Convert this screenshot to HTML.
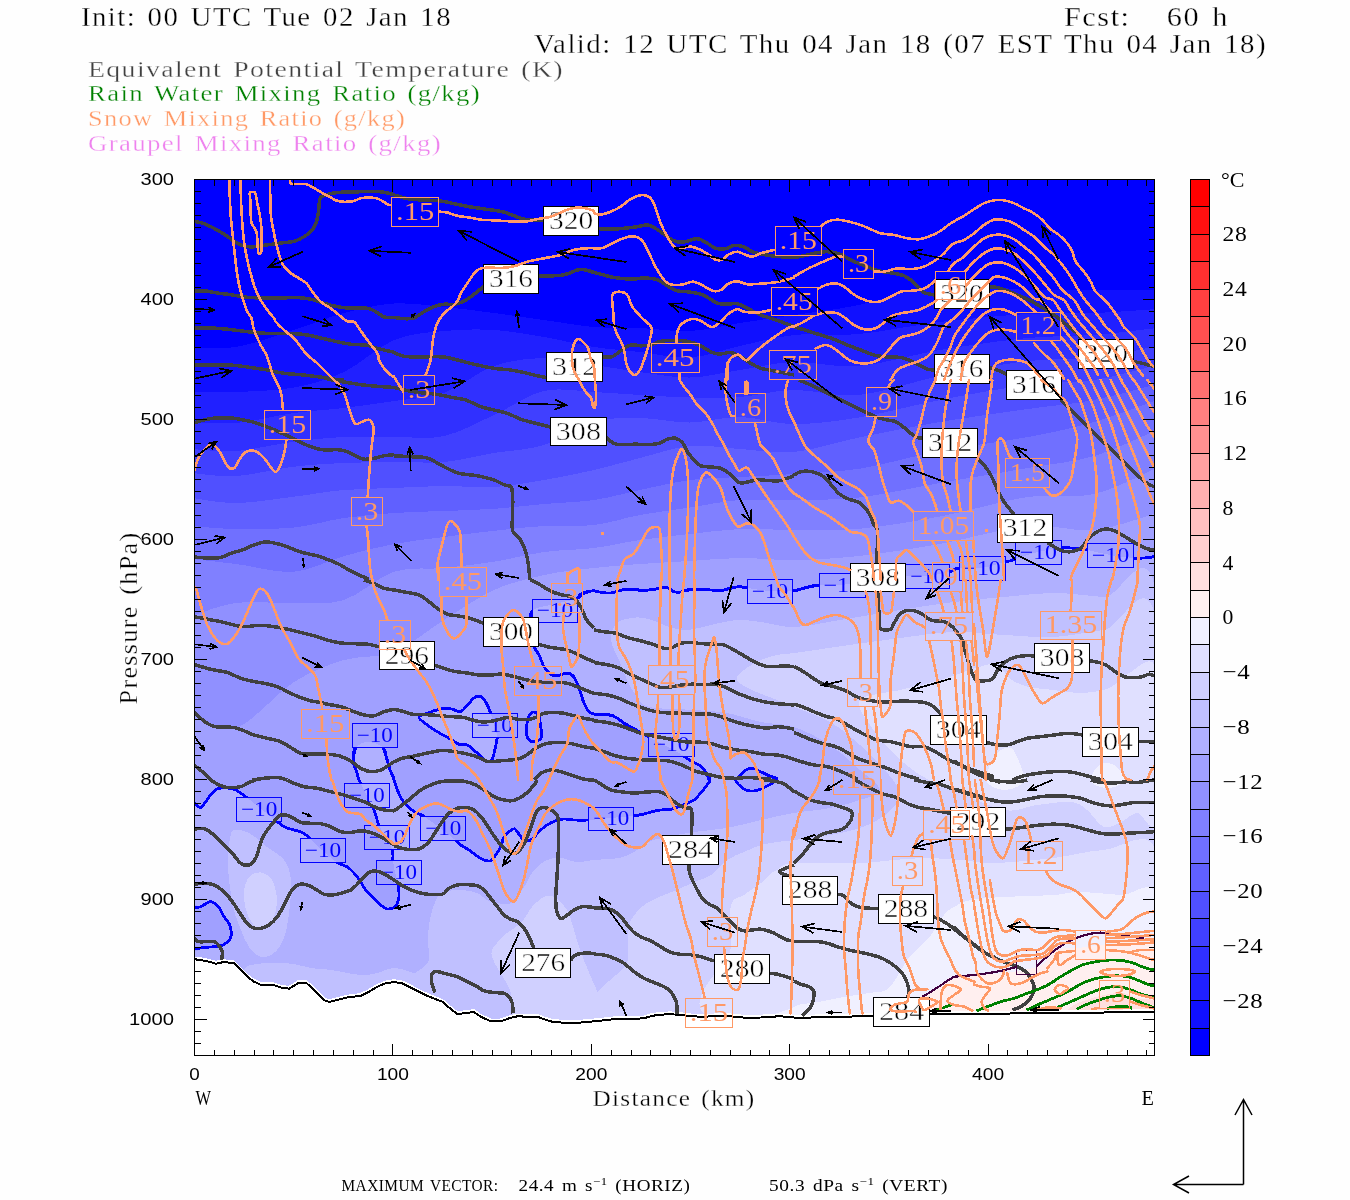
<!DOCTYPE html>
<html lang="en"><head><meta charset="utf-8"><title>Cross section: Equivalent Potential Temperature, Mixing Ratios</title>
<style>
html,body{margin:0;padding:0;background:#fff;}
body{width:1350px;height:1200px;overflow:hidden;position:relative;}
svg{position:absolute;left:0;top:0;display:block;}
text{font-family:"Liberation Serif",serif;fill:#000;}
.tt2{letter-spacing:0.03em;word-spacing:0.12em;}
.tt{letter-spacing:0.05em;word-spacing:0.1em;stroke:#fefefe;stroke-width:0.3px;}
.sans{font-family:"Liberation Sans",sans-serif;}
</style></head><body>
<svg width="1350" height="1200" viewBox="0 0 1350 1200">
<rect x="0" y="0" width="1350" height="1200" fill="#fefefe"/>
<defs><clipPath id="pc"><rect x="194.5" y="179.5" width="960" height="876"/></clipPath><mask id="ms" maskUnits="userSpaceOnUse" x="0" y="0" width="1350" height="1200"><rect x="0" y="0" width="1350" height="1200" fill="#fff"/><rect x="391.5" y="197.2" width="47.2" height="29.1" fill="#000"/><rect x="775.2" y="226.3" width="46.3" height="29" fill="#000"/><rect x="843.5" y="249.5" width="30.2" height="29.2" fill="#000"/><rect x="771.2" y="287.5" width="46.1" height="28.3" fill="#000"/><rect x="651.2" y="343.3" width="47.8" height="29.2" fill="#000"/><rect x="769" y="350.4" width="47.5" height="29" fill="#000"/><rect x="403.2" y="375" width="31.6" height="29.7" fill="#000"/><rect x="735.3" y="393.3" width="30.4" height="29.2" fill="#000"/><rect x="264.3" y="410.3" width="46.4" height="29.2" fill="#000"/><rect x="351.2" y="497.2" width="31.6" height="28.6" fill="#000"/><rect x="935.3" y="271.3" width="30.4" height="28.4" fill="#000"/><rect x="1016" y="312.5" width="44.3" height="27.8" fill="#000"/><rect x="866.5" y="387.5" width="30" height="28.8" fill="#000"/><rect x="1005.3" y="458.3" width="44.2" height="29.2" fill="#000"/><rect x="913.3" y="511.7" width="60.4" height="28.6" fill="#000"/><rect x="439.3" y="567" width="47.2" height="29.3" fill="#000"/><rect x="551.5" y="583.3" width="31.2" height="28.9" fill="#000"/><rect x="379.3" y="620" width="31.4" height="29" fill="#000"/><rect x="514.3" y="666.3" width="47.5" height="29.2" fill="#000"/><rect x="648.2" y="665.3" width="45.8" height="29.4" fill="#000"/><rect x="301.5" y="709.2" width="47.5" height="29.5" fill="#000"/><rect x="925.3" y="612.5" width="47.4" height="27.5" fill="#000"/><rect x="1040.3" y="611.2" width="61.5" height="28.3" fill="#000"/><rect x="847.3" y="678.3" width="30" height="28.4" fill="#000"/><rect x="833.2" y="765" width="47.5" height="29.7" fill="#000"/><rect x="923.7" y="810.8" width="46.1" height="28.7" fill="#000"/><rect x="1016.2" y="841.3" width="45.8" height="29.2" fill="#000"/><rect x="892.3" y="856.3" width="30.4" height="29.5" fill="#000"/><rect x="707.3" y="917.5" width="30.4" height="29.2" fill="#000"/><rect x="1075.7" y="930.8" width="29.6" height="28.7" fill="#000"/><rect x="1099.3" y="980" width="30.5" height="28.3" fill="#000"/><rect x="685.3" y="998.3" width="47.4" height="29.2" fill="#000"/><rect x="932.3" y="562.5" width="30" height="28.5" fill="#000"/></mask><mask id="mb" maskUnits="userSpaceOnUse" x="0" y="0" width="1350" height="1200"><rect x="0" y="0" width="1350" height="1200" fill="#fff"/><rect x="236.5" y="797.2" width="45.3" height="24.1" fill="#000"/><rect x="300.3" y="838.3" width="45.4" height="24.2" fill="#000"/><rect x="344.5" y="783.3" width="44.8" height="24.2" fill="#000"/><rect x="364.3" y="825.3" width="45.5" height="23.9" fill="#000"/><rect x="376.5" y="860.8" width="45" height="23.4" fill="#000"/><rect x="352.3" y="723.3" width="45" height="24.2" fill="#000"/><rect x="420.7" y="816.3" width="45" height="24" fill="#000"/><rect x="472.3" y="713.3" width="45" height="24.2" fill="#000"/><rect x="532.3" y="599.5" width="45.4" height="23" fill="#000"/><rect x="588.7" y="807.5" width="45" height="22.5" fill="#000"/><rect x="648.2" y="733.3" width="45.8" height="23" fill="#000"/><rect x="747.3" y="579" width="45.4" height="24.3" fill="#000"/><rect x="819" y="573.3" width="46.7" height="24.2" fill="#000"/><rect x="905.7" y="564.2" width="43.3" height="24.1" fill="#000"/><rect x="959" y="556.3" width="46.3" height="24.2" fill="#000"/><rect x="1015.3" y="540.3" width="46.2" height="23.9" fill="#000"/><rect x="1087.3" y="543.3" width="46.4" height="24.2" fill="#000"/></mask></defs>
<g clip-path="url(#pc)" shape-rendering="crispEdges">
<rect x="194" y="179" width="961" height="877" fill="#0000ff"/>
<path d="M192,347C199.3,347 219,349.8 236,347C253,344.2 276,335.7 294,330C312,324.3 327.3,317.4 344,313C360.7,308.6 377.3,304.5 394,303.5C410.7,302.5 427.3,305.4 444,307C460.7,308.6 477.3,310.8 494,313C510.7,315.2 527.3,317.7 544,320C560.7,322.3 578,325.7 594,327C610,328.3 624,327.3 640,328C656,328.7 673.3,331.8 690,331C706.7,330.2 722.7,325.7 740,323C757.3,320.3 774.2,318 794,315C813.8,312 834.7,310 859,305C883.3,300 911.8,287.5 940,285C968.2,282.5 1002.3,289.2 1028,290C1053.7,290.8 1072.5,290 1094,290C1115.5,290 1146.5,290 1157,290L1157.0,1056.0L192.0,1056.0Z" fill="rgb(16,16,255)"/>
<path d="M192,391.5C199.3,391.6 219,392.7 236,392C253,391.3 276,390.8 294,387.5C312,384.2 327.3,379.9 344,372C360.7,364.1 377.3,346.8 394,340C410.7,333.2 427.3,332.7 444,331C460.7,329.3 477.3,329 494,330C510.7,331 527.3,334.2 544,337C560.7,339.8 578,344.5 594,347C610,349.5 624,350.2 640,352C656,353.8 673.3,358.5 690,357.5C706.7,356.5 722.7,349.8 740,346C757.3,342.2 774.2,337 794,335C813.8,333 834.7,336.2 859,334C883.3,331.8 911.8,325.3 940,322C968.2,318.7 1002.3,315.5 1028,314C1053.7,312.5 1072.5,313.8 1094,313C1115.5,312.2 1146.5,309.7 1157,309L1157.0,1056.0L192.0,1056.0Z" fill="rgb(32,32,255)"/>
<path d="M192,422C199.3,422.2 219,424.5 236,423C253,421.5 276,415.5 294,413C312,410.5 327.3,410 344,408C360.7,406 377.3,403.5 394,401C410.7,398.5 427.3,398.8 444,393C460.7,387.2 477.3,371.8 494,366C510.7,360.2 527.3,358.2 544,358C560.7,357.8 578,362.7 594,365C610,367.3 624,369.9 640,372C656,374.1 673.3,377.8 690,377.5C706.7,377.2 722.7,372.6 740,370C757.3,367.4 774.2,362.7 794,362C813.8,361.3 834.7,368 859,366C883.3,364 911.8,354.7 940,350C968.2,345.3 1002.3,340.5 1028,338C1053.7,335.5 1072.5,336.7 1094,335C1115.5,333.3 1146.5,329.2 1157,328L1157.0,1056.0L192.0,1056.0Z" fill="rgb(48,48,255)"/>
<path d="M192,449C199.3,449.3 219,452.2 236,451C253,449.8 276,444 294,441.7C312,439.4 327.3,437.8 344,437C360.7,436.2 377.3,437.2 394,437C410.7,436.8 427.3,439.7 444,436C460.7,432.3 477.3,422.5 494,415C510.7,407.5 527.3,394.8 544,391C560.7,387.2 578,391.3 594,392C610,392.7 624,394.1 640,395C656,395.9 673.3,397.2 690,397.5C706.7,397.8 722.7,398.2 740,397C757.3,395.8 774.2,390.3 794,390C813.8,389.7 834.7,397.3 859,395C883.3,392.7 911.8,381.7 940,376C968.2,370.3 1002.3,364 1028,361C1053.7,358 1072.5,360.5 1094,358C1115.5,355.5 1146.5,348 1157,346L1157.0,1056.0L192.0,1056.0Z" fill="rgb(64,64,255)"/>
<path d="M192,473C199.3,473.5 219,477.1 236,476C253,474.9 276,468.9 294,466.7C312,464.5 327.3,463.8 344,463C360.7,462.2 377.3,462.2 394,462C410.7,461.8 427.3,463.5 444,462C460.7,460.5 477.3,455.8 494,453C510.7,450.2 527.3,450.2 544,445C560.7,439.8 578,426.5 594,422C610,417.5 624,417.9 640,418C656,418.1 673.3,422.7 690,422.5C706.7,422.3 722.7,416.8 740,417C757.3,417.2 774.2,423.9 794,424C813.8,424.1 834.7,421.5 859,417.5C883.3,413.5 911.8,405.4 940,400C968.2,394.6 1002.3,388.3 1028,385C1053.7,381.7 1072.5,383.3 1094,380C1115.5,376.7 1146.5,367.5 1157,365L1157.0,1056.0L192.0,1056.0Z" fill="rgb(80,80,255)"/>
<path d="M192,498C199.3,498.8 219,503.2 236,503C253,502.8 276,498.9 294,496.7C312,494.5 327.3,491.4 344,490C360.7,488.6 377.3,488.7 394,488C410.7,487.3 427.3,486.2 444,486C460.7,485.8 477.3,488 494,487C510.7,486 527.3,482.8 544,480C560.7,477.2 578,473.7 594,470C610,466.3 624,462 640,458C656,454 673.3,447.5 690,446C706.7,444.5 722.7,448 740,449C757.3,450 774.2,453.9 794,452C813.8,450.1 834.7,442.5 859,437.5C883.3,432.5 911.8,426.8 940,422C968.2,417.2 1002.3,412.7 1028,409C1053.7,405.3 1072.5,404.2 1094,400C1115.5,395.8 1146.5,386.7 1157,384L1157.0,1056.0L192.0,1056.0Z" fill="rgb(96,96,255)"/>
<path d="M192,526C199.3,526.5 219,528.8 236,529C253,529.2 276,529.3 294,527.5C312,525.7 327.3,520.4 344,518C360.7,515.6 377.3,514.2 394,513C410.7,511.8 427.3,511.7 444,511C460.7,510.3 477.3,510 494,508.8C510.7,507.6 527.3,505.5 544,504C560.7,502.5 578,502.3 594,500C610,497.7 624,493.3 640,490C656,486.7 673.3,482.2 690,480C706.7,477.8 722.7,478 740,477C757.3,476 774.2,475.4 794,474C813.8,472.6 834.7,472.6 859,468.8C883.3,465 911.8,456.3 940,451C968.2,445.7 1002.3,441.8 1028,437C1053.7,432.2 1072.5,428.2 1094,422C1115.5,415.8 1146.5,403.7 1157,400L1157.0,1056.0L192.0,1056.0Z" fill="rgb(112,112,255)"/>
<path d="M192,559C199.3,559.8 219,561.9 236,564C253,566.1 276,573 294,571.7C312,570.4 327.3,560.6 344,556C360.7,551.4 377.3,547.2 394,544C410.7,540.8 427.3,539.2 444,537C460.7,534.8 477.3,532.6 494,530.8C510.7,529 527.3,527 544,526C560.7,525 578,526.8 594,525C610,523.2 624,517.9 640,515C656,512.1 673.3,510 690,507.5C706.7,505 722.7,501.2 740,500C757.3,498.8 774.2,500.4 794,500C813.8,499.6 834.7,500.3 859,497.5C883.3,494.7 911.8,487.9 940,483C968.2,478.1 1002.3,472.5 1028,468C1053.7,463.5 1072.5,462.3 1094,456C1115.5,449.7 1146.5,434.3 1157,430L1157.0,1056.0L192.0,1056.0Z" fill="rgb(128,128,255)"/>
<path d="M192,616C199.3,613.8 219,605.2 236,603C253,600.8 276,603.5 294,603C312,602.5 327.3,605.2 344,600C360.7,594.8 377.3,577 394,571.7C410.7,566.4 427.3,569.7 444,568C460.7,566.3 477.3,564.4 494,561.7C510.7,559 527.3,554.3 544,552C560.7,549.7 578,550 594,548C610,546 624,542.3 640,540C656,537.7 673.3,535.8 690,534C706.7,532.2 722.7,529.7 740,529C757.3,528.3 774.2,530 794,530C813.8,530 834.7,531 859,528.8C883.3,526.5 911.8,521.8 940,516.5C968.2,511.2 1002.3,500.8 1028,497C1053.7,493.2 1072.5,498.8 1094,494C1115.5,489.2 1146.5,472.3 1157,468L1157.0,1056.0L192.0,1056.0Z" fill="rgb(144,144,255)"/>
<path d="M192,715C199.3,717.2 219,733.5 236,728C253,722.5 276,693.3 294,682C312,670.7 327.3,665 344,660C360.7,655 377.3,658.7 394,652C410.7,645.3 427.3,630.3 444,620C460.7,609.7 477.3,597.5 494,590C510.7,582.5 527.3,578.7 544,575C560.7,571.3 578,569.8 594,568C610,566.2 624,565.2 640,564C656,562.8 673.3,562 690,561C706.7,560 722.7,558.2 740,558C757.3,557.8 774.2,560.3 794,560C813.8,559.7 834.7,558.7 859,556C883.3,553.3 911.8,549 940,544C968.2,539 1002.3,528.3 1028,526C1053.7,523.7 1072.5,532.2 1094,530C1115.5,527.8 1146.5,515.8 1157,513L1157.0,1056.0L192.0,1056.0Z" fill="rgb(160,160,255)"/>
<path d="M194,803C195.1,803.8 198.8,807.7 200.7,807.5C202.6,807.3 204,803.8 205.7,801.7C207.4,799.6 208.8,797.1 210.7,795C212.6,792.9 214.3,790.2 217,789C219.7,787.8 223.9,787.8 227,788C230.1,788.2 232.6,788.5 235.7,790C238.8,791.5 241.6,793.7 245.7,796.7C249.8,799.7 254.8,803.9 260,808C265.2,812.1 273,818.2 277,821.3C281,824.4 281.2,825.2 284,826.7C286.8,828.2 290.9,829 294,830C297.1,831 299.8,831.2 302.3,832.5C304.8,833.8 305.7,834.6 309,837.5C312.3,840.4 317.3,845.8 322,850C326.7,854.2 332.8,859.7 337,862.5C341.2,865.3 344.2,865 347,866.7C349.8,868.5 351.7,870.5 354,873C356.3,875.5 358.8,878.9 360.7,881.7C362.6,884.5 363.5,887.3 365.7,890C367.9,892.7 371.5,895.5 374,898C376.5,900.5 378.5,903.2 380.7,905C382.9,906.8 384.8,908.6 387,909C389.2,909.4 392.4,908.2 394,907.5C395.6,906.8 395.7,906.8 396.5,905C397.3,903.2 398.8,900.2 399,896.7C399.2,893.2 398.7,888.1 398,884C397.3,879.9 395.8,875.9 395,872C394.2,868.1 393.4,864.5 393,860.8C392.6,857.1 393.5,853.8 392.3,850C391.1,846.2 388.2,842.1 386,838C383.8,833.9 380.7,829.1 379,825.3C377.3,821.5 376.7,818 375.7,815C374.7,812 374.6,811 373,807.5C371.4,804 368.3,798.6 366,794C363.7,789.4 360.6,783.7 359,780C357.4,776.3 357.5,775 356.5,771.7C355.5,768.4 353.1,764 353,760C352.9,756 353.2,750.5 355.7,747.5C358.2,744.5 363.4,742 368,742C372.6,742 379.8,744.5 383,747.5C386.2,750.5 385.7,756 387,760C388.3,764 389.5,768.4 390.7,771.7C391.9,775 392.9,777 394,780C395.1,783 395.9,786.7 397.3,790C398.7,793.3 400.4,797.1 402.3,800C404.2,802.9 406.8,805.4 409,807.5C411.2,809.6 413.4,811.1 415.7,812.5C418,813.9 418.9,813.2 423,815.8C427.1,818.4 434.6,823.9 440,828C445.4,832.1 452.2,837.5 455.7,840.3C459.1,843.1 458.5,843.4 460.7,845C462.9,846.6 466.3,848.2 469,850C471.7,851.8 474.5,854.3 477,856C479.5,857.7 481.7,859.2 484,860C486.3,860.8 488.8,861.6 490.7,860.8C492.6,860 494,857.4 495.7,855C497.4,852.6 499.3,849.8 500.7,846.7C502.1,843.7 502.6,839.2 504,836.7C505.4,834.2 507.2,833 509,831.7C510.8,830.4 512.8,828.2 514.8,829C516.8,829.8 518.9,834.7 520.7,836.7C522.5,838.7 523.8,840.6 525.7,841C527.6,841.4 530.1,840.5 532.3,839C534.5,837.5 536.5,834 539,831.7C541.5,829.4 544.2,826.8 547,825C549.8,823.2 552.9,821.8 555.7,820.8C558.5,819.8 561,819.1 564,819C567,818.9 569.9,819.8 574,820C578.1,820.2 582.7,820.3 588.7,820C594.7,819.7 602.5,818.7 610,818C617.5,817.3 628,816.5 633.7,815.8C639.4,815.1 641,814.7 644,814C647,813.3 649.2,812.4 652,811.7C654.8,811 657.9,810.3 660.7,810C663.5,809.7 666.3,810.1 669,809.7C671.7,809.3 674.2,808.5 677,807.5C679.8,806.5 682.9,805.2 685.7,804C688.5,802.8 691.5,801.8 694,800C696.5,798.2 698.8,795.2 700.7,793C702.7,790.8 704.2,788.9 705.7,786.7C707.2,784.5 710,782.5 710,780C710,777.5 707.5,774.2 705.7,771.7C703.9,769.2 701.5,766.8 699,765C696.5,763.2 693.2,762.5 690.7,761C688.2,759.5 688.1,758.5 684,756C679.9,753.5 672,749.2 666,746C660,742.8 652.2,739 648,736.7C643.8,734.5 643.4,734 640.7,732.5C638,731 634.8,729.1 632,727.5C629.2,725.9 626.5,724.6 624,723C621.5,721.4 619.2,719.3 617,718C614.8,716.7 613.2,715.5 610.7,715C608.2,714.5 604.8,714.9 602,714.7C599.2,714.5 596.2,714.5 594,714C591.8,713.5 590.7,713.5 589,711.7C587.3,709.9 585.4,706.1 584,703C582.6,699.9 581.9,696.3 580.7,693C579.5,689.7 578.5,686 577,683C575.5,680 573.9,676.7 572,675C570.1,673.3 568.2,672.8 565.7,673C563.2,673.2 559.5,675.8 557,676C554.5,676.2 552.9,675.5 550.7,674C548.5,672.5 546,669.9 544,666.7C542,663.5 540.7,658.3 539,655C537.3,651.7 535.2,650.9 534,646.7C532.8,642.5 532.3,636 532,630C531.7,624 528.2,615.3 532,611C535.8,606.7 547.4,606.1 555,604C562.6,601.9 573.2,600 577.7,598.3C582.2,596.6 580.4,595.1 582.3,594C584.2,592.9 587,592.2 589,591.7C591,591.2 591.8,590.7 594,590.8C596.2,590.9 599.2,592.1 602,592.5C604.8,592.9 607.9,593.3 610.7,593C613.5,592.7 616.3,591.5 619,590.8C621.7,590.1 623.4,589.1 627,589C630.6,588.9 636.5,589.9 640.7,590C644.9,590.1 648.7,590 652,589.7C655.3,589.4 658.2,588.4 660.7,588C663.2,587.6 664.8,586.9 667,587.5C669.2,588.1 671.7,591 674,591.7C676.3,592.5 678.5,592.3 680.7,592C682.9,591.7 684.3,590.5 687,590C689.7,589.5 693,589 697,589C701,589 706.8,589.7 710.7,590C714.7,590.3 717.4,591.1 720.7,590.8C724,590.5 727.7,588.7 730.7,588C733.8,587.3 736.2,586.7 739,586.7C741.8,586.7 742.1,587.3 747.3,588C752.5,588.7 762.2,590.5 770,591C777.8,591.5 788.3,591.3 794,590.8C799.7,590.3 801,588.8 804,588C807,587.2 809.5,586.5 812,586C814.5,585.5 814,585.2 819,585C824,584.8 834.2,585.8 842,585C849.8,584.2 858,581.2 866,580C874,578.8 883.3,578.7 890,578C896.7,577.3 899.8,576.3 906,576C912.2,575.7 919.8,576.7 927,576C934.2,575.3 943.7,573.3 949,572C954.3,570.7 953.5,568.7 959,568C964.5,567.3 974.3,569 982,568C989.7,567 1000.5,562.9 1005.3,561.7C1010.1,560.5 1009,561.2 1010.7,560.8C1012.4,560.3 1010.8,560.5 1015.3,559C1019.8,557.5 1030.3,553.9 1038,552C1045.7,550.1 1056,548.2 1061.5,547.5C1067,546.8 1066.4,547.6 1070.7,548C1075,548.4 1080.8,548.8 1087.3,550C1093.8,551.2 1102.3,553.7 1110,555C1117.7,556.3 1128,557.5 1133.7,558C1139.4,558.5 1140.5,558.2 1144,558C1147.5,557.8 1153.2,556.9 1155,556.7L1157.0,1056.0L192.0,1056.0Z" fill="rgb(176,176,255)"/>
<path d="M497.3,737.5C498,743.6 495.6,746.4 494.8,750C494,753.6 493.6,757 492.3,759C491.1,761 489.2,762.2 487.3,761.7C485.4,761.2 482.6,757.5 480.7,755.8C478.8,754.1 477.9,753.5 475.7,751.7C473.5,749.9 470.1,746.3 467.3,745C464.5,743.7 462.1,745.2 459,744C455.9,742.8 452.6,740 449,738C445.4,736 440.9,733.9 437.3,731.7C433.7,729.5 430.4,727.4 427.3,725C424.2,722.6 419,719.5 419,717.5C419,715.5 424.8,714.4 427.3,713.3C429.8,712.2 431.2,711.6 434,710.8C436.8,710 440.9,708.6 444,708.3C447.1,708 449.5,708.4 452.3,709C455.1,709.6 457.9,712.7 460.7,711.7C463.5,710.8 466.5,705.8 469,703.3C471.5,700.8 473.5,697.7 475.7,696.7C477.9,695.7 480.4,696.1 482.3,697.5C484.2,698.9 485.9,702.4 487.3,705C488.7,707.6 489,707.9 490.7,713.3C492.4,718.7 496.6,731.4 497.3,737.5Z" fill="rgb(176,176,255)"/>
<path d="M192,907.5C193.4,900.5 197.6,907.7 200.7,906.7C203.8,905.7 207.6,901.6 210.7,901.7C213.8,901.8 216.8,905 219,907.5C221.2,910 222.2,913.8 224,916.7C225.8,919.6 228.7,921.5 229.8,925C230.9,928.5 231.8,934.2 230.7,937.5C229.6,940.8 225.8,943.5 223,945C220.2,946.5 217.2,946.3 214,946.7C210.8,947.1 207.7,947.1 204,947.5C200.3,947.9 194,955.7 192,949C190,942.3 190.6,914.5 192,907.5Z" fill="rgb(160,160,255)"/>
<path d="M735.7,780C736,778.3 739,776.7 740.7,775C742.4,773.3 743.8,771.2 745.7,770C747.6,768.8 749.8,767.7 752.3,768C754.8,768.3 757.9,770.4 760.7,771.7C763.5,773 766.3,774.5 769,775.8C771.7,777.1 777,778 777,779.5C777,781 771.7,783.4 769,785C766.3,786.6 763.2,788 760.7,789C758.2,790 756.5,790.8 754,791C751.5,791.2 748.2,791 745.7,790C743.2,789 740.7,786.7 739,785C737.3,783.3 735.4,781.7 735.7,780Z" fill="rgb(160,160,255)"/>
<path d="M429,1025C307.7,1014.2 429.2,975 429,960C428.8,945 427.7,942.5 428,935C428.3,927.5 429.5,921.2 431,915C432.5,908.8 434.8,901.8 437,898C439.2,894.2 440,893.3 444,892C448,890.7 455.5,889.8 461,890C466.5,890.2 472.7,891.3 477,893C481.3,894.7 483.7,898.3 487,900C490.3,901.7 493,902.5 497,903C501,903.5 506.5,905.7 511,903C515.5,900.3 520.2,892.5 524,887C527.8,881.5 530.2,874.5 534,870C537.8,865.5 542.5,862 547,860C551.5,858 556,857.7 561,858C566,858.3 571.5,861.7 577,862C582.5,862.3 587,860.7 594,860C601,859.3 612.3,859.3 619,858C625.7,856.7 629,854.7 634,852C639,849.3 644.3,844.3 649,842C653.7,839.7 654.5,839.7 662,838C669.5,836.3 683.2,833.7 694,832C704.8,830.3 715.8,830 727,828C738.2,826 749.8,822.5 761,820C772.2,817.5 782.5,815 794,813C805.5,811 819,810.2 830,808C841,805.8 851.7,803 860,800C868.3,797 880,795 880,790C880,785 868.3,777.5 860,770C851.7,762.5 841,752.2 830,745C819,737.8 805.5,730.8 794,727C782.5,723.2 772.2,724.3 761,722C749.8,719.7 738.2,715 727,713C715.8,711 707,711 694,710C681,709 658.5,709.2 649,707C639.5,704.8 640.7,701.5 637,697C633.3,692.5 630,686.2 627,680C624,673.8 621.7,666.7 619,660C616.3,653.3 611.3,646.2 611,640C610.7,633.8 612.8,626.8 617,623C621.2,619.2 630.2,618 636,617.5C641.8,617 646.5,618.4 652,620C657.5,621.6 663.2,625.3 669,627C674.8,628.7 680,630.3 687,630C694,629.7 702.8,626.7 711,625C719.2,623.3 727.7,620.5 736,620C744.3,619.5 751.3,620.8 761,622C770.7,623.2 780.8,627.3 794,627C807.2,626.7 822.3,622.8 840,620C857.7,617.2 881,613 900,610C919,607 936.7,604.2 954,602C971.3,599.8 987.3,598.5 1004,597C1020.7,595.5 1037.3,593 1054,593C1070.7,593 1086.8,595.8 1104,597C1121.2,598.2 1148.2,528.7 1157,600C1165.8,671.3 1278.3,954.2 1157,1025C1035.7,1095.8 550.3,1035.8 429,1025Z" fill="rgb(192,192,255)"/>
<path d="M234,830C237.2,829.2 243.5,830.2 249,833C254.5,835.8 261.2,842.5 267,847C272.8,851.5 280,854.5 284,860C288,865.5 290.2,871.2 291,880C291.8,888.8 290.2,903.3 289,913C287.8,922.7 286.5,931.3 284,938C281.5,944.7 277.8,949.8 274,953C270.2,956.2 265.2,958 261,957C256.8,956 252.3,951.5 249,947C245.7,942.5 243.5,936.2 241,930C238.5,923.8 236,918.3 234,910C232,901.7 230,889.2 229,880C228,870.8 227.8,862 228,855C228.2,848 229,842.2 230,838C231,833.8 230.8,830.8 234,830Z" fill="rgb(192,192,255)"/>
<path d="M240,1000C209.2,990.8 241.2,976 244,970C246.8,964 251.5,965.2 257,964C262.5,962.8 270.8,963 277,963C283.2,963 288.3,963.2 294,964C299.7,964.8 304.8,967 311,968C317.2,969 322.7,968.8 331,970C339.3,971.2 353.3,974.5 361,975C368.7,975.5 371.5,974.2 377,973C382.5,971.8 388.5,968.2 394,968C399.5,967.8 404.2,970 410,972C415.8,974 425.8,971.2 429,980C432.2,988.8 460.5,1021.7 429,1025C397.5,1028.3 270.8,1009.2 240,1000Z" fill="rgb(192,192,255)"/>
<path d="M737,680C735.7,676.7 740,673.3 744,670C748,666.7 755.5,662.5 761,660C766.5,657.5 771.5,656.2 777,655C782.5,653.8 781.8,654.7 794,653C806.2,651.3 832.3,647.5 850,645C867.7,642.5 882.7,640.2 900,638C917.3,635.8 936.7,632.5 954,632C971.3,631.5 987.3,634.2 1004,635C1020.7,635.8 1037.3,637.8 1054,637C1070.7,636.2 1086.8,631.7 1104,630C1121.2,628.3 1148.2,561.2 1157,627C1165.8,692.8 1245.2,958.7 1157,1025C1068.8,1091.3 716.2,1035.8 628,1025C539.8,1014.2 627.8,976.3 628,960C628.2,943.7 627.7,934.8 629,927C630.3,919.2 633,917 636,913C639,909 642.3,906 647,903C651.7,900 659,897.2 664,895C669,892.8 672,892.2 677,890C682,887.8 688.3,884.5 694,882C699.7,879.5 705.5,878.7 711,875C716.5,871.3 721.5,863.8 727,860C732.5,856.2 738.3,854.5 744,852C749.7,849.5 755.5,846.7 761,845C766.5,843.3 771.5,842.8 777,842C782.5,841.2 785.2,841.2 794,840C802.8,838.8 819,837 830,835C841,833 850.8,831.3 860,828C869.2,824.7 878.3,820.5 885,815C891.7,809.5 900,802.5 900,795C900,787.5 891.7,778.3 885,770C878.3,761.7 869.2,753 860,745C850.8,737 841,728.3 830,722C819,715.7 802.8,710.7 794,707C785.2,703.3 784,702.8 777,700C770,697.2 758.7,693.3 752,690C745.3,686.7 738.3,683.3 737,680Z" fill="rgb(208,208,255)"/>
<path d="M492,957C489.8,949.2 494.5,947 497,943C499.5,939 503,936.3 507,933C511,929.7 516.8,927.3 521,923C525.2,918.7 528.2,911.3 532,907C535.8,902.7 540.3,898.7 544,897C547.7,895.3 550.2,894.8 554,897C557.8,899.2 563.7,904.5 567,910C570.3,915.5 571.8,923.3 574,930C576.2,936.7 577.3,942.5 580,950C582.7,957.5 586.7,966.7 590,975C593.3,983.3 598.3,991.7 600,1000C601.7,1008.3 613.2,1020.8 600,1025C586.8,1029.2 536,1030.8 521,1025C506,1019.2 514.8,1001.3 510,990C505.2,978.7 494.2,964.8 492,957Z" fill="rgb(208,208,255)"/>
<path d="M249,877C251.8,873.6 257.2,872 261,872.5C264.8,873 269.3,875.4 272,880C274.7,884.6 276.7,893.8 277,900C277.3,906.2 275.8,912.5 274,917C272.2,921.5 269,925.3 266,927C263,928.7 259.2,929.3 256,927C252.8,924.7 249,918.7 247,913C245,907.3 243.7,899 244,893C244.3,887 246.2,880.4 249,877Z" fill="rgb(208,208,255)"/>
<path d="M731,1025C660,1012 731,967 731,947C731,927 728.8,913.7 731,905C733.2,896.3 739,898.7 744,895C749,891.3 756.8,886.3 761,883C765.2,879.7 766.3,877.2 769,875C771.7,872.8 772.8,872 777,870C781.2,868 780,864.2 794,863C808,861.8 844.3,863.5 861,863C877.7,862.5 883,860.8 894,860C905,859.2 915.8,858 927,858C938.2,858 949.8,859.2 961,860C972.2,860.8 978.5,863.3 994,863C1009.5,862.7 1035.7,860.2 1054,858C1072.3,855.8 1086.8,850.8 1104,850C1121.2,849.2 1148.2,823.8 1157,853C1165.8,882.2 1228,996.3 1157,1025C1086,1053.7 802,1038 731,1025Z" fill="rgb(224,224,255)"/>
<path d="M860,700C865,694.2 886.7,693.3 900,690C913.3,686.7 926.8,683.8 940,680C953.2,676.2 969.7,669.5 979,667C988.3,664.5 990.5,662.8 996,665C1001.5,667.2 1006.5,676.3 1012,680C1017.5,683.7 1022,685.3 1029,687C1036,688.7 1045.7,689 1054,690C1062.3,691 1070.7,693 1079,693C1087.3,693 1097.7,691.7 1104,690C1110.3,688.3 1112.8,685.8 1117,683C1121.2,680.2 1122.3,674.8 1129,673C1135.7,671.2 1152.3,647.8 1157,672C1161.7,696.2 1160.3,794.5 1157,818C1153.7,841.5 1143,812.3 1137,813C1131,813.7 1126.5,819.7 1121,822C1115.5,824.3 1109.7,829 1104,827C1098.3,825 1092.5,814.2 1087,810C1081.5,805.8 1079.3,802.8 1071,802C1062.7,801.2 1048.2,803.7 1037,805C1025.8,806.3 1017.8,812.5 1004,810C990.2,807.5 968,795.8 954,790C940,784.2 930.7,781.7 920,775C909.3,768.3 898.3,758.3 890,750C881.7,741.7 875,733.3 870,725C865,716.7 855,705.8 860,700Z" fill="rgb(224,224,255)"/>
<path d="M794,1025C733.5,1022 789.8,1010.8 794,1007C798.2,1003.2 810.7,1003.7 819,1002C827.3,1000.3 835.7,998.5 844,997C852.3,995.5 862,994.2 869,993C876,991.8 881.3,992.7 886,990C890.7,987.3 893.5,982 897,977C900.5,972 903.3,965 907,960C910.7,955 915,951.2 919,947C923,942.8 926.8,940.3 931,935C935.2,929.7 940.2,919.7 944,915C947.8,910.3 949.5,909.5 954,907C958.5,904.5 962.7,901.7 971,900C979.3,898.3 990.2,897.8 1004,897C1017.8,896.2 1041.5,895.8 1054,895C1066.5,894.2 1067.8,892 1079,892C1090.2,892 1108,894.2 1121,895C1134,895.8 1151,875.3 1157,897C1163,918.7 1217.5,1003.7 1157,1025C1096.5,1046.3 854.5,1028 794,1025Z" fill="rgb(240,240,255)"/>
<path d="M987,782C984.7,777.5 988.7,768.3 991,763C993.3,757.7 997.7,752.5 1001,750C1004.3,747.5 1008.3,746.8 1011,748C1013.7,749.2 1015.3,753.8 1017,757C1018.7,760.2 1019.8,762.8 1021,767C1022.2,771.2 1026.7,778.2 1024,782C1021.3,785.8 1011.2,790 1005,790C998.8,790 989.3,786.5 987,782Z" fill="rgb(240,240,255)"/>
<path d="M1091,782C1089,778.7 1093.8,771.2 1096,768C1098.2,764.8 1101,763.5 1104,763C1107,762.5 1111.2,763.5 1114,765C1116.8,766.5 1119.3,769.2 1121,772C1122.7,774.8 1126.2,779.3 1124,782C1121.8,784.7 1113.5,788 1108,788C1102.5,788 1093,785.3 1091,782Z" fill="rgb(240,240,255)"/>
<path d="M915,1020C875.8,1016.2 919.2,1001.7 922,997C924.8,992.3 928.8,993.7 932,992C935.2,990.3 938.5,988.8 941,987C943.5,985.2 944.8,982.7 947,981C949.2,979.3 944.5,978.3 954,977C963.5,975.7 990.2,974.7 1004,973C1017.8,971.3 1029.8,969.2 1037,967C1044.2,964.8 1043.7,962.8 1047,960C1050.3,957.2 1052.2,952 1057,950C1061.8,948 1059.3,948.5 1076,948C1092.7,947.5 1143.5,935 1157,947C1170.5,959 1197.3,1007.8 1157,1020C1116.7,1032.2 954.2,1023.8 915,1020Z" fill="rgb(255,239,239)"/>
<path d="M1071,1020C1056.7,1017.8 1066.8,1010.8 1071,1007C1075.2,1003.2 1087.7,999.3 1096,997C1104.3,994.7 1114.2,992.8 1121,993C1127.8,993.2 1131,996.5 1137,998C1143,999.5 1153.7,998.3 1157,1002C1160.3,1005.7 1171.3,1017 1157,1020C1142.7,1023 1085.3,1022.2 1071,1020Z" fill="rgb(255,223,223)"/>
<path d="M194,959.2 200.7,960 209,961.7 215.7,963.7 224,962 234,963.3 240.7,970 247.3,976.7 254,981.7 260.7,984.7 272.3,984.7 280.7,987.5 289,988.7 294,985.8 299,982.5 305.7,982.5 310.7,986.7 317.3,993.3 324,1000 329,1002 337.3,1000 347.3,997.5 360.7,995.8 369,991.7 377.3,986.7 385.7,983.3 394,982 402.3,983.3 410.7,987.5 419,991.7 427.3,995.8 435.7,999.2 442.3,1001.7 449,1007.5 457.3,1014.2 465.7,1013 474,1012 480.7,1016.7 490.7,1021.3 500.7,1021.3 509,1018.3 517.3,1016.3 527.3,1016.7 537.3,1016.7 544,1019.2 552.3,1021.7 560.7,1022.5 570.7,1022.5 580.7,1022.5 594,1021.3 604,1020.3 614,1019.2 627.3,1019.2 644,1018.3 652.3,1015.8 660.7,1014.7 670.7,1014.2 680.7,1015 690.7,1016.3 702.3,1016.7 714,1016.3 724,1015.8 735.7,1016.7 747.3,1018 760.7,1017.5 770.7,1016.7 780.7,1016.3 794,1017.5 810.7,1017.5 827.3,1016.7 844,1016.7 860.7,1016.3 873.5,1015.8 929.8,1014.2 944,1014.2 960.7,1013.7 994,1013.7 1054,1013 1155,1012L1156.0,1057.0L193.0,1057.0Z" fill="#ffffff"/><path d="M194,959.2 200.7,960 209,961.7 215.7,963.7 224,962 234,963.3 240.7,970 247.3,976.7 254,981.7 260.7,984.7 272.3,984.7 280.7,987.5 289,988.7 294,985.8 299,982.5 305.7,982.5 310.7,986.7 317.3,993.3 324,1000 329,1002 337.3,1000 347.3,997.5 360.7,995.8 369,991.7 377.3,986.7 385.7,983.3 394,982 402.3,983.3 410.7,987.5 419,991.7 427.3,995.8 435.7,999.2 442.3,1001.7 449,1007.5 457.3,1014.2 465.7,1013 474,1012 480.7,1016.7 490.7,1021.3 500.7,1021.3 509,1018.3 517.3,1016.3 527.3,1016.7 537.3,1016.7 544,1019.2 552.3,1021.7 560.7,1022.5 570.7,1022.5 580.7,1022.5 594,1021.3 604,1020.3 614,1019.2 627.3,1019.2 644,1018.3 652.3,1015.8 660.7,1014.7 670.7,1014.2 680.7,1015 690.7,1016.3 702.3,1016.7 714,1016.3 724,1015.8 735.7,1016.7 747.3,1018 760.7,1017.5 770.7,1016.7 780.7,1016.3 794,1017.5 810.7,1017.5 827.3,1016.7 844,1016.7 860.7,1016.3 873.5,1015.8 929.8,1014.2 944,1014.2 960.7,1013.7 994,1013.7 1054,1013 1155,1012" fill="none" stroke="#fff" stroke-width="2" stroke-linejoin="round" transform="translate(0,-1.8)"/><path d="M194,959.2 200.7,960 209,961.7 215.7,963.7 224,962 234,963.3 240.7,970 247.3,976.7 254,981.7 260.7,984.7 272.3,984.7 280.7,987.5 289,988.7 294,985.8 299,982.5 305.7,982.5 310.7,986.7 317.3,993.3 324,1000 329,1002 337.3,1000 347.3,997.5 360.7,995.8 369,991.7 377.3,986.7 385.7,983.3 394,982 402.3,983.3 410.7,987.5 419,991.7 427.3,995.8 435.7,999.2 442.3,1001.7 449,1007.5 457.3,1014.2 465.7,1013 474,1012 480.7,1016.7 490.7,1021.3 500.7,1021.3 509,1018.3 517.3,1016.3 527.3,1016.7 537.3,1016.7 544,1019.2 552.3,1021.7 560.7,1022.5 570.7,1022.5 580.7,1022.5 594,1021.3 604,1020.3 614,1019.2 627.3,1019.2 644,1018.3 652.3,1015.8 660.7,1014.7 670.7,1014.2 680.7,1015 690.7,1016.3 702.3,1016.7 714,1016.3 724,1015.8 735.7,1016.7 747.3,1018 760.7,1017.5 770.7,1016.7 780.7,1016.3 794,1017.5 810.7,1017.5 827.3,1016.7 844,1016.7 860.7,1016.3 873.5,1015.8 929.8,1014.2 944,1014.2 960.7,1013.7 994,1013.7 1054,1013 1155,1012" fill="none" stroke="#000" stroke-width="2" stroke-linejoin="round"/>
<g mask="url(#mb)"><path d="M1005.3,561.7C1006.2,561.5 1009,561.2 1010.7,560.8C1012.3,560.4 1014.6,559.4 1015.3,559.2M1061.5,547.5C1063,547.6 1066.4,547.6 1070.7,548C1075,548.4 1084.6,549.7 1087.3,550M1133.7,558.3C1135.4,558.3 1140.6,558.3 1144,558C1147.4,557.7 1152.3,556.9 1154,556.7M359,780C358.6,778.6 357.5,775 356.5,771.7C355.5,768.3 353.3,764 353.2,760C353,756 355.2,749.6 355.7,747.5M383.2,747.5C383.9,749.6 386.1,756 387.3,760C388.6,764 389.6,768.6 390.7,771.7C391.8,774.7 393.4,777.2 394,778.3M497.3,737.5C496.9,739.6 495.7,746.4 494.8,750C494,753.6 493.6,757.2 492.3,759.2C491.1,761.1 489.3,762.2 487.3,761.7C485.4,761.1 482.6,757.5 480.7,755.8C478.7,754.2 477.9,753.5 475.7,751.7C473.4,749.9 470.1,746.2 467.3,745C464.6,743.8 462.1,745.3 459,744.2C455.9,743.1 452.6,740.4 449,738.3C445.4,736.2 440.9,733.9 437.3,731.7C433.7,729.4 430.4,727.4 427.3,725C424.3,722.6 419,719.4 419,717.5C419,715.6 424.8,714.4 427.3,713.3C429.8,712.2 431.2,711.7 434,710.8C436.8,710 440.9,708.6 444,708.3C447.1,708.1 449.6,708.6 452.3,709.2C455.1,709.7 457.9,712.6 460.7,711.7C463.4,710.7 466.5,705.8 469,703.3C471.5,700.8 473.4,697.6 475.7,696.7C477.9,695.7 480.4,696.1 482.3,697.5C484.3,698.9 485.9,702.4 487.3,705C488.7,707.6 490.1,711.9 490.7,713.3M530.7,713.3C529.3,714.9 528,718.3 527.3,721.7C526.6,725 526.2,730.3 526.5,733.3C526.8,736.4 527.5,738.6 529,740C530.5,741.4 533.6,742.2 535.7,741.7C537.8,741.1 540.7,739.2 541.5,736.7C542.3,734.2 541.1,730 540.7,726.7C540.2,723.3 539.8,719 539,716.7C538.2,714.3 537.1,713.1 535.7,712.5C534.3,711.9 532.1,711.8 530.7,713.3ZM534,646.7C534.8,648.1 537.3,651.7 539,655C540.7,658.3 542.1,663.5 544,666.7C545.9,669.9 548.4,672.6 550.7,674.2C552.9,675.7 554.8,676 557.3,675.8C559.8,675.7 563.2,673.5 565.7,673.3C568.2,673.2 570.4,673.3 572.3,675C574.3,676.7 575.9,680.3 577.3,683.3C578.7,686.4 579.6,690 580.7,693.3C581.8,696.7 582.6,700.3 584,703.3C585.4,706.4 587.3,709.9 589,711.7C590.7,713.5 593.2,713.8 594,714.2M577.7,598.3C578.2,597.6 579.1,595.3 580.7,594.2C582.3,593.1 585.1,592.2 587.3,591.7C589.6,591.1 592.9,591 594,590.8M594,590.8C595.4,591.1 599.6,592.1 602.3,592.5C605.1,592.9 607.9,593.3 610.7,593C613.4,592.7 616.2,591.5 619,590.8C621.8,590.2 623.7,589.2 627.3,589.2C630.9,589.1 636.5,590.2 640.7,590.3C644.8,590.4 649,590.1 652.3,589.7C655.7,589.3 658.2,588.4 660.7,588C663.2,587.6 665.1,586.9 667.3,587.5C669.6,588.1 671.8,590.9 674,591.7C676.2,592.4 678.4,592.2 680.7,592C682.9,591.8 684.6,590.8 687.3,590.3C690.1,589.9 693.4,589.2 697.3,589.2C701.2,589.1 706.8,589.7 710.7,590C714.6,590.3 717.3,591.1 720.7,590.8C724,590.6 727.6,589 730.7,588.3C733.7,587.6 736.2,586.7 739,586.7C741.8,586.6 745.9,587.8 747.3,588M594,714.2C595.4,714.2 599.6,714.5 602.3,714.7C605.1,714.9 608.2,714.7 610.7,715.3C613.2,715.9 615.1,717 617.3,718.3C619.6,719.7 621.5,721.8 624,723.3C626.5,724.9 629.6,726 632.3,727.5C635.1,729 638,731 640.7,732.5C643.3,734 646.9,736 648.2,736.7M684,756.3C685.1,757.1 688.2,759.4 690.7,760.8C693.2,762.3 696.5,763.2 699,765C701.5,766.8 704,769.2 705.7,771.7C707.3,774.2 708.4,778.6 709,780M740.7,775C741.5,774.2 743.7,771.1 745.7,770C747.6,768.9 749.8,768.1 752.3,768.3C754.8,768.6 757.9,770.4 760.7,771.7C763.4,772.9 766.2,774.7 769,775.8C771.8,776.9 775.9,777.9 777.3,778.3M794,590.8C795.7,590.4 800.9,589.1 804,588.3C807.1,587.6 809.8,586.8 812.3,586.3C814.8,585.8 817.9,585.5 819,585.3M194,907.5C195.1,907.4 197.9,907.7 200.7,906.7C203.5,905.7 207.6,901.6 210.7,901.7C213.8,901.8 216.8,905 219,907.5C221.2,910 222.2,913.8 224,916.7C225.8,919.6 228.7,921.5 229.8,925C230.9,928.5 231.8,934.2 230.7,937.5C229.6,940.8 225.8,943.5 223,945C220.2,946.5 217.2,946.3 214,946.7C210.8,947.1 207.3,947.1 204,947.5C200.7,947.9 195.7,948.8 194,949M735.7,780C736,778.3 739,776.7 740.7,775C742.4,773.3 743.8,771.2 745.7,770C747.6,768.8 749.8,767.7 752.3,768C754.8,768.3 757.9,770.4 760.7,771.7C763.5,773 766.3,774.5 769,775.8C771.7,777.1 777,778 777,779.5C777,781 771.7,783.4 769,785C766.3,786.6 763.2,788 760.7,789C758.2,790 756.5,790.8 754,791C751.5,791.2 748.2,791 745.7,790C743.2,789 740.7,786.7 739,785C737.3,783.3 735.4,781.7 735.7,780ZM194,803C195.1,803.8 198.8,807.7 200.7,807.5C202.6,807.3 204,803.8 205.7,801.7C207.4,799.6 208.8,797.1 210.7,795C212.6,792.9 214.3,790.2 217,789C219.7,787.8 223.9,787.8 227,788C230.1,788.2 232.6,788.5 235.7,790C238.8,791.5 241.6,793.7 245.7,796.7C249.8,799.7 254.8,803.9 260,808C265.2,812.1 273,818.2 277,821.3C281,824.4 281.2,825.2 284,826.7C286.8,828.2 290.9,829 294,830C297.1,831 299.8,831.2 302.3,832.5C304.8,833.8 305.7,834.6 309,837.5C312.3,840.4 317.3,845.8 322,850C326.7,854.2 332.8,859.7 337,862.5C341.2,865.3 344.2,865 347,866.7C349.8,868.5 351.7,870.5 354,873C356.3,875.5 358.8,878.9 360.7,881.7C362.6,884.5 363.5,887.3 365.7,890C367.9,892.7 371.5,895.5 374,898C376.5,900.5 378.5,903.2 380.7,905C382.9,906.8 384.8,908.6 387,909C389.2,909.4 392.4,908.2 394,907.5C395.6,906.8 395.7,906.8 396.5,905C397.3,903.2 398.8,900.2 399,896.7C399.2,893.2 398.7,888.1 398,884C397.3,879.9 395.8,875.9 395,872C394.2,868.1 393.4,864.5 393,860.8C392.6,857.1 393.5,853.8 392.3,850C391.1,846.2 388.2,842.1 386,838C383.8,833.9 380.7,829.1 379,825.3C377.3,821.5 376.7,818 375.7,815C374.7,812 374.6,811 373,807.5C371.4,804 368.3,798.6 366,794C363.7,789.4 360.6,783.7 359,780C357.4,776.3 357.5,775 356.5,771.7C355.5,768.4 353.1,764 353,760C352.9,756 353.2,750.5 355.7,747.5C358.2,744.5 363.4,742 368,742C372.6,742 379.8,744.5 383,747.5C386.2,750.5 385.7,756 387,760C388.3,764 389.5,768.4 390.7,771.7C391.9,775 392.9,777 394,780C395.1,783 395.9,786.7 397.3,790C398.7,793.3 400.4,797.1 402.3,800C404.2,802.9 406.8,805.4 409,807.5C411.2,809.6 413.4,811.1 415.7,812.5C418,813.9 418.9,813.2 423,815.8C427.1,818.4 434.6,823.9 440,828C445.4,832.1 452.2,837.5 455.7,840.3C459.1,843.1 458.5,843.4 460.7,845C462.9,846.6 466.3,848.2 469,850C471.7,851.8 474.5,854.3 477,856C479.5,857.7 481.7,859.2 484,860C486.3,860.8 488.8,861.6 490.7,860.8C492.6,860 494,857.4 495.7,855C497.4,852.6 499.3,849.8 500.7,846.7C502.1,843.7 502.6,839.2 504,836.7C505.4,834.2 507.2,833 509,831.7C510.8,830.4 512.8,828.2 514.8,829C516.8,829.8 518.9,834.7 520.7,836.7C522.5,838.7 523.8,840.6 525.7,841C527.6,841.4 530.1,840.5 532.3,839C534.5,837.5 536.5,834 539,831.7C541.5,829.4 544.2,826.8 547,825C549.8,823.2 552.9,821.8 555.7,820.8C558.5,819.8 561,819.1 564,819C567,818.9 569.9,819.8 574,820C578.1,820.2 582.7,820.3 588.7,820C594.7,819.7 602.5,818.7 610,818C617.5,817.3 628,816.5 633.7,815.8C639.4,815.1 641,814.7 644,814C647,813.3 649.2,812.4 652,811.7C654.8,811 657.9,810.3 660.7,810C663.5,809.7 666.3,810.1 669,809.7C671.7,809.3 674.2,808.5 677,807.5C679.8,806.5 682.9,805.2 685.7,804C688.5,802.8 691.5,801.8 694,800C696.5,798.2 698.8,795.2 700.7,793C702.7,790.8 704.2,788.9 705.7,786.7C707.2,784.5 710,782.5 710,780C710,777.5 707.5,774.2 705.7,771.7C703.9,769.2 701.5,766.8 699,765C696.5,763.2 693.2,762.5 690.7,761C688.2,759.5 688.1,758.5 684,756C679.9,753.5 672,749.2 666,746C660,742.8 652.2,739 648,736.7C643.8,734.5 643.4,734 640.7,732.5C638,731 634.8,729.1 632,727.5C629.2,725.9 626.5,724.6 624,723C621.5,721.4 619.2,719.3 617,718C614.8,716.7 613.2,715.5 610.7,715C608.2,714.5 604.8,714.9 602,714.7C599.2,714.5 596.2,714.5 594,714C591.8,713.5 590.7,713.5 589,711.7C587.3,709.9 585.4,706.1 584,703C582.6,699.9 581.9,696.3 580.7,693C579.5,689.7 578.5,686 577,683C575.5,680 573.9,676.7 572,675C570.1,673.3 568.2,672.8 565.7,673C563.2,673.2 559.5,675.8 557,676C554.5,676.2 552.9,675.5 550.7,674C548.5,672.5 546,669.9 544,666.7C542,663.5 540.7,658.3 539,655C537.3,651.7 535.2,650.9 534,646.7C532.8,642.5 532.3,636 532,630C531.7,624 528.2,615.3 532,611C535.8,606.7 547.4,606.1 555,604C562.6,601.9 573.2,600 577.7,598.3C582.2,596.6 580.4,595.1 582.3,594C584.2,592.9 587,592.2 589,591.7C591,591.2 591.8,590.7 594,590.8C596.2,590.9 599.2,592.1 602,592.5C604.8,592.9 607.9,593.3 610.7,593C613.5,592.7 616.3,591.5 619,590.8C621.7,590.1 623.4,589.1 627,589C630.6,588.9 636.5,589.9 640.7,590C644.9,590.1 648.7,590 652,589.7C655.3,589.4 658.2,588.4 660.7,588C663.2,587.6 664.8,586.9 667,587.5C669.2,588.1 671.7,591 674,591.7C676.3,592.5 678.5,592.3 680.7,592C682.9,591.7 684.3,590.5 687,590C689.7,589.5 693,589 697,589C701,589 706.8,589.7 710.7,590C714.7,590.3 717.4,591.1 720.7,590.8C724,590.5 727.7,588.7 730.7,588C733.8,587.3 736.2,586.7 739,586.7C741.8,586.7 742.1,587.3 747.3,588C752.5,588.7 762.2,590.5 770,591C777.8,591.5 788.3,591.3 794,590.8C799.7,590.3 801,588.8 804,588C807,587.2 809.5,586.5 812,586C814.5,585.5 814,585.2 819,585C824,584.8 834.2,585.8 842,585C849.8,584.2 858,581.2 866,580C874,578.8 883.3,578.7 890,578C896.7,577.3 899.8,576.3 906,576C912.2,575.7 919.8,576.7 927,576C934.2,575.3 943.7,573.3 949,572C954.3,570.7 953.5,568.7 959,568C964.5,567.3 974.3,569 982,568C989.7,567 1000.5,562.9 1005.3,561.7C1010.1,560.5 1009,561.2 1010.7,560.8C1012.4,560.3 1010.8,560.5 1015.3,559C1019.8,557.5 1030.3,553.9 1038,552C1045.7,550.1 1056,548.2 1061.5,547.5C1067,546.8 1066.4,547.6 1070.7,548C1075,548.4 1080.8,548.8 1087.3,550C1093.8,551.2 1102.3,553.7 1110,555C1117.7,556.3 1128,557.5 1133.7,558C1139.4,558.5 1140.5,558.2 1144,558C1147.5,557.8 1153.2,556.9 1155,556.7" fill="none" stroke="#0000ff" stroke-width="2.8" stroke-linejoin="round" stroke-linecap="butt"/></g>
<rect x="236.5" y="797.2" width="45.3" height="24.1" fill="none" stroke="#0000ff" stroke-width="1"/><text class="lb" x="241" y="815.6" font-size="21" textLength="36.3" lengthAdjust="spacingAndGlyphs" style="fill:#0000ff">−10</text><rect x="300.3" y="838.3" width="45.4" height="24.2" fill="none" stroke="#0000ff" stroke-width="1"/><text class="lb" x="304.8" y="856.7" font-size="21" textLength="36.4" lengthAdjust="spacingAndGlyphs" style="fill:#0000ff">−10</text><rect x="344.5" y="783.3" width="44.8" height="24.2" fill="none" stroke="#0000ff" stroke-width="1"/><text class="lb" x="349" y="801.7" font-size="21" textLength="35.8" lengthAdjust="spacingAndGlyphs" style="fill:#0000ff">−10</text><rect x="364.3" y="825.3" width="45.5" height="23.9" fill="none" stroke="#0000ff" stroke-width="1"/><text class="lb" x="368.8" y="843.6" font-size="21" textLength="36.5" lengthAdjust="spacingAndGlyphs" style="fill:#0000ff">−10</text><rect x="376.5" y="860.8" width="45" height="23.4" fill="none" stroke="#0000ff" stroke-width="1"/><text class="lb" x="381" y="878.8" font-size="21" textLength="36" lengthAdjust="spacingAndGlyphs" style="fill:#0000ff">−10</text><rect x="352.3" y="723.3" width="45" height="24.2" fill="none" stroke="#0000ff" stroke-width="1"/><text class="lb" x="356.8" y="741.7" font-size="21" textLength="36" lengthAdjust="spacingAndGlyphs" style="fill:#0000ff">−10</text><rect x="420.7" y="816.3" width="45" height="24" fill="none" stroke="#0000ff" stroke-width="1"/><text class="lb" x="425.2" y="834.6" font-size="21" textLength="36" lengthAdjust="spacingAndGlyphs" style="fill:#0000ff">−10</text><rect x="472.3" y="713.3" width="45" height="24.2" fill="none" stroke="#0000ff" stroke-width="1"/><text class="lb" x="476.8" y="731.7" font-size="21" textLength="36" lengthAdjust="spacingAndGlyphs" style="fill:#0000ff">−10</text><rect x="532.3" y="599.5" width="45.4" height="23" fill="none" stroke="#0000ff" stroke-width="1"/><text class="lb" x="536.8" y="617.3" font-size="21" textLength="36.4" lengthAdjust="spacingAndGlyphs" style="fill:#0000ff">−10</text><rect x="588.7" y="807.5" width="45" height="22.5" fill="none" stroke="#0000ff" stroke-width="1"/><text class="lb" x="593.2" y="825.1" font-size="21" textLength="36" lengthAdjust="spacingAndGlyphs" style="fill:#0000ff">−10</text><rect x="648.2" y="733.3" width="45.8" height="23" fill="none" stroke="#0000ff" stroke-width="1"/><text class="lb" x="652.7" y="751.1" font-size="21" textLength="36.8" lengthAdjust="spacingAndGlyphs" style="fill:#0000ff">−10</text><rect x="747.3" y="579" width="45.4" height="24.3" fill="none" stroke="#0000ff" stroke-width="1"/><text class="lb" x="751.8" y="597.5" font-size="21" textLength="36.4" lengthAdjust="spacingAndGlyphs" style="fill:#0000ff">−10</text><rect x="819" y="573.3" width="46.7" height="24.2" fill="none" stroke="#0000ff" stroke-width="1"/><text class="lb" x="823.5" y="591.7" font-size="21" textLength="37.7" lengthAdjust="spacingAndGlyphs" style="fill:#0000ff">−10</text><rect x="905.7" y="564.2" width="43.3" height="24.1" fill="none" stroke="#0000ff" stroke-width="1"/><text class="lb" x="910.2" y="582.6" font-size="21" textLength="34.3" lengthAdjust="spacingAndGlyphs" style="fill:#0000ff">−10</text><rect x="959" y="556.3" width="46.3" height="24.2" fill="none" stroke="#0000ff" stroke-width="1"/><text class="lb" x="963.5" y="574.7" font-size="21" textLength="37.3" lengthAdjust="spacingAndGlyphs" style="fill:#0000ff">−10</text><rect x="1015.3" y="540.3" width="46.2" height="23.9" fill="none" stroke="#0000ff" stroke-width="1"/><text class="lb" x="1019.8" y="558.6" font-size="21" textLength="37.2" lengthAdjust="spacingAndGlyphs" style="fill:#0000ff">−10</text><rect x="1087.3" y="543.3" width="46.4" height="24.2" fill="none" stroke="#0000ff" stroke-width="1"/><text class="lb" x="1091.8" y="561.7" font-size="21" textLength="37.4" lengthAdjust="spacingAndGlyphs" style="fill:#0000ff">−10</text>
<path d="M194,221.3C195.7,221.7 200.7,222.5 204,223.7C207.3,224.8 210.7,226.6 214,228.3C217.3,230.1 220.9,232.2 224,234.2C227.1,236.1 229.6,238.2 232.3,240C235.1,241.8 237.6,243.8 240.7,245C243.7,246.2 246.8,246.9 250.7,247C254.6,247.1 259,246 264,245.3C269,244.7 275.7,243.7 280.7,243C285.7,242.3 290.1,242.4 294,241.3C297.9,240.3 300.9,238.6 304,236.7C307.1,234.8 310.2,232.5 312.3,230C314.4,227.5 315.4,225 316.5,221.7C317.6,218.3 318.1,213.9 318.7,210C319.3,206.1 319,200.8 320.2,198.3C321.3,195.8 322.8,196 325.7,195C328.5,194 332.6,193 337.3,192.5C342.1,192 348.4,192.2 354,192C359.6,191.8 365.9,191.3 370.7,191.3C375.4,191.3 378.4,191.4 382.3,192C386.2,192.6 392.1,194.2 394,194.7M194,291.3C195.7,291.2 200.1,290.6 204,290.8C207.9,291.1 212.9,292.4 217.3,293C221.8,293.6 226.2,294 230.7,294.7C235.1,295.3 239,296.4 244,297C249,297.6 254.6,297.8 260.7,298C266.8,298.2 274.6,298.1 280.7,298C286.8,297.9 292.3,297.3 297.3,297.5C302.3,297.7 306.2,298.2 310.7,299.2C315.1,300.1 319.6,302.1 324,303.3C328.4,304.6 333.4,305.9 337.3,306.7C341.2,307.4 343.4,307.8 347.3,308C351.2,308.2 357.1,307.9 360.7,308C364.3,308.1 366.2,307.9 369,308.7C371.8,309.4 374.8,311.1 377.3,312.5C379.8,313.9 381.2,316.2 384,317C386.8,317.8 392.3,317.4 394,317.5M194,328C196.8,328 205.1,327.8 210.7,328C216.2,328.2 221.8,328.6 227.3,329.2C232.9,329.7 238.4,330.7 244,331.3C249.6,332 255.1,332.6 260.7,333C266.2,333.4 271.8,333.6 277.3,333.7C282.9,333.8 289,333.4 294,333.7C299,333.9 302.9,334.3 307.3,335C311.8,335.7 315.7,336.9 320.7,338C325.7,339.1 332.3,340.6 337.3,341.7C342.3,342.7 345.7,343.6 350.7,344.2C355.7,344.8 362.9,344.6 367.3,345.3C371.8,346 374,347.4 377.3,348.3C380.7,349.3 384.6,350.2 387.3,350.8C390.1,351.4 392.9,351.8 394,352M194,365C197.3,365 207.3,364.9 214,365C220.7,365.1 227.9,364.9 234,365.3C240.1,365.8 245.1,366.7 250.7,367.5C256.2,368.3 261.8,369 267.3,370C272.9,371 278.4,372.6 284,373.3C289.6,374.1 295.1,374.1 300.7,374.7C306.2,375.2 311.8,375.9 317.3,376.7C322.9,377.4 329.6,378.6 334,379.2C338.4,379.7 342.3,379.9 344,380M394,195C396.8,195.7 403.2,198.2 410.7,199.2C418.2,200.1 432.1,200.1 439,200.8C445.9,201.5 447.3,202.4 452.3,203.3C457.3,204.3 463.4,205.7 469,206.7C474.6,207.6 480.1,208.3 485.7,209.2C491.2,210 497.6,210.6 502.3,211.7C507.1,212.8 510.4,214.6 514,215.8C517.6,217.1 520.4,218.5 524,219.2C527.6,219.9 532.4,219.9 535.7,220C538.9,220.1 542.2,220 543.5,220M394,317.5C395.7,317.7 400.7,318.6 404,318.7C407.3,318.7 410.7,319.2 414,318C417.3,316.8 420.7,313.6 424,311.7C427.3,309.8 430.7,307.9 434,306.7C437.3,305.4 440.4,304.6 444,304.2C447.6,303.8 451.8,305 455.7,304.2C459.6,303.3 463.7,301.2 467.3,299.2C470.9,297.1 474.6,293.8 477.3,291.7C480,289.6 482.5,287.5 483.5,286.7M538.5,275.8C540.5,275.8 547,275.9 550.7,275.8C554.4,275.8 557.6,275.8 560.7,275.3C563.7,274.9 566.2,274.2 569,273.3C571.8,272.4 574.6,270.6 577.3,270C580.1,269.4 582.9,269.6 585.7,270C588.4,270.4 592.6,272.1 594,272.5M394,352.5C395.7,353.1 399.6,355.6 404,356.3C408.4,357.1 415.1,356.9 420.7,357C426.2,357.1 432.9,356.6 437.3,356.7C441.8,356.7 443.4,356.8 447.3,357.5C451.2,358.2 455.7,359.6 460.7,360.8C465.7,362.1 471.8,363.8 477.3,365C482.9,366.2 488.4,367.5 494,368.3C499.6,369.2 505.1,369.2 510.7,370C516.2,370.8 522.9,372.4 527.3,373.3C531.8,374.3 534.1,375.1 537.3,375.8C540.5,376.5 545,377.2 546.5,377.5M598.7,228.7C600.7,228.8 606.4,229.2 610.7,229.2C614.9,229.1 619.6,228.8 624,228.3C628.4,227.9 633.4,227.2 637.3,226.7C641.2,226.1 644.6,224.9 647.3,225C650.1,225.1 651.2,226 654,227.5C656.8,229 660.7,231.9 664,234.2C667.3,236.4 670.7,239.5 674,240.8C677.3,242.1 680.1,242.4 684,242C687.9,241.6 693.4,238.4 697.3,238.7C701.2,238.9 704.3,241.7 707.3,243.3C710.4,244.9 712.6,247.4 715.7,248.3C718.7,249.2 722.6,249.2 725.7,248.7C728.7,248.2 730.9,245.6 734,245.3C737.1,245.1 740.9,245.9 744,247C747.1,248.1 749.3,250.5 752.3,251.7C755.4,252.9 758.5,253.4 762.3,254.2C766.1,254.9 769.9,255.8 775.2,256.3C780.4,256.9 790.9,257.3 794,257.5M594,272.5C595.7,272.9 600.7,274.2 604,275C607.3,275.8 609.3,276.8 614,277.5C618.7,278.2 627.3,279.1 632.3,279.2C637.3,279.2 639.8,277.9 644,278C648.2,278.1 653.4,278.4 657.3,279.7C661.2,281 664,284 667.3,285.8C670.7,287.7 673.7,289.8 677.3,290.8C680.9,291.9 685.1,291.4 689,292C692.9,292.6 697.1,293 700.7,294.2C704.3,295.4 707.9,297.6 710.7,299.2C713.4,300.7 714.6,302.5 717.3,303.3C720.1,304.2 724,304.1 727.3,304.2C730.7,304.2 734,303 737.3,303.7C740.7,304.4 743.4,306.4 747.3,308.3C751.2,310.2 756.7,313.3 760.7,315C764.6,316.7 767.8,317.2 771.2,318.3C774.5,319.4 776.9,320.3 780.7,321.7C784.5,323 791.8,325.6 794,326.3M602.7,357C604.3,356.9 609.3,357.7 612.3,356.7C615.3,355.6 617.6,352.8 620.7,350.8C623.7,348.9 627.3,345.8 630.7,345C634,344.2 637.3,345.8 640.7,345.8C644,345.8 647.3,345.8 650.7,345C654,344.2 657.1,342.1 660.7,341.3C664.3,340.6 667.9,340.3 672.3,340.3C676.8,340.3 682.9,340.6 687.3,341.3C691.8,342.1 695.1,343.3 699,345C702.9,346.7 707.3,350.1 710.7,351.7C714,353.2 715.7,354 719,354.2C722.3,354.3 727.1,352.1 730.7,352.5C734.3,352.9 737.3,354.9 740.7,356.7C744,358.5 747.3,361.4 750.7,363.3C754,365.3 757.6,367.2 760.7,368.3C763.8,369.4 763.8,368.9 769.3,370C774.9,371.1 789.9,374.2 794,375M794,257.5C795.7,257.2 800.4,256.6 804,255.8C807.6,255.1 811.8,253.7 815.7,253C819.6,252.3 823.7,251.6 827.3,251.7C830.9,251.7 834.6,252.6 837.3,253.3C840,254 841.3,254.7 843.5,255.8C845.7,256.9 847.8,258.6 850.7,260C853.5,261.4 856.8,262.6 860.7,264.2C864.5,265.7 870.3,268 873.7,269.2C877,270.4 877.3,270.6 880.7,271.3C884.1,272 890.1,272.6 894,273.3C897.9,274.1 901.2,274.7 904,275.8C906.8,276.9 908.4,278.2 910.7,280C912.9,281.8 915.1,284.6 917.3,286.7C919.6,288.8 921.1,291.1 924,292.5C926.9,293.9 933,294.6 934.8,295M794,326.7C796.2,327.4 802.9,329.4 807.3,330.8C811.8,332.2 816.2,333.6 820.7,335C825.1,336.4 829.6,337.5 834,339.2C838.4,340.8 842.9,343.2 847.3,345C851.8,346.8 856.2,348.3 860.7,350C865.1,351.7 869.6,353.8 874,355C878.4,356.2 882.9,356.6 887.3,357C891.8,357.4 896.8,356.9 900.7,357.5C904.6,358.1 907.3,359.4 910.7,360.8C914,362.2 917.9,364.4 920.7,365.8C923.4,367.2 925,368.5 927.3,369.2C929.7,369.9 933.6,369.9 934.8,370M327.3,379.2C330.1,379.6 338.4,381.1 344,382C349.6,382.9 355.1,383.9 360.7,384.7C366.2,385.4 371.8,385.9 377.3,386.3C382.9,386.8 391.2,387.3 394,387.5M194,423C195.7,422.5 200.4,420.8 204,420C207.6,419.2 211.2,418.3 215.7,418C220.1,417.7 225.9,417.7 230.7,418C235.4,418.3 239.6,419.1 244,420C248.4,420.9 252.9,421.9 257.3,423.3C261.8,424.7 266.2,426.5 270.7,428.3C275.1,430.1 279.6,432.1 284,434.2C288.4,436.2 292.9,438.8 297.3,440.8C301.8,442.9 306.2,445.1 310.7,446.7C315.1,448.2 319.6,449.5 324,450C328.4,450.5 333.4,449.4 337.3,449.7C341.2,449.9 344.3,450.6 347.3,451.7C350.4,452.7 352.9,454.6 355.7,455.8C358.4,457.1 360.9,458.8 364,459.2C367.1,459.6 370.7,458.9 374,458.3C377.3,457.8 380.7,456.4 384,455.8C387.3,455.2 392.3,454.9 394,454.7M194,557C196.2,557.2 202.9,557.9 207.3,558C211.8,558.1 216.8,558.3 220.7,557.5C224.6,556.7 227.1,554.6 230.7,553.3C234.3,552.1 238.4,551.4 242.3,550C246.2,548.6 250.1,546.3 254,545C257.9,543.7 261.8,542.2 265.7,542C269.6,541.8 273.4,542.8 277.3,543.7C281.2,544.6 284.8,546 289,547.5C293.2,549 297.6,551.1 302.3,552.5C307.1,553.9 312.9,554.6 317.3,555.8C321.8,557.1 325.4,558.6 329,560C332.6,561.4 335.7,562.5 339,564.2C342.3,565.8 345.7,568.2 349,570C352.3,571.8 355.7,573.5 359,575C362.3,576.5 367.3,578.5 369,579.2M394,387.5C395.7,387.9 399.8,389.2 404,390C408.2,390.8 413.7,391.8 419,392.5C424.3,393.2 430.1,393.3 435.7,394.2C441.2,395 447.3,396.5 452.3,397.5C457.3,398.5 460.9,398.5 465.7,400C470.4,401.5 475.9,405 480.7,406.7C485.4,408.3 489.6,408.9 494,410C498.4,411.1 502.9,411.8 507.3,413.3C511.8,414.9 515.9,417.5 520.7,419.2C525.4,420.8 530.7,422 535.7,423.3C540.6,424.6 547.9,426.4 550.3,427M394,455.8C396.8,456 405.1,456.3 410.7,456.7C416.2,457 422.3,456.6 427.3,458C432.3,459.4 436.5,462.9 440.7,465C444.8,467.1 449,469.4 452.3,470.8C455.7,472.3 456.5,472.8 460.7,473.7C464.8,474.5 471.8,474.8 477.3,475.8C482.9,476.9 489.6,478.5 494,480C498.4,481.5 501.1,483.6 504,484.7C506.9,485.7 510.2,486.1 511.5,486.3M511.5,486.3C511.7,488.1 512.5,492.2 512.7,496.7C512.9,501.2 512.7,507.6 512.7,513.3C512.7,519 511.3,526.4 512.7,530.8C514,535.3 518.5,536.5 520.7,540C522.8,543.5 524.4,547.8 525.7,551.7C526.9,555.6 527.5,558.6 528.2,563.3C528.9,568.1 529.6,577.2 529.8,580M606.5,437.5C607.5,438.3 610.2,441.3 612.3,442.5C614.4,443.7 615.1,444.4 619,444.7C622.9,444.9 630.9,444.2 635.7,444.2C640.4,444.2 643.4,444.8 647.3,444.7C651.2,444.5 655.7,444.2 659,443.3C662.3,442.4 664.6,440 667.3,439.2C670.1,438.3 673.2,437.8 675.7,438.3C678.2,438.9 680.4,440.3 682.3,442.5C684.3,444.7 685.4,448.8 687.3,451.7C689.3,454.6 691.8,457.6 694,460C696.2,462.4 697.9,464.7 700.7,465.8C703.4,467 707.3,466.6 710.7,467C714,467.4 717.6,467.3 720.7,468.3C723.7,469.4 726.5,471.4 729,473.3C731.5,475.3 733.7,478.4 735.7,480C737.6,481.6 738.4,482.7 740.7,483C742.9,483.3 746.2,482.2 749,481.7C751.8,481.1 754.3,479.9 757.3,479.7C760.4,479.5 763.7,480.3 767.3,480.5C770.9,480.7 775.7,481.2 779,480.8C782.3,480.5 784.8,479.2 787.3,478.3C789.8,477.5 792.9,476.2 794,475.8M799,380C800.9,380.8 805.9,382.8 810.7,385C815.4,387.2 821.8,390.6 827.3,393.3C832.9,396.1 838.4,398.9 844,401.7C849.6,404.4 856.9,408.2 860.7,410C864.4,411.8 863.7,411.2 866.5,412.5C869.3,413.8 873.9,416.2 877.3,417.5C880.8,418.8 884.3,419.3 887.3,420C890.4,420.7 892.9,420.4 895.7,421.7C898.4,422.9 901.5,425.6 904,427.5C906.5,429.4 908.4,431.7 910.7,433.3C912.9,435 915.4,436.7 917.3,437.5C919.3,438.3 921.5,438.2 922.3,438.3M794,475C795.1,474.4 798.2,472.3 800.7,471.7C803.2,471.1 806.2,471.1 809,471.3C811.8,471.6 814.6,472.2 817.3,473.3C820.1,474.5 822.9,475.8 825.7,478.3C828.4,480.8 831.5,485.6 834,488.3C836.5,491.1 838.2,493.2 840.7,495C843.2,496.8 845.9,497.9 849,499.2C852.1,500.4 856.2,501 859,502.5C861.8,504 863.7,506 865.7,508.3C867.6,510.7 869.3,513.9 870.7,516.7C872.1,519.4 872.9,522.8 874,525C875.1,527.2 876.8,526.9 877.3,530C877.9,533.1 877.4,537.8 877.3,543.3C877.3,548.9 877.1,560 877,563.3M1061.5,399.2C1061.6,399.6 1060.8,399.9 1062.3,401.7C1063.9,403.5 1067.6,406.9 1070.7,410C1073.7,413.1 1077.3,416.7 1080.7,420C1084,423.3 1087.3,426.7 1090.7,430C1094,433.3 1097.3,436.9 1100.7,440C1104,443.1 1107.3,445.3 1110.7,448.3C1114,451.4 1117.3,455 1120.7,458.3C1124,461.7 1127.6,465.3 1130.7,468.3C1133.7,471.4 1136.2,474.2 1139,476.7C1141.8,479.2 1144.8,481.7 1147.3,483.3C1149.8,485 1152.9,486.1 1154,486.7M977.3,458.3C978.4,459.4 981.9,462.5 984,465C986.1,467.5 988,470.3 989.8,473.3C991.6,476.4 993.3,480 994.8,483.3C996.4,486.7 997.5,490.3 999,493.3C1000.5,496.4 1002.3,499.2 1004,501.7C1005.7,504.2 1007.3,506.3 1009,508.3C1010.7,510.4 1013.2,513.2 1014,514.2M1047.3,542.5C1048.4,543.2 1051.5,545.3 1054,546.7C1056.5,548.1 1059.6,550 1062.3,550.8C1065.1,551.7 1067.6,552.1 1070.7,551.7C1073.7,551.2 1077.9,550.3 1080.7,548.3C1083.4,546.4 1084.8,542.6 1087.3,540C1089.8,537.4 1092.9,534.3 1095.7,532.5C1098.4,530.7 1101.2,529.6 1104,529.2C1106.8,528.8 1109.6,529.2 1112.3,530C1115.1,530.8 1117.9,532.6 1120.7,534.2C1123.4,535.7 1126.2,537.5 1129,539.2C1131.8,540.8 1134.6,542.6 1137.3,544.2C1140.1,545.7 1142.9,547.4 1145.7,548.3C1148.4,549.3 1152.6,549.7 1154,550M364,580C365.7,580.6 370.7,581.9 374,583.3C377.3,584.7 380.7,587.2 384,588.3C387.3,589.4 392.3,589.7 394,590M194,616.7C196.2,617.1 202.9,618.3 207.3,619.2C211.8,620 216.2,620.7 220.7,621.7C225.1,622.6 230.1,624.2 234,625C237.9,625.8 239.6,626.6 244,626.7C248.4,626.7 255.7,625.3 260.7,625.3C265.7,625.3 269.6,626 274,626.7C278.4,627.3 282.9,628.2 287.3,629.2C291.8,630.1 296.2,631.4 300.7,632.5C305.1,633.6 309.6,634.6 314,635.8C318.4,637.1 322.9,638.8 327.3,640C331.8,641.2 336.2,642.4 340.7,643C345.1,643.6 349.6,643.5 354,643.7C358.4,643.9 363.2,643.7 367.3,644.2C371.5,644.7 377.1,646.2 379,646.7M194,664.2C195.7,664.7 200.7,666.5 204,667.5C207.3,668.5 210.1,669.2 214,670C217.9,670.8 222.9,671.1 227.3,672.5C231.8,673.9 236.8,676.9 240.7,678.3C244.6,679.7 246.8,680 250.7,680.8C254.6,681.7 259.6,682.4 264,683.3C268.4,684.3 272.9,685 277.3,686.7C281.8,688.3 286.8,691.5 290.7,693.3C294.6,695.1 297.3,696.2 300.7,697.5C304,698.8 307.3,700 310.7,700.8C314,701.7 317.9,701.9 320.7,702.5C323.4,703.1 324,703.5 327.3,704.2C330.7,704.9 336.2,705.4 340.7,706.7C345.1,707.9 350.1,710.3 354,711.7C357.9,713.1 360.7,714.3 364,715C367.3,715.7 370.7,716.4 374,715.8C377.3,715.3 380.7,712.8 384,711.7C387.3,710.6 392.3,709.6 394,709.2M194,711.7C195.1,712.8 198.4,716.4 200.7,718.3C202.9,720.3 204.8,721.9 207.3,723.3C209.8,724.7 211.2,726 215.7,726.7C220.1,727.4 229.3,726.8 234,727.5C238.7,728.2 240.7,729.6 244,730.8C247.3,732.1 250.1,733.8 254,735C257.9,736.2 262.9,737.2 267.3,738.3C271.8,739.4 276.8,740.1 280.7,741.7C284.6,743.2 287.3,745.6 290.7,747.5C294,749.4 297.3,752.2 300.7,753.3C304,754.4 306.2,754 310.7,754.2C315.1,754.3 322.6,753.9 327.3,754.2C332.1,754.4 335.7,755 339,755.8C342.3,756.7 344.8,757.9 347.3,759.2C349.8,760.4 351.8,761.8 354,763.3C356.2,764.9 357.9,766.9 360.7,768.3C363.4,769.7 367.3,771.4 370.7,771.7C374,771.9 377.6,771.1 380.7,770C383.7,768.9 386.8,766.4 389,765C391.2,763.6 393.2,762.2 394,761.7M194,765C195.4,766.1 199.6,769.2 202.3,771.7C205.1,774.2 209.3,778.6 210.7,780M252.3,780C254.3,779.7 259.8,778.8 264,778.3C268.2,777.9 273.4,777.2 277.3,777.5C281.2,777.8 285.7,779.6 287.3,780M394,590C396.2,590.4 403.2,591.7 407.3,592.5C411.5,593.3 415.4,593.5 419,595C422.6,596.5 425.9,599.4 429,601.7C432.1,603.9 434.3,606.2 437.3,608.3C440.4,610.4 444,612.9 447.3,614.2C450.7,615.4 454,615.3 457.3,615.8C460.7,616.4 464,616.7 467.3,617.5C470.7,618.3 474.6,619.9 477.3,620.8C480,621.8 482.5,622.9 483.5,623.3M538.5,644.2C540,644.6 544.2,646 547.3,646.7C550.5,647.4 554,647.8 557.3,648.3C560.7,648.9 564,649 567.3,650C570.7,651 574.3,652.8 577.3,654.2C580.4,655.6 582.9,657.1 585.7,658.3C588.4,659.6 592.6,661.1 594,661.7M530.7,580C532.1,580.7 536.2,582.6 539,584.2C541.8,585.7 544.8,587.8 547.3,589.2C549.8,590.6 551.5,591.5 554,592.5C556.5,593.5 559.6,594.3 562.3,595C565.1,595.7 568.2,595.6 570.7,596.7C573.2,597.8 575.4,599.4 577.3,601.7C579.3,603.9 580.9,607.2 582.3,610C583.7,612.8 584.3,615.8 585.7,618.3C587.1,620.8 589.3,623.5 590.7,625C592.1,626.5 593.4,627.1 594,627.5M434.5,665C436.1,665.6 440.8,667.3 444,668.3C447.2,669.4 450.1,670.6 454,671.3C457.9,672.1 463.2,672.4 467.3,673C471.5,673.6 475.1,674.7 479,675C482.9,675.3 486.8,675.1 490.7,675C494.6,674.9 498.4,673.9 502.3,674.2C506.3,674.4 510.2,675.7 514.3,676.7C518.5,677.6 522.4,679 527.3,680C532.3,681 538.2,682.1 544,682.5C549.8,682.9 557.4,682.2 561.8,682.5C566.3,682.8 567.8,683.3 570.7,684.2C573.5,685 576.2,686.4 579,687.5C581.8,688.6 584.8,689.9 587.3,690.8C589.8,691.8 592.9,692.9 594,693.3M394,709.2C395.7,709.6 400.9,710.8 404,711.7C407.1,712.5 408.4,713.7 412.3,714.2C416.2,714.7 422.6,714.4 427.3,714.7C432.1,714.9 436.5,715.5 440.7,715.8C444.8,716.2 448.4,716.4 452.3,716.7C456.2,716.9 460.7,716.9 464,717.5C467.3,718.1 469,719.2 472.3,720C475.7,720.8 479.8,722 484,722C488.2,722 493.4,720.8 497.3,720C501.2,719.2 504,717.6 507.3,717.5C510.7,717.4 514,718.8 517.3,719.2C520.7,719.5 524.3,719.9 527.3,719.7C530.4,719.4 532.9,718.6 535.7,717.5C538.4,716.4 540.9,714.2 544,713.3C547.1,712.5 550.7,712.5 554,712.5C557.3,712.5 560.7,712.8 564,713.3C567.3,713.9 570.7,715 574,715.8C577.3,716.7 580.7,717.6 584,718.3C587.3,719 592.3,719.7 594,720M394,761.7C395.4,761.1 399.6,759.2 402.3,758.3C405.1,757.5 407.3,757.4 410.7,756.7C414,756 418.4,755 422.3,754.2C426.2,753.3 430.4,752.3 434,751.7C437.6,751 440.7,750.3 444,750.3C447.3,750.3 450.7,751.2 454,751.7C457.3,752.2 460.7,752.6 464,753.3C467.3,754 470.9,754.9 474,755.8C477.1,756.8 479.8,758.2 482.3,759.2C484.8,760.1 485.9,761.4 489,761.7C492.1,761.9 497.1,761.1 500.7,760.8C504.3,760.6 507.3,760.4 510.7,760C514,759.6 517.6,759.4 520.7,758.3C523.7,757.2 526.5,755 529,753.3C531.5,751.7 533.2,749.9 535.7,748.3C538.2,746.8 540.9,745.1 544,744.2C547.1,743.2 550.7,742.8 554,742.5C557.3,742.2 560.7,742.2 564,742.5C567.3,742.8 570.7,743.5 574,744.2C577.3,744.9 580.7,746 584,746.7C587.3,747.4 592.3,748.1 594,748.3M534,780C535.1,778.9 537.9,775 540.7,773.3C543.4,771.7 547.3,770.3 550.7,770C554,769.7 557.3,770.8 560.7,771.7C564,772.5 567.3,773.9 570.7,775C574,776.1 577.9,777.6 580.7,778.3C583.4,779.1 585.1,779.4 587.3,779.7C589.6,779.9 592.9,779.9 594,780M594,630C595.7,630.3 600.4,631.1 604,631.7C607.6,632.2 611.8,632.4 615.7,633.3C619.6,634.3 623.2,636.2 627.3,637.5C631.5,638.8 636.5,639.7 640.7,640.8C644.8,641.9 648.4,642.9 652.3,644.2C656.2,645.4 660.7,647.8 664,648.3C667.3,648.9 669.6,648.3 672.3,647.5C675.1,646.7 677.6,644.2 680.7,643.3C683.7,642.5 687.1,642.4 690.7,642.5C694.3,642.6 698.4,643.4 702.3,643.7C706.2,643.9 710.4,643.9 714,644.2C717.6,644.4 720.7,644 724,645C727.3,646 730.7,648.2 734,650C737.3,651.8 740.7,653.9 744,655.8C747.3,657.8 750.7,660 754,661.7C757.3,663.3 760.7,665 764,665.8C767.3,666.7 770.7,666.7 774,666.7C777.3,666.7 780.7,665.8 784,665.8C787.3,665.8 792.3,666.5 794,666.7M594,662.5C595.7,662.8 600.4,663.5 604,664.2C607.6,664.9 611.8,665.3 615.7,666.7C619.6,668.1 623.7,670.7 627.3,672.5C630.9,674.3 633.9,675.8 637.3,677.5C640.8,679.2 644.3,680.8 648.2,682.5C652.1,684.2 656.6,686.8 660.7,687.5C664.7,688.2 668.4,687.1 672.3,686.7C676.2,686.2 680.4,685.1 684,684.7C687.6,684.2 690.7,684.2 694,684.2C697.3,684.2 700.7,684.7 704,684.7C707.3,684.7 710.7,683.8 714,684.2C717.3,684.5 720.7,685.4 724,686.7C727.3,687.9 730.7,690.1 734,691.7C737.3,693.2 740.7,694.6 744,695.8C747.3,697.1 750.7,698.2 754,699.2C757.3,700.1 760.7,701 764,701.7C767.3,702.4 770.7,702.9 774,703.3C777.3,703.8 780.7,703.9 784,704.2C787.3,704.4 792.3,704.9 794,705M594,693.3C596.2,693.6 603.2,694.2 607.3,695C611.5,695.8 614.8,696.8 619,698.3C623.2,699.9 628.2,702.5 632.3,704.2C636.5,705.8 640.1,707.1 644,708.3C647.9,709.6 651.5,710.9 655.7,711.7C659.8,712.4 664.3,712.7 669,713C673.7,713.3 679.3,713.1 684,713.3C688.7,713.5 692.9,714 697.3,714.2C701.8,714.3 706.8,713.8 710.7,714.2C714.6,714.6 717.1,715.6 720.7,716.7C724.3,717.8 728.4,719.6 732.3,720.8C736.2,722.1 740.1,723.2 744,724.2C747.9,725.1 751.8,726 755.7,726.7C759.6,727.3 763.7,728 767.3,728C770.9,728 774.3,726.8 777.3,726.7C780.4,726.6 782.9,727.1 785.7,727.5C788.4,727.9 792.6,728.9 794,729.2M594,720.8C596.2,721.1 602.9,721.7 607.3,722.5C611.8,723.3 616.2,724.4 620.7,725.8C625.1,727.2 630.1,729.4 634,730.8C637.9,732.2 640.1,733.2 644,734.2C647.9,735.1 652.9,735.8 657.3,736.7C661.8,737.5 666.2,738.3 670.7,739.2C675.1,740 679.6,741.2 684,741.7C688.4,742.1 692.9,741.7 697.3,742C701.8,742.3 706.2,742.4 710.7,743.3C715.1,744.2 719.6,746.4 724,747.5C728.4,748.6 732.9,749.3 737.3,750C741.8,750.7 746.2,751 750.7,751.7C755.1,752.4 759.6,753.6 764,754.2C768.4,754.7 773.7,754.6 777.3,755C780.9,755.4 782.9,756 785.7,756.7C788.4,757.4 792.6,758.8 794,759.2M594,748.3C595.7,748.9 600.4,750.4 604,751.7C607.6,752.9 611.8,754.7 615.7,755.8C619.6,756.9 623.2,757.7 627.3,758.3C631.5,759 636.2,759.4 640.7,759.7C645.1,759.9 649.6,759.8 654,760C658.4,760.2 663.4,760.3 667.3,760.8C671.2,761.4 674,762.2 677.3,763.3C680.7,764.4 684,766.1 687.3,767.5C690.7,768.9 693.4,770.4 697.3,771.7C701.2,772.9 706.5,774 710.7,775C714.8,776 718.2,776.9 722.3,777.5C726.5,778.1 731.5,778.3 735.7,778.3C739.8,778.3 743.2,777.5 747.3,777.5C751.5,777.5 756.8,778.1 760.7,778.3C764.6,778.6 769,779 770.7,779.2M878.2,591.7C878.2,593.9 878.5,600 878.7,605C878.8,610 878.8,617.8 879,621.7C879.2,625.6 879,626.9 879.8,628.3C880.7,629.7 882.2,629.9 884,630C885.8,630.1 889,630.3 890.7,629.2C892.3,628.1 892.6,625.7 894,623.3C895.4,621 897.1,617.1 899,615C900.9,612.9 903.2,611.5 905.7,610.8C908.2,610.1 911.2,610.3 914,610.8C916.8,611.4 920.1,612.9 922.3,614.2C924.6,615.4 925.4,617.2 927.3,618.3C929.3,619.4 931.2,620.3 934,620.8C936.8,621.4 940.9,620.7 944,621.7C947.1,622.6 949.8,624.4 952.3,626.7C954.8,628.9 957.3,632.8 959,635C960.7,637.2 961.5,638.1 962.3,640C963.2,641.9 963.2,643.6 964,646.7C964.8,649.7 965.9,653.9 967.3,658.3C968.7,662.8 970.9,669.7 972.3,673.3C973.7,676.9 974,678.8 975.7,680C977.3,681.2 979.8,680.8 982.3,680.8C984.8,680.8 988.7,680.7 990.7,680C992.6,679.3 993.4,677.2 994,676.7M794,666.7C795.1,667.2 798.4,668.8 800.7,670C802.9,671.2 804.8,672.5 807.3,674.2C809.8,675.8 812.9,678.3 815.7,680C818.4,681.7 820.9,683.1 824,684.2C827.1,685.3 830.7,685.7 834,686.7C837.3,687.6 841.8,689.2 844,690C846.2,690.8 844.6,690.3 847.3,691.7C850.1,693.1 855.7,696.7 860.7,698.3C865.7,700 873.4,701 877.3,701.7C881.2,702.3 880.7,702.2 884,702.2C887.3,702.1 892.9,701.5 897.3,701.3C901.8,701.2 906.2,701.1 910.7,701.3C915.1,701.5 920.4,701.8 924,702.5C927.6,703.2 929.8,704.3 932.3,705.8C934.8,707.4 937.5,710.1 939,711.7C940.5,713.2 941.1,714.7 941.5,715.3M794,704.2C795.7,704.7 800.4,706.1 804,707.5C807.6,708.9 811.8,711 815.7,712.5C819.6,714 823.7,715.6 827.3,716.7C830.9,717.8 834,717.8 837.3,719.2C840.7,720.6 844,723.1 847.3,725C850.7,726.9 854,729 857.3,730.8C860.7,732.6 864,734.3 867.3,735.8C870.7,737.4 873.4,739 877.3,740C881.2,741 886.8,741 890.7,741.7C894.6,742.4 897.3,743.3 900.7,744.2C904,745 906.8,746.2 910.7,746.7C914.6,747.1 920.4,746.1 924,746.7C927.6,747.2 929.6,748.6 932.3,750C935.1,751.4 937.6,753.2 940.7,755C943.7,756.8 947.3,759.2 950.7,760.8C954,762.5 957.3,763.6 960.7,765C964,766.4 967.3,767.9 970.7,769.2C974,770.4 976.8,771.2 980.7,772.5C984.6,773.8 991.8,776 994,776.7M794,732.5C795.7,733.2 800.7,735.3 804,736.7C807.3,738.1 810.4,739.6 814,740.8C817.6,742.1 822.1,743.2 825.7,744.2C829.3,745.1 832.3,745.4 835.7,746.7C839,747.9 842.1,749.7 845.7,751.7C849.3,753.6 853.7,756.7 857.3,758.3C860.9,760 864,760.6 867.3,761.7C870.7,762.8 874,763.9 877.3,765C880.7,766.1 884,767.1 887.3,768.3C890.7,769.6 894,771.2 897.3,772.5C900.7,773.8 903.7,774.7 907.3,775.8C910.9,776.9 917.1,778.6 919,779.2M794,759.2C795.7,759.7 800.7,761.5 804,762.5C807.3,763.5 810.1,764.3 814,765C817.9,765.7 823.4,765.8 827.3,766.7C831.2,767.5 833.7,768.6 837.3,770C840.9,771.4 845.7,773.5 849,775C852.3,776.5 855.9,778.5 857.3,779.2M994,676.7C994.8,675.3 997.1,670.8 999,668.3C1000.9,665.8 1003.2,663.5 1005.7,661.7C1008.2,659.9 1010.9,658.5 1014,657.5C1017.1,656.5 1020.6,656.1 1024,655.8C1027.4,655.6 1032.6,655.8 1034.3,655.8M1089.8,660.8C1091.4,661.1 1096.1,661.7 1099,662.5C1101.9,663.3 1104.8,664.4 1107.3,665.8C1109.8,667.2 1111.8,669.3 1114,670.8C1116.2,672.4 1118.4,673.9 1120.7,675C1122.9,676.1 1124.8,677.1 1127.3,677.5C1129.8,677.9 1133.2,677.6 1135.7,677.5C1138.2,677.4 1140.1,677.2 1142.3,676.7C1144.6,676.1 1147.1,674.3 1149,674.2C1150.9,674 1153.2,675.6 1154,675.8M986.5,742.5C988,742.9 992.2,744.2 995.7,744.7C999.1,745.1 1003.7,745.5 1007.3,745C1010.9,744.5 1014,742.8 1017.3,741.7C1020.7,740.6 1023.4,739.2 1027.3,738.3C1031.2,737.5 1036.2,737.2 1040.7,736.7C1045.1,736.1 1049.6,735.6 1054,735C1058.4,734.4 1063.4,733.5 1067.3,733.3C1071.2,733.2 1074.8,733.9 1077.3,734.2C1079.8,734.4 1081.5,734.9 1082.3,735M1138.7,741.7 1154,741.7M1012.3,780C1014.3,779.3 1019.8,776.9 1024,775.8C1028.2,774.7 1032.3,774 1037.3,773.3C1042.3,772.6 1048.4,771.9 1054,771.7C1059.6,771.4 1065.7,771.4 1070.7,772C1075.7,772.6 1079.8,773.9 1084,775C1088.2,776.1 1092.3,777.5 1095.7,778.3C1099,779.2 1102.6,779.7 1104,780M210.7,780C212.1,780.8 216.2,783.8 219,785C221.8,786.2 223.7,787.2 227.3,787.5C230.9,787.8 237.1,787.5 240.7,786.7C244.3,785.8 246.5,783.6 249,782.5C251.5,781.4 254.6,780.4 255.7,780M287.3,780C288.4,780.6 291.2,782.2 294,783.3C296.8,784.4 300.1,785.8 304,786.7C307.9,787.5 312.9,787.5 317.3,788.3C321.8,789.2 326.2,790.6 330.7,791.7C335.1,792.8 340.1,793.9 344,795C347.9,796.1 350.7,797.2 354,798.3C357.3,799.4 360.7,800.3 364,801.7C367.3,803.1 370.7,805.3 374,806.7C377.3,808.1 380.7,809.3 384,810C387.3,810.7 392.3,810.7 394,810.8M194,829.2C195.1,829 198.4,828.2 200.7,828.3C202.9,828.5 204.8,828.6 207.3,830C209.8,831.4 212.9,834.2 215.7,836.7C218.4,839.2 221.2,842.2 224,845C226.8,847.8 229.8,850.6 232.3,853.3C234.8,856.1 237.1,859.7 239,861.7C240.9,863.6 242.1,864.6 244,865C245.9,865.4 248.7,865.3 250.7,864.2C252.6,863.1 254.3,861 255.7,858.3C257.1,855.7 257.9,851.7 259,848.3C260.1,845 260.9,841.4 262.3,838.3C263.7,835.3 265.4,832.8 267.3,830C269.3,827.2 272.1,824 274,821.7C275.9,819.3 277.1,816.9 279,815.8C280.9,814.7 283.4,814.7 285.7,815C287.9,815.3 289.8,816.2 292.3,817.5C294.8,818.8 297.6,821.5 300.7,822.5C303.7,823.5 307.3,823.1 310.7,823.3C314,823.5 317.3,823.1 320.7,823.7C324,824.2 327.3,825.3 330.7,826.7C334,828 337.3,830.7 340.7,831.7C344,832.6 347.3,832.6 350.7,832.5C354,832.4 357.3,830.8 360.7,830.8C364,830.8 367.3,831.5 370.7,832.5C374,833.5 377.6,835.1 380.7,836.7C383.7,838.2 386.8,840.3 389,841.7C391.2,843.1 393.2,844.4 394,845M194,884.2C195.7,884 200.7,883.2 204,883.3C207.3,883.5 210.7,883.6 214,885C217.3,886.4 220.9,888.9 224,891.7C227.1,894.4 229.8,898.3 232.3,901.7C234.8,905 236.8,908.3 239,911.7C241.2,915 243.4,919 245.7,921.7C247.9,924.3 249.8,926.4 252.3,927.5C254.8,928.6 257.9,928.8 260.7,928.3C263.4,927.9 266.2,926.9 269,925C271.8,923.1 274.8,920 277.3,916.7C279.8,913.3 282.1,908.6 284,905C285.9,901.4 287.3,897.9 289,895C290.7,892.1 292.1,889.3 294,887.5C295.9,885.7 298.4,884.6 300.7,884.2C302.9,883.8 304.8,884.2 307.3,885C309.8,885.8 312.9,887.6 315.7,889.2C318.4,890.7 321.2,893.2 324,894.2C326.8,895.1 329.6,895.1 332.3,895C335.1,894.9 337.6,894.2 340.7,893.3C343.7,892.5 347.9,891.5 350.7,890C353.4,888.5 355.1,886.4 357.3,884.2C359.6,881.9 361.8,878.8 364,876.7C366.2,874.6 368.2,872.5 370.7,871.7C373.2,870.8 376.2,871 379,871.7C381.8,872.4 384.8,874.4 387.3,875.8C389.8,877.2 392.9,879.3 394,880M194,938.3C194.8,938.9 195.7,941.1 199,941.7C202.3,942.2 210.7,941 214,941.7C217.3,942.4 217.6,944.2 219,945.8C220.4,947.5 221.9,949.3 222.3,951.7C222.8,954 221.6,958.6 221.5,960M394,810.8C395.4,809.9 399.6,807.1 402.3,805C405.1,802.9 407.6,800.8 410.7,798.3C413.7,795.8 417.3,792.2 420.7,790C424,787.8 427.3,786.4 430.7,785C434,783.6 437.1,782.4 440.7,781.7C444.3,781 448.4,780.9 452.3,780.8C456.2,780.8 460.4,780.8 464,781.3C467.6,781.9 470.7,782.7 474,784.2C477.3,785.6 480.9,788.1 484,790C487.1,791.9 489.6,794.3 492.3,795.8C495.1,797.4 497.6,798.3 500.7,799.2C503.7,800 507.6,801 510.7,800.8C513.7,800.7 516.2,799.7 519,798.3C521.8,796.9 524.8,794.7 527.3,792.5C529.8,790.3 532.3,787.1 534,785C535.7,782.9 536.8,780.8 537.3,780M394,845.8C395.4,846.2 399.6,847.7 402.3,848.3C405.1,849 407.6,849.7 410.7,849.7C413.7,849.7 417.6,849.7 420.7,848.3C423.7,847 426.5,844.4 429,841.7C431.5,838.9 433.4,835 435.7,831.7C437.9,828.3 440.1,824.7 442.3,821.7C444.6,818.6 446.5,815.6 449,813.3C451.5,811.1 454.6,809.3 457.3,808.3C460.1,807.4 462.9,807.2 465.7,807.5C468.4,807.8 471.2,808.2 474,810C476.8,811.8 479.8,815.3 482.3,818.3C484.8,821.4 486.8,825 489,828.3C491.2,831.7 493.4,835.3 495.7,838.3C497.9,841.4 500.1,844.4 502.3,846.7C504.6,848.9 506.8,850.6 509,851.7C511.2,852.8 513.4,854.2 515.7,853.3C517.9,852.5 520.4,849.4 522.3,846.7C524.3,843.9 525.7,840.6 527.3,836.7C529,832.8 530.9,827.2 532.3,823.3C533.7,819.4 534.6,815.7 535.7,813.3C536.8,811 537.6,810.1 539,809.2C540.4,808.2 542.1,807.4 544,807.5C545.9,807.6 548.4,808.3 550.7,809.7C552.9,811.1 556,812.4 557.3,815.8C558.7,819.2 558.5,823.5 558.7,830C558.8,836.5 558.4,847.2 558.2,855C557.9,862.8 557.4,869.7 557,876.7C556.6,883.6 555.8,891.1 555.7,896.7C555.6,902.2 555.7,906.4 556.5,910C557.3,913.6 558.9,917.5 560.7,918.3C562.5,919.2 565.1,916.4 567.3,915C569.6,913.6 571.5,911.4 574,910C576.5,908.6 579,907.1 582.3,906.7C585.7,906.2 592.1,907.4 594,907.5M394,880C395.7,881.1 400.4,884.7 404,886.7C407.6,888.6 411.8,890.4 415.7,891.7C419.6,892.9 422.9,893.8 427.3,894.2C431.8,894.6 438.7,895.1 442.3,894.2C445.9,893.2 446.5,889.9 449,888.3C451.5,886.8 454.3,885.6 457.3,885C460.4,884.4 464,884.5 467.3,884.7C470.7,884.8 474.6,884.9 477.3,885.8C480.1,886.7 481.8,887.9 484,890C486.2,892.1 488.4,895.6 490.7,898.3C492.9,901.1 495.1,903.9 497.3,906.7C499.6,909.4 501.8,912.9 504,915C506.2,917.1 508.4,918.1 510.7,919.2C512.9,920.3 515.1,920.1 517.3,921.7C519.6,923.2 522.1,925.8 524,928.3C525.9,930.8 527.5,933.6 529,936.7C530.5,939.7 532.3,944.7 533.2,946.7C534,948.7 533.9,948.3 534,948.7M570.7,960C571.5,959.2 573.7,956.1 575.7,955C577.6,953.9 579.3,953.6 582.3,953.3C585.4,953.1 592.1,953.3 594,953.3M434.8,992.5C434.3,990.7 431.9,984.9 431.5,981.7C431.1,978.5 431.4,975 432.3,973.3C433.3,971.7 434.8,971.5 437.3,971.7C439.8,971.8 444,973.3 447.3,974.2C450.7,975 454,975.4 457.3,976.7C460.7,977.9 464,980 467.3,981.7C470.7,983.3 474.6,985.1 477.3,986.7C480.1,988.2 481.2,989.9 484,990.8C486.8,991.8 490.7,992.1 494,992.5C497.3,992.9 501.5,992.6 504,993.3C506.5,994 507.6,995 509,996.7C510.4,998.3 511.6,1000.6 512.3,1003.3C513,1006.1 513,1011.7 513.2,1013.3M594,780C595.4,780.8 599.6,783.3 602.3,785C605.1,786.7 607.6,788.9 610.7,790C613.7,791.1 616.8,791.2 620.7,791.7C624.6,792.2 629.6,792.9 634,793C638.4,793.1 643.2,792.2 647.3,792C651.5,791.8 655.9,791.3 659,791.7C662.1,792 663.4,792.8 665.7,794.2C667.9,795.6 670.1,798.2 672.3,800C674.6,801.8 676.8,803.6 679,805C681.2,806.4 683.6,807.5 685.7,808.3C687.8,809.2 690.5,805.5 691.5,810C692.5,814.5 691.5,831.1 691.5,835.3M689,864.5C689.1,865.7 688.8,869.1 689.3,871.7C689.9,874.2 691,876.9 692.3,880C693.7,883.1 695.7,886.9 697.3,890C699,893.1 700.4,896 702.3,898.3C704.3,900.7 706.5,902.5 709,904.2C711.5,905.8 714.8,906.5 717.3,908.3C719.8,910.1 721.5,912.5 724,915C726.5,917.5 730.1,921.1 732.3,923.3C734.6,925.6 735.7,927.1 737.7,928.3C739.6,929.6 741.6,930.6 744,930.8C746.4,931.1 749.6,930.3 752.3,930C755.1,929.7 757.6,928.9 760.7,929.2C763.7,929.4 767.6,930.6 770.7,931.7C773.7,932.8 776.2,934.4 779,935.8C781.8,937.2 784.8,939.2 787.3,940C789.8,940.8 792.9,940.7 794,940.8M594,908C595.7,908.1 600.9,908 604,908.3C607.1,908.7 609.6,908.6 612.3,910C615.1,911.4 618.2,914.2 620.7,916.7C623.2,919.2 625.1,922.4 627.3,925C629.6,927.6 631.5,930.4 634,932.5C636.5,934.6 639.6,936.1 642.3,937.5C645.1,938.9 647.6,939.3 650.7,940.8C653.7,942.4 657.6,944.9 660.7,946.7C663.7,948.5 665.9,950.4 669,951.7C672.1,952.9 675.4,953.7 679,954.2C682.6,954.7 687.1,954.2 690.7,954.7C694.3,955.1 697.3,955.8 700.7,956.7C704,957.6 708.4,959.3 710.7,960C712.9,960.7 713.7,960.7 714.3,960.8M594,954.2C595.7,954.3 600.7,954.3 604,955C607.3,955.7 610.7,956.9 614,958.3C617.3,959.7 620.7,961.1 624,963.3C627.3,965.6 630.7,969.2 634,971.7C637.3,974.2 640.7,976.5 644,978.3C647.3,980.1 650.7,981.1 654,982.5C657.3,983.9 661.2,985.1 664,986.7C666.8,988.2 668.7,989.4 670.7,991.7C672.6,993.9 674.6,997.5 675.7,1000C676.7,1002.5 676.8,1004.3 677,1006.7C677.2,1009 677,1012.9 677,1014.2M794,865C792.6,865.6 788,867.3 785.7,868.3C783.3,869.4 779.8,870.2 779.8,871.3C779.8,872.4 783.3,874.2 785.7,875C788,875.8 792.6,875.7 794,875.8M760.7,780C763.4,780.3 773.2,780.8 777.3,781.7C781.5,782.5 782.9,783.3 785.7,785C788.4,786.7 792.6,790.6 794,791.7M769.8,973.3C771.1,973.5 774.7,973.6 777.3,974.2C780,974.7 782.9,975.8 785.7,976.7C788.4,977.5 792.6,978.8 794,979.2M794,790.8C795.4,791.7 799.6,794.3 802.3,795.8C805.1,797.4 807.6,798.9 810.7,800C813.7,801.1 817.1,801.8 820.7,802.5C824.3,803.2 828.7,803.3 832.3,804.2C835.9,805 839.3,806.4 842.3,807.5C845.4,808.6 849,809.6 850.7,810.8C852.3,812.1 852.6,812.9 852.3,815C852.1,817.1 850.7,821 849,823.3C847.3,825.7 845.1,827.8 842.3,829.2C839.6,830.6 835.7,830.8 832.3,831.7C829,832.5 825.4,832.8 822.3,834.2C819.3,835.6 816.5,837.6 814,840C811.5,842.4 809.6,845.6 807.3,848.3C805.1,851.1 802.9,854.2 800.7,856.7C798.4,859.2 795.1,862.2 794,863.3M855.7,780C857.1,780.8 860.9,783.3 864,785C867.1,786.7 870.7,788.5 874,790C877.3,791.5 880.7,793.1 884,794.2C887.3,795.3 890.9,795.6 894,796.7C897.1,797.8 899.6,799.4 902.3,800.8C905.1,802.2 907.9,803.9 910.7,805C913.4,806.1 916.2,806.9 919,807.5C921.8,808.1 924.3,808.1 927.3,808.7C930.4,809.2 933.5,810.1 937.3,810.8C941.2,811.6 948.2,812.9 950.3,813.3M914,780C916.2,780.4 923.2,781.8 927.3,782.5C931.5,783.2 935.4,783.3 939,784.2C942.6,785 945.4,786.2 949,787.5C952.6,788.8 957.1,790.4 960.7,791.7C964.3,792.9 967.1,793.9 970.7,795C974.3,796.1 978.4,797.5 982.3,798.3C986.2,799.2 992.1,799.7 994,800M837.8,894.2C838.9,894.4 842.1,894.6 844,895.8C845.9,897.1 847.1,900 849,901.7C850.9,903.3 853.2,904.8 855.7,905.8C858.2,906.9 860.2,907.6 864,908C867.8,908.4 875.8,908.3 878.2,908.3M933.7,916.7C934.8,917.2 938.1,918.6 940.7,920C943.2,921.4 946.2,923.1 949,925C951.8,926.9 954.6,929.4 957.3,931.7C960.1,933.9 962.9,936.1 965.7,938.3C968.4,940.6 971.5,943.1 974,945C976.5,946.9 978.4,948.5 980.7,950C982.9,951.5 985.1,953.1 987.3,954.2C989.6,955.3 992.9,956.2 994,956.7M794,941.3C795.7,941.4 800.4,941.7 804,941.7C807.6,941.7 811.8,941.1 815.7,941.3C819.6,941.6 823.7,942.4 827.3,943.3C830.9,944.2 833.7,945.6 837.3,946.7C840.9,947.8 845.1,949 849,950C852.9,951 856.8,951.7 860.7,952.5C864.6,953.3 868.4,953.9 872.3,955C876.2,956.1 880.7,957.6 884,959.2C887.3,960.7 889.8,962.4 892.3,964.2C894.8,966 897.1,968.1 899,970C900.9,971.9 902.6,973.6 904,975.8C905.4,978.1 906.5,980.7 907.3,983.3C908.2,986 909,989.3 909,991.7C909,994 907.6,996.5 907.3,997.5M794,980.8C795.1,981.4 798.2,983.2 800.7,984.2C803.2,985.1 806.8,985.4 809,986.7C811.2,987.9 813.3,989.4 814,991.7C814.7,993.9 813.7,997.5 813.2,1000C812.6,1002.5 811.9,1004.6 810.7,1006.7C809.4,1008.8 807.1,1011 805.7,1012.5C804.3,1014 802.9,1015.3 802.3,1015.8M990.7,780C992.9,780.3 999.6,781.4 1004,781.7C1008.4,781.9 1013.4,781.9 1017.3,781.7C1021.2,781.4 1025.7,780.3 1027.3,780M954,789.2C955.7,789.6 960.4,790.7 964,791.7C967.6,792.6 971.8,793.8 975.7,795C979.6,796.2 983.2,798.1 987.3,799.2C991.5,800.3 996.2,801.2 1000.7,801.7C1005.1,802.1 1009.6,802.1 1014,801.7C1018.4,801.2 1022.9,800 1027.3,799.2C1031.8,798.3 1036.2,797.2 1040.7,796.7C1045.1,796.1 1049.6,795.9 1054,795.8C1058.4,795.8 1062.9,795.9 1067.3,796.3C1071.8,796.8 1076.5,797.3 1080.7,798.3C1084.8,799.4 1088.7,801.4 1092.3,802.5C1095.9,803.6 1099,804.4 1102.3,805C1105.7,805.6 1108.7,806 1112.3,805.8C1115.9,805.7 1120.4,804.7 1124,804.2C1127.6,803.6 1130.7,802.8 1134,802.5C1137.3,802.2 1140.7,802.5 1144,802.5C1147.3,802.5 1152.3,802.5 1154,802.5M1005.7,829.2C1007.3,829 1012.1,828.8 1015.7,828.3C1019.3,827.9 1023.2,827.2 1027.3,826.7C1031.5,826.1 1036.2,825.4 1040.7,825C1045.1,824.6 1049.6,824.2 1054,824.2C1058.4,824.2 1063.2,824.4 1067.3,825C1071.5,825.6 1075.1,826.5 1079,827.5C1082.9,828.5 1087.1,829.9 1090.7,830.8C1094.3,831.8 1097.3,832.8 1100.7,833.3C1104,833.9 1107.3,834.1 1110.7,834.2C1114,834.2 1117.3,833.9 1120.7,833.7C1124,833.5 1127.1,833.2 1130.7,833C1134.3,832.8 1138.4,832.7 1142.3,832.5C1146.2,832.3 1152.1,831.8 1154,831.7M1090.7,780C1092.3,780.4 1096.8,782 1100.7,782.5C1104.6,783 1109.6,783.1 1114,783C1118.4,782.9 1123.4,781.8 1127.3,781.7C1131.2,781.6 1132.9,782.8 1137.3,782.5C1141.8,782.2 1151.2,780.4 1154,780M954,926.7C955.4,928.1 959.6,932.5 962.3,935C965.1,937.5 967.9,939.4 970.7,941.7C973.4,943.9 976.2,946.2 979,948.3C981.8,950.4 984.3,952.4 987.3,954.2C990.4,956 994.3,957.8 997.3,959.2C1000.4,960.6 1002.3,961.2 1005.7,962.5C1009,963.8 1014,965.1 1017.3,966.7C1020.7,968.2 1023.4,969.7 1025.7,971.7C1027.9,973.6 1029.3,975.8 1030.7,978.3C1032.1,980.8 1033.7,983.9 1034,986.7C1034.3,989.4 1033.4,992.5 1032.3,995C1031.2,997.5 1029.3,999.7 1027.3,1001.7C1025.4,1003.6 1023.2,1005.3 1020.7,1006.7C1018.2,1008.1 1013.7,1009.4 1012.3,1010M954,760.8C955.1,761.5 958.2,763.5 960.7,765C963.2,766.5 965.9,768.3 969,770C972.1,771.7 975.4,773.5 979,775C982.6,776.5 987.1,777.9 990.7,779.2C994.3,780.4 999,781.9 1000.7,782.5M989,286.7C990.4,286.8 994.3,286.8 997.3,287.5C1000.4,288.2 1004,289.6 1007.3,290.8C1010.7,292.1 1013.7,293.5 1017.3,295C1020.9,296.5 1025.1,298.1 1029,300C1032.9,301.9 1036.5,304.2 1040.7,306.7C1044.8,309.2 1050.7,312.8 1054,315C1057.3,317.2 1057.9,317.8 1060.7,320C1063.4,322.2 1067.6,325.8 1070.7,328.3C1073.7,330.8 1077.3,333.1 1079,335C1080.7,336.9 1080.4,339.2 1080.7,340M1133.7,361.7C1135.1,361.9 1138.9,362.5 1142.3,363.3C1145.7,364.2 1152.1,366.1 1154,366.7M989,367.5C990.4,367.9 994.4,368.9 997.3,370C1000.2,371.1 1005,373.5 1006.5,374.2" fill="none" stroke="#404040" stroke-width="3.5" stroke-linejoin="round" stroke-linecap="butt"/>
<rect x="543.5" y="206.7" width="55.2" height="28.3" fill="#fff" stroke="#000" stroke-width="1"/><text class="lb" x="549" y="228.8" font-size="26" textLength="44.2" lengthAdjust="spacingAndGlyphs" style="fill:#000;stroke:#fff;stroke-width:0.5px">320</text><rect x="483.5" y="264.7" width="55" height="28.6" fill="#fff" stroke="#000" stroke-width="1"/><text class="lb" x="489" y="287" font-size="26" textLength="44" lengthAdjust="spacingAndGlyphs" style="fill:#000;stroke:#fff;stroke-width:0.5px">316</text><rect x="546.5" y="352.5" width="56.2" height="28.5" fill="#fff" stroke="#000" stroke-width="1"/><text class="lb" x="552" y="374.7" font-size="26" textLength="45.2" lengthAdjust="spacingAndGlyphs" style="fill:#000;stroke:#fff;stroke-width:0.5px">312</text><rect x="550.3" y="417.5" width="56.2" height="28.3" fill="#fff" stroke="#000" stroke-width="1"/><text class="lb" x="555.8" y="439.6" font-size="26" textLength="45.2" lengthAdjust="spacingAndGlyphs" style="fill:#000;stroke:#fff;stroke-width:0.5px">308</text><rect x="934.8" y="279.7" width="54.2" height="28.6" fill="#fff" stroke="#000" stroke-width="1"/><text class="lb" x="940.3" y="302" font-size="26" textLength="43.2" lengthAdjust="spacingAndGlyphs" style="fill:#000;stroke:#fff;stroke-width:0.5px">320</text><rect x="934" y="354.3" width="55" height="29" fill="#fff" stroke="#000" stroke-width="1"/><text class="lb" x="939.5" y="376.8" font-size="26" textLength="44" lengthAdjust="spacingAndGlyphs" style="fill:#000;stroke:#fff;stroke-width:0.5px">316</text><rect x="1006.5" y="370.5" width="55" height="29" fill="#fff" stroke="#000" stroke-width="1"/><text class="lb" x="1012" y="393" font-size="26" textLength="44" lengthAdjust="spacingAndGlyphs" style="fill:#000;stroke:#fff;stroke-width:0.5px">316</text><rect x="1078.3" y="339.5" width="55.2" height="29" fill="#fff" stroke="#000" stroke-width="1"/><text class="lb" x="1083.8" y="362" font-size="26" textLength="44.2" lengthAdjust="spacingAndGlyphs" style="fill:#000;stroke:#fff;stroke-width:0.5px">320</text><rect x="922.5" y="428.7" width="55.2" height="28.8" fill="#fff" stroke="#000" stroke-width="1"/><text class="lb" x="928" y="451.1" font-size="26" textLength="44.2" lengthAdjust="spacingAndGlyphs" style="fill:#000;stroke:#fff;stroke-width:0.5px">312</text><rect x="997.3" y="514.2" width="55.4" height="28.3" fill="#fff" stroke="#000" stroke-width="1"/><text class="lb" x="1002.8" y="536.3" font-size="26" textLength="44.4" lengthAdjust="spacingAndGlyphs" style="fill:#000;stroke:#fff;stroke-width:0.5px">312</text><rect x="850.3" y="563.3" width="55" height="28.4" fill="#fff" stroke="#000" stroke-width="1"/><text class="lb" x="855.8" y="585.5" font-size="26" textLength="44" lengthAdjust="spacingAndGlyphs" style="fill:#000;stroke:#fff;stroke-width:0.5px">308</text><rect x="483.5" y="617.5" width="55" height="28.8" fill="#fff" stroke="#000" stroke-width="1"/><text class="lb" x="489" y="639.9" font-size="26" textLength="44" lengthAdjust="spacingAndGlyphs" style="fill:#000;stroke:#fff;stroke-width:0.5px">300</text><rect x="379.3" y="641.7" width="55.2" height="27.8" fill="#fff" stroke="#000" stroke-width="1"/><text class="lb" x="384.8" y="663.6" font-size="26" textLength="44.2" lengthAdjust="spacingAndGlyphs" style="fill:#000;stroke:#fff;stroke-width:0.5px">296</text><rect x="1034.3" y="643.3" width="55.5" height="29.2" fill="#fff" stroke="#000" stroke-width="1"/><text class="lb" x="1039.8" y="665.9" font-size="26" textLength="44.5" lengthAdjust="spacingAndGlyphs" style="fill:#000;stroke:#fff;stroke-width:0.5px">308</text><rect x="930.3" y="715.3" width="56.2" height="29.4" fill="#fff" stroke="#000" stroke-width="1"/><text class="lb" x="935.8" y="738" font-size="26" textLength="45.2" lengthAdjust="spacingAndGlyphs" style="fill:#000;stroke:#fff;stroke-width:0.5px">304</text><rect x="1082.3" y="727.5" width="56.4" height="28.8" fill="#fff" stroke="#000" stroke-width="1"/><text class="lb" x="1087.8" y="749.9" font-size="26" textLength="45.4" lengthAdjust="spacingAndGlyphs" style="fill:#000;stroke:#fff;stroke-width:0.5px">304</text><rect x="950.3" y="807.5" width="55.4" height="28.8" fill="#fff" stroke="#000" stroke-width="1"/><text class="lb" x="955.8" y="829.9" font-size="26" textLength="44.4" lengthAdjust="spacingAndGlyphs" style="fill:#000;stroke:#fff;stroke-width:0.5px">292</text><rect x="662.3" y="835.3" width="56.4" height="29.2" fill="#fff" stroke="#000" stroke-width="1"/><text class="lb" x="667.8" y="857.9" font-size="26" textLength="45.4" lengthAdjust="spacingAndGlyphs" style="fill:#000;stroke:#fff;stroke-width:0.5px">284</text><rect x="782.3" y="876.3" width="55.5" height="28.2" fill="#fff" stroke="#000" stroke-width="1"/><text class="lb" x="787.8" y="898.4" font-size="26" textLength="44.5" lengthAdjust="spacingAndGlyphs" style="fill:#000;stroke:#fff;stroke-width:0.5px">288</text><rect x="878.2" y="894.5" width="55.5" height="28.8" fill="#fff" stroke="#000" stroke-width="1"/><text class="lb" x="883.7" y="916.9" font-size="26" textLength="44.5" lengthAdjust="spacingAndGlyphs" style="fill:#000;stroke:#fff;stroke-width:0.5px">288</text><rect x="515.7" y="948.7" width="55" height="28.6" fill="#fff" stroke="#000" stroke-width="1"/><text class="lb" x="521.2" y="971" font-size="26" textLength="44" lengthAdjust="spacingAndGlyphs" style="fill:#000;stroke:#fff;stroke-width:0.5px">276</text><rect x="714.3" y="954.7" width="55.5" height="29" fill="#fff" stroke="#000" stroke-width="1"/><text class="lb" x="719.8" y="977.2" font-size="26" textLength="44.5" lengthAdjust="spacingAndGlyphs" style="fill:#000;stroke:#fff;stroke-width:0.5px">280</text><rect x="873.5" y="997.5" width="56.3" height="28.8" fill="#fff" stroke="#000" stroke-width="1"/><text class="lb" x="879" y="1019.9" font-size="26" textLength="45.3" lengthAdjust="spacingAndGlyphs" style="fill:#000;stroke:#fff;stroke-width:0.5px">284</text>
<path d="M954,976.7C980,975 1000,972 1016,967M1036.8,966C1045,958 1060,944 1076,938C1090,933 1100,932 1105,933C1120,935 1135,938 1144,938M922,997C935,990 945,982 954,976.7" fill="none" stroke="#400040" stroke-width="2.2"/>
<rect x="1016.2" y="950" width="20.6" height="24.7" fill="none" stroke="#400040" stroke-width="1"/>
<path d="M976.5,1010.8C978.3,1010.1 983.3,1008.2 987.3,1006.7C991.4,1005.1 996.2,1003.1 1000.7,1001.7C1005.1,1000.3 1009.6,999.7 1014,998.3C1018.4,996.9 1022.9,995 1027.3,993.3C1031.8,991.7 1036.8,990 1040.7,988.3C1044.6,986.7 1047.3,985.3 1050.7,983.3C1054,981.4 1057.3,978.8 1060.7,976.7C1064,974.6 1067.1,972.8 1070.7,970.8C1074.3,968.9 1078.2,966.5 1082.3,965C1086.5,963.5 1090.9,962.5 1095.7,961.7C1100.4,960.8 1105.9,960.1 1110.7,960C1115.4,959.9 1120.1,960.3 1124,960.8C1127.9,961.4 1130.7,962.2 1134,963.3C1137.3,964.4 1140.7,966.4 1144,967.5C1147.3,968.6 1152.3,969.6 1154,970M1026.5,1010C1028.3,1009.2 1033.6,1006.7 1037.3,1005C1041.1,1003.3 1045.1,1001.7 1049,1000C1052.9,998.3 1057.1,996.7 1060.7,995C1064.3,993.3 1067.3,991.8 1070.7,990C1074,988.2 1077.3,985.8 1080.7,984.2C1084,982.5 1087.3,981.1 1090.7,980C1094,978.9 1096.8,978.2 1100.7,977.5C1104.6,976.8 1109.6,976 1114,975.8C1118.4,975.7 1123.4,976 1127.3,976.7C1131.2,977.4 1134,978.8 1137.3,980C1140.7,981.2 1144.6,983.2 1147.3,984.2C1150.1,985.1 1152.9,985.6 1154,985.8M1057.3,1007.5C1059.6,1006.5 1066.2,1003.6 1070.7,1001.7C1075.1,999.7 1079.8,997.6 1084,995.8C1088.2,994 1091.8,992.2 1095.7,990.8C1099.6,989.4 1103.4,988.2 1107.3,987.5C1111.2,986.8 1115.4,986.4 1119,986.7C1122.6,986.9 1125.7,988.1 1129,989.2C1132.3,990.3 1135.9,992.2 1139,993.3C1142.1,994.4 1144.8,995.1 1147.3,995.8C1149.8,996.5 1152.9,997.2 1154,997.5M1076.5,1009.2C1078.3,1008.3 1083.6,1005.7 1087.3,1004.2C1091.1,1002.6 1095.1,1001.2 1099,1000C1102.9,998.8 1107.1,997.4 1110.7,996.7C1114.3,996 1117.3,995.6 1120.7,995.8C1124,996.1 1127.3,997.2 1130.7,998.3C1134,999.4 1137.6,1001.2 1140.7,1002.5C1143.7,1003.8 1146.8,1005 1149,1005.8C1151.2,1006.7 1153.2,1007.2 1154,1007.5M1107.3,1008.3C1109,1008.1 1114,1006.9 1117.3,1006.7C1120.7,1006.4 1124.8,1006.4 1127.3,1006.7C1129.8,1006.9 1131.5,1008.1 1132.3,1008.3M936.5,1010C937.8,1009.6 941.1,1008.5 944,1007.5C946.9,1006.5 952.3,1004.7 954,1004.2" fill="none" stroke="#008000" stroke-width="2.8" stroke-linejoin="round" stroke-linecap="butt"/>
<g mask="url(#ms)"><path d="M229.3,180C229.4,182.8 229.6,190.8 229.8,196.7C230.1,202.5 230.2,208.6 230.7,215C231.1,221.4 232,228.3 232.7,235C233.4,241.7 234.1,248.6 234.8,255C235.6,261.4 236.2,267.8 237,273.3C237.8,278.9 238.8,283.9 239.8,288.3C240.9,292.8 241.9,296.1 243.2,300C244.4,303.9 245.9,308.6 247.3,311.7C248.7,314.7 250.4,315.3 251.5,318.3C252.6,321.4 252.5,325.6 254,330C255.5,334.4 258.6,340.8 260.7,345C262.8,349.2 265,351.7 266.5,355C268,358.3 268.9,361.9 269.8,365C270.8,368.1 271.4,370.8 272.3,373.3C273.2,375.8 274.8,378.9 275.3,380M240.3,180C240.4,181.7 240.5,185.8 240.7,190C240.8,194.2 240.9,199.4 241.2,205C241.4,210.6 241.9,217.2 242.3,223.3C242.8,229.4 243.2,235.6 244,241.7C244.8,247.8 246.1,254.2 247.3,260C248.6,265.8 250.1,271.7 251.5,276.7C252.9,281.7 254.1,286.1 255.7,290C257.2,293.9 258.7,296.7 260.7,300C262.6,303.3 265.1,306.9 267.3,310C269.6,313.1 272.6,316.4 274,318.3C275.4,320.3 274,319.7 275.7,321.7C277.3,323.6 280.9,327.2 284,330C287.1,332.8 291.2,335.6 294,338.3C296.8,341.1 298.4,343.9 300.7,346.7C302.9,349.4 304.6,352.2 307.3,355C310.1,357.8 314,360.3 317.3,363.3C320.7,366.4 324.6,370.6 327.3,373.3C330.1,376.1 332.9,378.9 334,380M249.8,193C250.2,191.7 251.4,191.9 252.3,192C253.2,192.1 254.5,191.4 255.3,193.3C256.2,195.2 256.6,199.7 257.3,203.3C258.1,206.9 259.2,211.1 259.8,215C260.5,218.9 261,222.5 261.3,226.7C261.6,230.8 261.7,235.9 261.7,240C261.7,244.1 261.8,249.1 261.3,251.3C260.8,253.6 259.3,254.4 258.7,253.7C258.1,252.9 257.9,249.8 257.7,246.7C257.4,243.6 257.3,237.8 257,235C256.7,232.2 256.6,232 255.7,230C254.8,228 252.3,225.8 251.5,223C250.7,220.2 250.9,217.2 250.7,213.3C250.5,209.5 250.5,203.4 250.3,200C250.2,196.6 249.5,194.3 249.8,193ZM269.8,180C269.9,182.8 270.1,190.6 270.3,196.7C270.5,202.8 270.4,210.6 271,216.7C271.6,222.8 273.1,228.6 274,233.3C274.9,238.1 275.5,241.1 276.5,245C277.5,248.9 278.7,253.3 279.8,256.7C280.9,260 281.5,262.4 283.2,265C284.8,267.6 287.2,270.3 289.8,272.5C292.5,274.7 296.2,276.5 299,278.3C301.8,280.1 304.3,281.1 306.5,283.3C308.7,285.6 310,288.6 312.3,291.7C314.7,294.7 317.6,298.9 320.7,301.7C323.7,304.4 327.6,306.1 330.7,308.3C333.7,310.6 336.2,312.8 339,315C341.8,317.2 344.8,320.2 347.3,321.3C349.8,322.4 352.1,320.5 354,321.7C355.9,322.8 356.8,325.3 359,328.3C361.2,331.4 364.3,335.8 367.3,340C370.4,344.2 375.4,350 377.3,353.3C379.3,356.7 377.9,357.5 379,360C380.1,362.5 382.1,365.8 384,368.3C385.9,370.8 389,373.6 390.7,375C392.3,376.4 393.4,376.4 394,376.7M289.8,180C290.1,180.6 288.9,183 291.5,183.7C294.1,184.4 301.9,183.4 305.7,184.2C309.4,184.9 311.2,186.5 314,188C316.8,189.5 319.6,191.4 322.3,193C325.1,194.6 327.9,196.1 330.7,197.5C333.4,198.9 335.4,200.7 339,201.3C342.6,202 348.7,201.8 352.3,201.3C355.9,200.8 357.6,199 360.7,198.3C363.7,197.7 367.6,197.4 370.7,197.5C373.7,197.6 376.2,198.1 379,199.2C381.8,200.3 385.3,203.1 387.3,204.2C389.4,205.2 390.8,205.1 391.5,205.3M438.7,211.7C440.1,211.8 444.2,211.8 447.3,212.5C450.4,213.2 453.7,215 457.3,215.8C460.9,216.7 465.1,216.9 469,217.5C472.9,218.1 476.5,219.2 480.7,219.7C484.8,220.1 489,220.1 494,220.3C499,220.6 505.1,221.2 510.7,221.3C516.2,221.5 522.9,221.7 527.3,221.3C531.8,221 533.4,219.9 537.3,219.2C541.2,218.4 546.8,217.8 550.7,216.7C554.6,215.6 557.6,213.8 560.7,212.5C563.7,211.2 566.2,210 569,209.2C571.8,208.3 574.6,207.6 577.3,207.5C580.1,207.4 582.9,207.8 585.7,208.3C588.4,208.9 592.6,210.4 594,210.8M425.7,375C426.4,373.1 428.9,366.9 429.8,363.3C430.8,359.7 430.9,357.5 431.5,353.3C432.1,349.2 432.2,343.3 433.2,338.3C434.1,333.3 435.5,327.5 437.3,323.3C439.1,319.2 441.5,316.1 444,313.3C446.5,310.6 450,308.9 452.3,306.7C454.7,304.4 456.8,302.2 458.2,300C459.6,297.8 459.1,296.1 460.7,293.3C462.2,290.6 465.1,286.7 467.3,283.3C469.6,280 472.1,275.7 474,273.3C475.9,271 476.8,270.1 479,269.2C481.2,268.2 483.7,267.7 487.3,267.5C490.9,267.3 496.2,268.2 500.7,268C505.1,267.8 509.6,267.4 514,266.3C518.4,265.3 522.3,263 527.3,261.7C532.3,260.3 538.4,259.4 544,258.3C549.6,257.2 556.2,256.2 560.7,255C565.1,253.8 567.3,251.9 570.7,250.8C574,249.8 576.8,249.1 580.7,248.7C584.6,248.2 591.8,248.1 594,248M594,213.3C595.1,213.6 597.9,214.9 600.7,214.7C603.4,214.4 607.3,213 610.7,211.7C614,210.3 617.3,208.8 620.7,206.7C624,204.6 627.1,201.1 630.7,199.2C634.3,197.2 639,195.1 642.3,195C645.7,194.9 648.4,196.1 650.7,198.3C652.9,200.6 654,204.2 655.7,208.3C657.3,212.5 658.7,218.6 660.7,223.3C662.6,228.1 665.1,232.8 667.3,236.7C669.6,240.6 671.8,244.7 674,246.7C676.2,248.6 677.9,248.3 680.7,248.3C683.4,248.3 687.3,246.4 690.7,246.7C694,246.9 697.6,248.6 700.7,250C703.7,251.4 706.5,253.4 709,255C711.5,256.6 713.4,258.9 715.7,259.7C717.9,260.4 720.1,260.6 722.3,259.7C724.6,258.8 726.5,255.5 729,254.2C731.5,252.8 734.8,251.7 737.3,251.7C739.8,251.7 741.5,253.3 744,254.2C746.5,255 749.6,256.8 752.3,256.7C755.1,256.5 756.9,254.5 760.7,253.3C764.5,252.2 772.8,250.3 775.2,249.7M594,248.7C595.4,248.6 599,249 602.3,248C605.7,247 610.4,244.2 614,242.5C617.6,240.8 620.7,239 624,238C627.3,237 630.9,235.9 634,236.3C637.1,236.8 639.8,238 642.3,240.8C644.8,243.7 646.5,248.5 649,253.3C651.5,258.2 654.6,265.3 657.3,270C660.1,274.7 662.9,279.2 665.7,281.7C668.4,284.2 670.9,284.6 674,285C677.1,285.4 680.9,284.7 684,284.2C687.1,283.6 689.6,281.7 692.3,281.7C695.1,281.7 697.9,282.9 700.7,284.2C703.4,285.4 706.5,288 709,289.2C711.5,290.4 713.4,291.3 715.7,291.3C717.9,291.3 720.1,290.5 722.3,289.2C724.6,287.8 726.5,284.6 729,283.3C731.5,282 734.3,281.2 737.3,281.3C740.4,281.5 743.4,283.8 747.3,284.2C751.2,284.6 756.2,283.9 760.7,283.7C765.1,283.4 769.8,283.1 774,282.5C778.2,281.9 782.3,280.8 785.7,280C789,279.2 792.6,277.9 794,277.5M612.3,295C613.3,291.7 616.5,291.7 619,291.7C621.5,291.7 625.1,292.5 627.3,295C629.6,297.5 629.8,302.8 632.3,306.7C634.8,310.6 639.1,314.9 642.3,318.3C645.5,321.8 650.2,323.9 651.5,327.5C652.8,331.1 650.8,335.4 649.8,340C648.9,344.6 647.2,350.3 645.7,355C644.1,359.7 642.5,365 640.7,368.3C638.9,371.7 637.1,375.3 634.8,375C632.6,374.7 629.3,371.4 627.3,366.7C625.4,361.9 625.2,353.1 623.2,346.7C621.1,340.3 616.5,334.2 614.8,328.3C613.2,322.5 613.6,317.2 613.2,311.7C612.8,306.1 611.4,298.3 612.3,295ZM676.5,343.3C676.6,341.7 676.3,336.4 677,333.3C677.7,330.3 678.4,327.4 680.7,325C682.9,322.6 687.6,320 690.7,319.2C693.7,318.3 696.2,319 699,320C701.8,321 705,323.8 707.3,325C709.7,326.2 710.9,327.6 713.2,327C715.4,326.4 718,323.9 720.7,321.7C723.3,319.4 726.2,315.4 729,313.3C731.8,311.3 734.8,309.4 737.3,309.2C739.8,308.9 740.7,311.1 744,311.7C747.3,312.2 752.8,312.8 757.3,312.5C761.9,312.2 768.9,310.4 771.2,310M727.3,380C727.5,377.2 727.6,366.9 728.2,363.3C728.7,359.7 729,359.8 730.7,358.3C732.3,356.9 735.5,354.3 738.2,354.7C740.8,355 743.9,360.6 746.5,360.3C749.1,360.1 750.8,356.2 754,353.3C757.2,350.5 761.8,346.4 765.7,343.3C769.6,340.3 773.7,337.5 777.3,335C780.9,332.5 784.6,329.9 787.3,328.3C790.1,326.8 792.9,326.3 794,325.8M821.5,225.8C822.5,225.1 824.7,222.7 827.3,221.7C830,220.6 833.7,219.7 837.3,219.7C840.9,219.7 845.1,220.8 849,221.7C852.9,222.6 857.1,223.8 860.7,225C864.3,226.2 867.3,227.8 870.7,229.2C874,230.6 876.8,232.4 880.7,233.3C884.6,234.3 889.6,234.2 894,235C898.4,235.8 903.2,237.6 907.3,238.3C911.5,239 915.1,239.6 919,239.2C922.9,238.8 927.1,237.2 930.7,235.8C934.3,234.4 937.3,232.9 940.7,230.8C944,228.8 946.8,225.8 950.7,223.3C954.6,220.8 960.1,218.2 964,215.8C967.9,213.5 970.7,211.2 974,209.2C977.3,207.1 980.7,204.8 984,203.3C987.3,201.9 990.7,200.8 994,200.3C997.3,199.8 1000.7,199.8 1004,200.3C1007.3,200.8 1010.7,202 1014,203.3C1017.3,204.7 1020.7,206.7 1024,208.3C1027.3,210 1030.9,211.4 1034,213.3C1037.1,215.3 1039.6,217.4 1042.3,220C1045.1,222.6 1047.9,226.7 1050.7,229.2C1053.4,231.7 1056.2,232.6 1059,235C1061.8,237.4 1065.1,240.6 1067.3,243.3C1069.6,246.1 1070.9,248.6 1072.3,251.7C1073.7,254.7 1073.7,258.3 1075.7,261.7C1077.6,265 1081.5,268.3 1084,271.7C1086.5,275 1088.7,278.3 1090.7,281.7C1092.6,285 1093.4,288.8 1095.7,291.7C1097.9,294.6 1101.6,296.8 1104,299.2C1106.4,301.6 1108.2,303.7 1110,306C1111.8,308.3 1113.3,310.7 1115,313C1116.7,315.3 1118.7,317.8 1120,320C1121.3,322.2 1121.7,324.2 1123,326C1124.3,327.8 1126.2,329.2 1128,331C1129.8,332.8 1132.3,335 1134,337C1135.7,339 1136.7,340.8 1138,343C1139.3,345.2 1140.7,347.7 1142,350C1143.3,352.3 1144.7,354.8 1146,357C1147.3,359.2 1148.7,361.3 1150,363C1151.3,364.7 1153.3,366.3 1154,367M794,276.7C795.7,275.7 800.4,272.8 804,270.8C807.6,268.9 811.8,266.8 815.7,265C819.6,263.2 824,261.4 827.3,260C830.7,258.6 833,257.2 835.7,256.7C838.4,256.2 842.2,256.9 843.5,257M873.7,271.3C875.4,271.4 880.1,272.2 884,271.7C887.9,271.2 892.9,268.8 897.3,268.3C901.8,267.9 906.2,269.4 910.7,269.2C915.1,268.9 919.8,268.2 924,266.7C928.2,265.1 932.3,262.2 935.7,260C939,257.8 941.2,256 944,253.3C946.8,250.7 949,246.4 952.3,244.2C955.7,241.9 960.4,241.8 964,240C967.6,238.2 970.7,235.8 974,233.3C977.3,230.8 980.7,227.3 984,225C987.3,222.7 990.7,220.5 994,219.7C997.3,218.8 1000.7,219.4 1004,220C1007.3,220.6 1010.7,221.7 1014,223.3C1017.3,225 1020.7,227.8 1024,230C1027.3,232.2 1030.7,233.9 1034,236.7C1037.3,239.4 1040.7,243.6 1044,246.7C1047.3,249.7 1050.9,251.9 1054,255C1057.1,258.1 1059.6,261.4 1062.3,265C1065.1,268.6 1068.2,272.8 1070.7,276.7C1073.2,280.6 1074.9,284.4 1077.3,288.3C1079.7,292.2 1082.9,297.1 1085,300C1087.1,302.9 1088.2,303.8 1090,306C1091.8,308.2 1094.2,310.7 1096,313C1097.8,315.3 1099.3,317.7 1101,320C1102.7,322.3 1104,324.8 1106,327C1108,329.2 1111,330.8 1113,333C1115,335.2 1116.2,337.8 1118,340C1119.8,342.2 1122.2,343.7 1124,346C1125.8,348.3 1127.5,351.3 1129,354C1130.5,356.7 1131.5,359.5 1133,362C1134.5,364.5 1136.3,366.7 1138,369C1139.7,371.3 1142.2,374.8 1143,376M817.3,289.2C818.7,288.5 822.6,286 825.7,285C828.7,284 832.6,283.1 835.7,283.3C838.7,283.6 841.2,285 844,286.7C846.8,288.3 849.6,291.4 852.3,293.3C855.1,295.3 857.6,296.9 860.7,298.3C863.7,299.7 867.3,301.2 870.7,301.7C874,302.2 877.3,302.2 880.7,301.3C884,300.5 887.3,298.3 890.7,296.7C894,295.1 897.3,292.6 900.7,291.7C904,290.7 907.1,291.2 910.7,290.8C914.3,290.4 918.7,290.4 922.3,289.2C925.9,287.9 929.3,285.7 932.3,283.3C935.4,281 938.2,276.9 940.7,275C943.2,273.1 945.1,273.6 947.3,271.7C949.6,269.7 951.2,265.8 954,263.3C956.8,260.8 960.7,259.4 964,256.7C967.3,253.9 970.7,249.7 974,246.7C977.3,243.6 980.7,240.3 984,238.3C987.3,236.4 990.7,235.5 994,235C997.3,234.5 1000.7,234.6 1004,235.3C1007.3,236 1010.7,237.3 1014,239.2C1017.3,241.1 1020.7,244 1024,246.7C1027.3,249.3 1030.7,251.7 1034,255C1037.3,258.3 1040.7,262.8 1044,266.7C1047.3,270.6 1050.9,274.4 1054,278.3C1057.1,282.2 1059,286.4 1062.3,290C1065.7,293.6 1071.2,297 1074,300C1076.8,303 1077.3,305.3 1079,308C1080.7,310.7 1082.2,313.5 1084,316C1085.8,318.5 1088,320.7 1090,323C1092,325.3 1094,327.7 1096,330C1098,332.3 1100,334.8 1102,337C1104,339.2 1106,340.8 1108,343C1110,345.2 1112.2,347.7 1114,350C1115.8,352.3 1117.3,354.5 1119,357C1120.7,359.5 1122.5,362.5 1124,365C1125.5,367.5 1126.5,369.5 1128,372C1129.5,374.5 1132.2,378.7 1133,380M794,326.7C795.7,325.8 800.4,323.6 804,321.7C807.6,319.7 811.8,316.5 815.7,315C819.6,313.5 823.7,312.8 827.3,312.5C830.9,312.2 834.3,312.4 837.3,313.3C840.4,314.3 842.9,316.4 845.7,318.3C848.4,320.3 850.9,323.2 854,325C857.1,326.8 860.4,328.6 864,329.2C867.6,329.7 872.3,329.4 875.7,328.3C879,327.2 881.5,324.4 884,322.5C886.5,320.6 887.9,318.2 890.7,316.7C893.4,315.1 897.3,314.2 900.7,313.3C904,312.5 907.3,312.4 910.7,311.7C914,311 917.1,310.6 920.7,309.2C924.3,307.8 929.6,304.9 932.3,303.3C935.1,301.8 936.5,300.3 937.3,299.7M965.7,270.8C967.1,269.3 970.9,264.6 974,261.7C977.1,258.8 980.7,255.5 984,253.3C987.3,251.2 990.7,249.4 994,248.7C997.3,248 1000.7,248.4 1004,249.2C1007.3,249.9 1010.7,251.2 1014,253.3C1017.3,255.4 1020.7,258.6 1024,261.7C1027.3,264.7 1030.7,268.1 1034,271.7C1037.3,275.3 1040.7,279.4 1044,283.3C1047.3,287.2 1050.7,292.2 1054,295C1057.3,297.8 1061.5,297.8 1064,300C1066.5,302.2 1067.3,305.5 1069,308C1070.7,310.5 1072.2,312.5 1074,315C1075.8,317.5 1078,320.5 1080,323C1082,325.5 1084,327.7 1086,330C1088,332.3 1090,334.7 1092,337C1094,339.3 1096,341.7 1098,344C1100,346.3 1102.2,348.7 1104,351C1105.8,353.3 1107.3,355.5 1109,358C1110.7,360.5 1112.5,363.3 1114,366C1115.5,368.7 1116.7,371.5 1118,374C1119.3,376.5 1121.3,379.8 1122,381M815.7,348.3C817.3,347.8 822.6,345 825.7,345C828.7,345 831.2,346.7 834,348.3C836.8,350 839.6,352.9 842.3,355C845.1,357.1 847.6,359.4 850.7,360.8C853.7,362.2 857.1,363.1 860.7,363.3C864.3,363.6 869,363.3 872.3,362.5C875.7,361.7 878.2,360.1 880.7,358.3C883.2,356.5 885.1,354.2 887.3,351.7C889.6,349.2 891.8,345.7 894,343.3C896.2,341 897.9,338.9 900.7,337.5C903.4,336.1 907.3,336 910.7,335C914,334 917.3,333.3 920.7,331.7C924,330 927.9,327.5 930.7,325C933.4,322.5 935.7,319.2 937.3,316.7C939,314.2 939,312.2 940.7,310C942.3,307.8 945.1,305.6 947.3,303.3C949.6,301.1 951.2,299.2 954,296.7C956.8,294.2 961.2,291.1 964,288.3C966.8,285.6 968.4,282.5 970.7,280C972.9,277.5 974.8,275.7 977.3,273.3C979.8,271 982.9,267.6 985.7,265.8C988.4,264 990.9,263 994,262.5C997.1,262 1000.7,262.2 1004,263C1007.3,263.8 1010.7,265.5 1014,267.5C1017.3,269.5 1020.7,272.1 1024,275C1027.3,277.9 1030.7,281.4 1034,285C1037.3,288.6 1040.8,294.2 1044,296.7C1047.2,299.2 1050.7,298.3 1053,300C1055.3,301.7 1056.2,304.5 1058,307C1059.8,309.5 1062,312.3 1064,315C1066,317.7 1068,320.3 1070,323C1072,325.7 1074,328.5 1076,331C1078,333.5 1080,335.7 1082,338C1084,340.3 1086,342.7 1088,345C1090,347.3 1092.2,349.5 1094,352C1095.8,354.5 1097.3,357.3 1099,360C1100.7,362.7 1102.5,365.3 1104,368C1105.5,370.7 1107.3,374.7 1108,376M890.7,380C891.8,378.3 894.6,372.5 897.3,370C900.1,367.5 904,366.4 907.3,365C910.7,363.6 914,363.1 917.3,361.7C920.7,360.3 924.6,358.9 927.3,356.7C930.1,354.4 932.1,351.4 934,348.3C935.9,345.3 937.3,341.9 939,338.3C940.7,334.7 941.5,330 944,326.7C946.5,323.3 950.9,321.1 954,318.3C957.1,315.6 959.6,313.1 962.3,310C965.1,306.9 967.6,303.3 970.7,300C973.7,296.7 977.6,293.1 980.7,290C983.7,286.9 986.8,283.8 989,281.7C991.2,279.5 991.5,277.7 994,277C996.5,276.3 1000.7,276.7 1004,277.5C1007.3,278.3 1010.7,279.9 1014,281.7C1017.3,283.5 1020.7,285.6 1024,288.3C1027.3,291.1 1031.3,296.4 1034,298.3C1036.7,300.3 1038,298.7 1040,300C1042,301.3 1044,303.8 1046,306C1048,308.2 1049.7,310.3 1052,313C1054.3,315.7 1058,319.3 1060,322C1062,324.7 1062.3,326.5 1064,329C1065.7,331.5 1068,334.5 1070,337C1072,339.5 1074,341.7 1076,344C1078,346.3 1080,348.5 1082,351C1084,353.5 1086,356.3 1088,359C1090,361.7 1092.3,364.3 1094,367C1095.7,369.7 1097.3,373.7 1098,375M934.8,380C935.5,378.1 937.5,371.7 939,368.3C940.5,365 942.1,363.6 944,360C945.9,356.4 949,350.6 950.7,346.7C952.3,342.8 952.3,340 954,336.7C955.7,333.3 957.9,330.6 960.7,326.7C963.4,322.8 967.3,317.5 970.7,313.3C974,309.2 977.6,304.7 980.7,301.7C983.7,298.6 986.5,296.7 989,295C991.5,293.3 993.2,291.9 995.7,291.3C998.2,290.7 1000.9,290.7 1004,291.3C1007.1,291.9 1010.7,293.3 1014,295C1017.3,296.7 1020.9,299.3 1024,301.7C1027.1,304 1030.1,307.2 1032.3,309.2C1034.6,311.1 1036.5,312.6 1037.3,313.3M1061,337C1061.8,338 1064.2,340.7 1066,343C1067.8,345.3 1070,348.3 1072,351C1074,353.7 1076.2,356.5 1078,359C1079.8,361.5 1081.5,363.7 1083,366C1084.5,368.3 1085.7,370.5 1087,373C1088.3,375.5 1090.3,379.7 1091,381M944,380C944.8,377.8 947.3,370.8 949,366.7C950.7,362.5 951.8,359.4 954,355C956.2,350.6 959.6,344.4 962.3,340C965.1,335.6 967.9,331.9 970.7,328.3C973.4,324.7 976.2,321.1 979,318.3C981.8,315.6 984.6,313.2 987.3,311.7C990.1,310.1 992.9,309.5 995.7,309.2C998.4,308.8 1001.5,309.1 1004,309.7C1006.5,310.2 1008.7,311.6 1010.7,312.5C1012.6,313.4 1014.8,314.6 1015.7,315M1051,341C1051.8,342 1054.3,344.8 1056,347C1057.7,349.2 1059.3,351.7 1061,354C1062.7,356.3 1064.3,358.7 1066,361C1067.7,363.3 1069.5,365.7 1071,368C1072.5,370.3 1073.7,372.7 1075,375C1076.3,377.3 1078.3,380.8 1079,382M960.7,380C961.2,377.2 962.1,368.3 964,363.3C965.9,358.3 969.6,353.9 972.3,350C975.1,346.1 977.9,342.9 980.7,340C983.4,337.1 986.2,334.2 989,332.5C991.8,330.8 994.3,330.1 997.3,329.7C1000.4,329.2 1004.3,329.7 1007.3,330C1010.4,330.3 1014.3,331.4 1015.7,331.7M1034,343C1034.8,344 1037.2,347 1039,349C1040.8,351 1043,353.2 1045,355C1047,356.8 1049.3,358.3 1051,360C1052.7,361.7 1053.5,363 1055,365C1056.5,367 1058.5,369.7 1060,372C1061.5,374.3 1063.3,377.8 1064,379M990.7,380C991.2,377.8 992.6,369.7 994,366.7C995.4,363.6 996.5,362.8 999,361.7C1001.5,360.5 1005.4,359.8 1009,359.7C1012.6,359.5 1017.6,360.2 1020.7,360.8C1023.7,361.4 1025.1,361.8 1027.3,363.3C1029.6,364.9 1031.9,367.7 1034,370C1036.1,372.3 1039,375.8 1040,377M275.3,380C275.9,381.1 278,384.2 279,386.7C280,389.2 280.9,392.2 281.5,395C282.1,397.8 282.1,400.8 282.3,403.3C282.6,405.9 283,409.2 283.2,410.3M286.5,439.5C286.2,441.2 285.5,446.6 284.8,450C284.1,453.4 283.3,456.9 282.3,460C281.4,463.1 280.1,466.3 279,468.3C277.9,470.3 276.9,472 275.7,472C274.4,472 273.2,470.3 271.5,468.3C269.8,466.3 267.8,462.5 265.7,460C263.6,457.5 261.4,454.9 259,453.3C256.6,451.7 254,450.3 251.5,450.3C249,450.3 246.2,451.4 244,453.3C241.8,455.2 239.7,459.3 238.2,461.7C236.6,464 236.2,466.4 234.8,467.5C233.4,468.6 231.4,469 229.8,468.3C228.3,467.6 227.2,465.8 225.7,463.3C224.1,460.8 222.3,456.1 220.7,453.3C219,450.6 217.2,448.2 215.7,446.7C214.1,445.1 213.4,443.6 211.5,444.2C209.6,444.7 206.2,447.6 204,450C201.8,452.4 199.6,455.6 198.2,458.3C196.7,461.1 196,464.4 195.3,466.7C194.6,468.9 194.2,470.8 194,471.7M334,380C335.1,381.1 338.9,384.2 340.7,386.7C342.5,389.2 343.4,391.4 344.8,395C346.2,398.6 347.6,404 349,408.3C350.4,412.6 351.9,418.2 353.2,420.8C354.4,423.5 355,424 356.5,424.2C358,424.3 360.3,422.4 362.3,421.7C364.4,420.9 367.3,419.4 369,419.7C370.7,419.9 371.6,421.6 372.3,423.3C373.1,425.1 373.7,426.7 373.7,430C373.6,433.3 372.6,438.3 372,443.3C371.4,448.3 370.8,454.4 370.3,460C369.8,465.6 369.4,470.6 369,476.7C368.6,482.8 367.9,493.3 367.7,496.7M366.5,525.8C366.8,528.2 367.7,535.1 368.2,540C368.6,544.9 368.6,550 369,555C369.4,560 369.8,565.8 370.3,570C370.9,574.2 372,578.3 372.3,580M394,376.7 403.2,391.7M438.2,580C438.1,577.2 437.2,568.3 437.7,563.3C438.1,558.3 439.6,554.4 440.7,550C441.7,545.6 442.9,540.8 444,536.7C445.1,532.5 446.2,527.6 447.3,525C448.4,522.4 449.3,520.8 450.7,520.8C452.1,520.8 454.1,523.2 455.7,525C457.2,526.8 458.9,528.1 459.8,531.7C460.7,535.3 460.7,540.8 461,546.7C461.3,552.5 461.4,563.3 461.5,566.7M567.3,580C567.6,578.9 567.9,575 569,573.3C570.1,571.7 572.3,570.7 574,570C575.7,569.3 578,567.5 579,569.2C580,570.8 579.7,578.2 579.8,580M578,339C576.2,339.7 574,343.5 573,347C572,350.5 571.8,356 572,360C572.2,364 572.8,367.7 574,371C575.2,374.3 577.2,376.7 579,380C580.8,383.3 583,388 585,391C587,394 589.7,395.5 591,398C592.3,400.5 592.3,404.5 593,406C593.7,407.5 594.5,408.8 595,407C595.5,405.2 596,399.2 596,395C596,390.8 595.3,386.7 595,382C594.7,377.3 594.7,370.7 594,367C593.3,363.3 592,363.2 591,360C590,356.8 589.2,350.8 588,348C586.8,345.2 585.7,344.5 584,343C582.3,341.5 579.8,338.3 578,339ZM679.3,372.5C679.4,373.8 679.1,377.6 679.8,380C680.6,382.4 682.2,384.2 684,386.7C685.8,389.2 688.4,391.9 690.7,395C692.9,398.1 694.8,401.9 697.3,405C699.8,408.1 703.2,410.3 705.7,413.3C708.2,416.4 710.4,420 712.3,423.3C714.3,426.7 715.4,429.7 717.3,433.3C719.3,436.9 722.1,441.4 724,445C725.9,448.6 727.3,451.9 729,455C730.7,458.1 732.3,460.7 734,463.3C735.7,466 736.9,470.1 739,470.8C741.1,471.5 744.3,466.8 746.5,467.5C748.7,468.2 750.2,472.1 752.3,475C754.4,477.9 756.8,481.7 759,485C761.2,488.3 763.2,491.4 765.7,495C768.2,498.6 771.2,502.8 774,506.7C776.8,510.6 779.8,514.7 782.3,518.3C784.8,521.9 787.1,525.3 789,528.3C790.9,531.4 793.2,535.3 794,536.7M727.3,363.3C727.1,366.1 725.9,375 725.7,380C725.4,385 725.4,389.4 725.7,393.3C725.9,397.2 726.5,399.7 727.3,403.3C728.2,406.9 729.3,412.9 730.7,415C732,417.1 734.6,415.7 735.3,415.8M754.8,422.5C755.2,424.3 756.4,429.6 757.3,433.3C758.3,437.1 759,441.9 760.7,445C762.3,448.1 765.1,449.2 767.3,451.7C769.6,454.2 772.1,456.9 774,460C775.9,463.1 777.3,466.7 779,470C780.7,473.3 782.3,476.9 784,480C785.7,483.1 787.3,486.1 789,488.3C790.7,490.6 793.2,492.5 794,493.3M788.2,380C787.8,381.7 785.9,386.1 785.7,390C785.4,393.9 785.8,399.4 786.5,403.3C787.2,407.2 788.6,410.3 789.8,413.3C791.1,416.4 793.3,420.3 794,421.7M669.8,580C669.8,574.4 669.3,557.8 669.3,546.7C669.3,535.6 669.6,523.1 669.8,513.3C670.1,503.6 670.3,496.1 671,488.3C671.7,480.6 672.7,472.5 674,466.7C675.3,460.8 677.6,456.2 679,453.3C680.4,450.4 681.2,448.3 682.3,449.2C683.4,450 684.8,454.3 685.7,458.3C686.6,462.4 687.2,466.9 687.7,473.3C688.1,479.7 688.2,487.2 688.2,496.7C688.1,506.1 687.8,518.9 687.3,530C686.9,541.1 685.9,555 685.3,563.3C684.8,571.7 684.2,577.2 684,580M694,580C694.1,574.4 694.5,557.8 694.8,546.7C695.2,535.6 695.4,523.1 696,513.3C696.6,503.6 697.1,494.4 698.2,488.3C699.2,482.2 700.9,479.3 702.3,476.7C703.8,474 705.1,472.2 707,472.5C708.9,472.8 711.7,475.7 714,478.3C716.3,481 718.9,484.4 720.7,488.3C722.5,492.2 723.4,497.5 724.8,501.7C726.2,505.8 727.3,509.7 729,513.3C730.7,516.9 733.2,521.1 734.8,523.3C736.5,525.6 736.9,526.7 739,526.7C741.1,526.7 744.8,523.6 747.3,523.3C749.8,523.1 751.8,523.7 754,525.3C756.2,527 758.7,529.8 760.7,533.3C762.6,536.9 764,541.7 765.7,546.7C767.3,551.7 768.9,557.8 770.7,563.3C772.5,568.9 775.5,577.2 776.5,580M617.3,580C617.9,578.3 619.4,573.5 620.7,570C621.9,566.5 622.6,561.9 624.8,559.2C627.1,556.4 631.1,556.5 634,553.3C636.9,550.1 639.8,544 642.3,540C644.8,536 646.6,531.3 649,529.2C651.4,527 654.7,526.9 656.5,527C658.3,527.1 659.1,526.7 659.8,530C660.6,533.3 660.6,541.1 661,546.7C661.4,552.2 661.9,557.8 662,563.3C662.1,568.9 661.6,577.2 661.5,580M794,421.7C794.8,423.6 797.1,429.2 799,433.3C800.9,437.5 802.9,442.8 805.7,446.7C808.4,450.6 812.1,453.3 815.7,456.7C819.3,460 823.7,463.3 827.3,466.7C830.9,470 834,473.9 837.3,476.7C840.7,479.4 844,481.4 847.3,483.3C850.7,485.3 854.3,486.1 857.3,488.3C860.4,490.6 863.4,493.1 865.7,496.7C867.9,500.3 869,505.8 870.7,510C872.3,514.2 874.4,516.9 875.7,521.7C876.9,526.4 877.6,532.8 878.2,538.3C878.7,543.9 878.7,550.8 879,555C879.3,559.2 879.6,559.2 879.8,563.3C880.1,567.5 880.5,577.2 880.7,580M888.2,387.5C888.6,386.8 889.7,384.6 890.7,383.3C891.6,382.1 893.4,380.6 894,380M875.7,416.3C875.2,418.3 874.4,424.2 873.2,428.3C871.9,432.5 868,437.7 868.2,441.3C868.3,444.9 872.3,446.3 874,450C875.7,453.7 876.8,458.3 878.2,463.3C879.6,468.3 880.8,474.7 882.3,480C883.9,485.3 885.9,491.2 887.3,495C888.7,498.8 888.7,501.5 890.7,502.5C892.6,503.5 896.2,500.3 899,500.8C901.8,501.4 904.9,504 907.3,505.8C909.7,507.6 912.3,510.7 913.3,511.7M794,493.3C795.7,494.4 800.4,497.5 804,500C807.6,502.5 811.8,505.8 815.7,508.3C819.6,510.8 823.4,512.5 827.3,515C831.2,517.5 835.1,520.6 839,523.3C842.9,526.1 847.1,530 850.7,531.7C854.3,533.3 857.9,532.2 860.7,533.3C863.4,534.4 865.8,535.6 867.3,538.3C868.9,541.1 869,545.8 869.8,550C870.7,554.2 871.6,558.3 872.3,563.3C873,568.3 873.7,577.2 874,580M794,536.7C795.1,538.3 798.2,543.3 800.7,546.7C803.2,550 805.9,554 809,556.7C812.1,559.3 815.1,561.1 819,562.5C822.9,563.9 828.2,564.2 832.3,565C836.5,565.8 841,566.7 844,567.5C847,568.3 849.3,569.6 850.3,570M935.7,380C934.8,381.7 932.3,386.4 930.7,390C929,393.6 927.3,396.4 925.7,401.7C924,406.9 922.2,416.1 920.7,421.7C919.1,427.2 917.8,431.5 916.5,435C915.2,438.5 913,439.4 913.2,442.5C913.3,445.6 915.9,449.3 917.3,453.3C918.7,457.4 920.2,461.7 921.5,466.7C922.8,471.7 923.3,478.9 924.8,483.3C926.4,487.8 929,490 930.7,493.3C932.3,496.7 933.7,500.3 934.8,503.3C935.9,506.4 936.9,510.3 937.3,511.7M950.7,380C950.2,382.2 949.1,387.8 948.2,393.3C947.2,398.9 945.8,405.8 944.8,413.3C943.9,420.8 942.9,430 942.3,438.3C941.8,446.7 941.4,455.8 941.5,463.3C941.6,470.8 942.2,477.8 943.2,483.3C944.1,488.9 946.1,491.9 947.3,496.7C948.6,501.4 950.1,509.2 950.7,511.7M969,380C968.6,382.8 967.6,389.7 966.5,396.7C965.4,403.6 963.7,413.3 962.3,421.7C960.9,430 959.1,438.3 958.2,446.7C957.2,455 956.5,463.9 956.5,471.7C956.5,479.4 957.5,486.7 958.2,493.3C958.9,500 960.2,508.6 960.7,511.7M974,467.3C973.9,467.8 973.7,467.3 973.2,470C972.6,472.7 971.1,478.3 970.7,483.3C970.2,488.3 970.3,495.3 970.3,500C970.3,504.7 970.6,509.7 970.7,511.7M932.3,540.3C933.4,542.5 937.3,549.8 939,553.3C940.7,556.9 941.8,560.3 942.3,561.7M947.3,540.3C948.2,542.8 951.2,551.2 952.3,555C953.4,558.8 953.7,561.9 954,563.3M957.3,540.3C958.2,542.8 961.2,548.4 962.3,555C963.4,561.6 963.7,575.8 964,580M965.7,540.3C966.2,544.2 968.2,556.7 969,563.3C969.8,569.9 970.4,577.2 970.7,580M973.2,540.3 974,551.8M895.7,580C895.8,576.7 895.7,564.2 896.5,560C897.3,555.8 899,556.7 900.7,555C902.3,553.3 904.3,549.7 906.5,550C908.7,550.3 911.4,554.2 914,556.7C916.6,559.2 919.8,562.2 922.3,565C924.8,567.8 927.3,570.8 929,573.3C930.7,575.8 931.8,578.9 932.3,580M992.3,380C991.9,382.8 990.7,391.1 989.8,396.7C989,402.2 988,407.8 987.3,413.3C986.6,418.9 986.2,425 985.7,430C985.1,435 985.1,439.2 984,443.3C982.9,447.5 980.7,450.8 979,455C977.3,459.2 974.8,466.1 974,468.3C973.2,470.6 974,468.3 974,468.3M1011.5,458.3C1011.1,457.8 1010,456.9 1009,455C1008,453.1 1006.8,449.3 1005.7,446.7C1004.6,444 1003.7,440 1002.3,439.2C1001,438.3 998.4,437.6 997.7,441.7C997,445.7 998,455.6 998.2,463.3C998.3,471.1 998.4,480 998.7,488.3C998.9,496.7 999.4,505 999.8,513.3C1000.3,521.7 1000.9,530 1001.5,538.3C1002.1,546.7 1002.8,556.4 1003.2,563.3C1003.6,570.3 1003.9,577.2 1004,580M1044,487.5C1045.1,488.8 1048.4,493.8 1050.7,495C1052.9,496.2 1055.1,495.8 1057.3,495C1059.6,494.2 1061.8,492.5 1064,490C1066.2,487.5 1069,484.4 1070.7,480C1072.3,475.6 1073,468.9 1074,463.3C1075,457.8 1076,451.1 1076.5,446.7C1077,442.2 1077.7,440.8 1077,436.7C1076.3,432.5 1073.7,426.1 1072.3,421.7C1071,417.2 1070.1,413.3 1069,410C1067.9,406.7 1067.1,403.9 1065.7,401.7C1064.3,399.4 1063.2,399.2 1060.7,396.7C1058.2,394.2 1053.9,389.4 1050.7,386.7C1047.4,383.9 1042.6,381.1 1041,380M1068.2,380C1069.1,381.7 1071.9,386.4 1074,390C1076.1,393.6 1078.7,397.2 1080.7,401.7C1082.6,406.1 1084,411.4 1085.7,416.7C1087.3,421.9 1089.3,426.9 1090.7,433.3C1092.1,439.7 1093,447.2 1094,455C1095,462.8 1096.2,471.7 1096.5,480C1096.8,488.3 1096.4,497.2 1095.7,505C1095,512.8 1093.7,520.8 1092.3,526.7C1090.9,532.5 1089,535.6 1087.3,540C1085.7,544.4 1084,549.4 1082.3,553.3C1080.7,557.2 1079,560 1077.3,563.3C1075.7,566.7 1073.4,570.6 1072.3,573.3C1071.2,576.1 1070.9,578.9 1070.7,580M1079.8,380C1081.1,382.2 1085,388.6 1087.3,393.3C1089.7,398.1 1092.1,403.3 1094,408.3C1095.9,413.3 1097.3,418.3 1099,423.3C1100.7,428.3 1102.3,433.1 1104,438.3C1105.7,443.6 1107.6,449.4 1109,455C1110.4,460.6 1111.2,466.1 1112.3,471.7C1113.4,477.2 1114.7,482.2 1115.7,488.3C1116.6,494.4 1117.6,501.9 1118.2,508.3C1118.7,514.7 1119,520.3 1119,526.7C1119,533.1 1118.7,540.6 1118.2,546.7C1117.6,552.8 1116.6,557.8 1115.7,563.3C1114.7,568.9 1112.9,577.2 1112.3,580M1090.7,380C1091.8,382.2 1095.1,388.6 1097.3,393.3C1099.6,398.1 1101.8,403.3 1104,408.3C1106.2,413.3 1108.7,418.3 1110.7,423.3C1112.6,428.3 1114,433.1 1115.7,438.3C1117.3,443.6 1119,449.4 1120.7,455C1122.3,460.6 1124,466.1 1125.7,471.7C1127.3,477.2 1129,482.8 1130.7,488.3C1132.3,493.9 1134.1,498.9 1135.7,505C1137.2,511.1 1139.3,518.1 1139.8,525C1140.4,531.9 1139.3,540.3 1139,546.7C1138.7,553.1 1138.4,557.8 1138.2,563.3C1137.9,568.9 1137.5,577.2 1137.3,580M1100.7,380C1102.1,382.8 1106.2,391.1 1109,396.7C1111.8,402.2 1114.8,407.8 1117.3,413.3C1119.8,418.9 1121.8,424.4 1124,430C1126.2,435.6 1128.4,441.1 1130.7,446.7C1132.9,452.2 1135.1,457.8 1137.3,463.3C1139.6,468.9 1141.8,474.4 1144,480C1146.2,485.6 1149,492.8 1150.7,496.7C1152.3,500.6 1153.4,502.2 1154,503.3M1110.7,380C1112.1,382.8 1116.2,391.1 1119,396.7C1121.8,402.2 1124.6,407.8 1127.3,413.3C1130.1,418.9 1132.9,424.4 1135.7,430C1138.4,435.6 1141.5,441.7 1144,446.7C1146.5,451.7 1149,456.7 1150.7,460C1152.3,463.3 1153.4,465.6 1154,466.7M1120.7,380C1122.1,382.2 1126.2,388.6 1129,393.3C1131.8,398.1 1134.6,403.3 1137.3,408.3C1140.1,413.3 1142.9,418.6 1145.7,423.3C1148.4,428.1 1152.6,434.4 1154,436.7M1134,380C1135.4,382.2 1139.6,388.9 1142.3,393.3C1145.1,397.8 1148.7,403.6 1150.7,406.7C1152.6,409.7 1153.4,410.8 1154,411.7M1147.3,380 1154,388.3M974,555.7C974.1,556.9 974.6,559.3 974.8,563.3C975.1,567.4 975.5,577.2 975.7,580M194,586.7C194.4,587.2 195.4,586.9 196.5,590C197.6,593.1 198.9,599.2 200.7,605C202.5,610.8 205.1,619.7 207.3,625C209.6,630.3 211.8,633.7 214,636.7C216.2,639.7 218.3,641.9 220.7,643C223,644.1 225.7,644.7 228.2,643.3C230.7,642 233.3,638.3 235.7,635C238,631.7 240.1,627.8 242.3,623.3C244.6,618.9 246.9,613.1 249,608.3C251.1,603.6 253.2,598.2 254.8,595C256.5,591.8 257.5,590 259,589.2C260.5,588.3 262.3,588.8 264,590C265.7,591.2 267.3,593.6 269,596.7C270.7,599.7 272.3,604.2 274,608.3C275.7,612.5 277.3,617.8 279,621.7C280.7,625.6 282.1,628.1 284,631.7C285.9,635.3 288.4,639.2 290.7,643.3C292.9,647.5 295.4,653.5 297.3,656.7C299.3,659.9 300.1,660.3 302.3,662.5C304.6,664.7 308.4,667.6 310.7,670C312.9,672.4 314.4,673.6 315.7,676.7C316.9,679.7 317.3,684.4 318.2,688.3C319,692.2 320,696.5 320.7,700C321.4,703.5 322.1,707.6 322.3,709.2M326.5,738.7C326.6,741.4 326.9,750.1 327.3,755C327.8,759.9 328.3,764.2 329,768.3C329.7,772.5 331.1,778.1 331.5,780M372.3,580C372.8,581.7 373.7,586.7 374.8,590C375.9,593.3 377.5,596.7 379,600C380.5,603.3 382.6,606.7 384,610C385.4,613.3 386.8,618.3 387.3,620M441.5,596.3C441.5,599.2 441.1,608.6 441.5,613.3C441.9,618.1 442.5,621.1 444,625C445.5,628.9 448.7,634.5 450.7,636.7C452.6,638.8 453.7,638.8 455.7,638C457.6,637.2 460.5,634.1 462.3,631.7C464.1,629.2 465.8,629.2 466.5,623.3C467.2,617.4 466.5,600.8 466.5,596.3M404,649.2C404.8,650.7 406.8,654.9 409,658.3C411.2,661.8 414.3,665.8 417.3,670C420.4,674.2 424.3,678.3 427.3,683.3C430.4,688.3 433.2,694.4 435.7,700C438.2,705.6 440.1,711.1 442.3,716.7C444.6,722.2 447.1,728.3 449,733.3C450.9,738.3 452.6,742.5 454,746.7C455.4,750.8 455.4,755.3 457.3,758.3C459.3,761.4 462.9,762.5 465.7,765C468.4,767.5 471.8,770.8 474,773.3C476.2,775.8 478.2,778.9 479,780M518.2,780C517.8,775.8 516.6,763.3 515.7,755C514.7,746.7 513.4,737.5 512.3,730C511.2,722.5 510.2,716.9 509,710C507.8,703.1 505.8,695.6 504.8,688.3C503.9,681.1 503.7,673.6 503.2,666.7C502.6,659.7 501.6,653.6 501.5,646.7C501.4,639.7 501.4,630.3 502.3,625C503.3,619.7 505.4,617.5 507.3,615C509.3,612.5 511.5,609.6 514,610C516.5,610.4 520.4,614.2 522.3,617.5C524.3,620.8 524.6,625.1 525.7,630C526.8,634.9 527.6,640.6 529,646.7C530.4,652.7 533.2,663.1 534,666.3M538.2,695.5C538.2,698.5 538.8,707.6 538.7,713.3C538.6,719.1 538.2,724.4 537.7,730C537.2,735.6 536.6,741.1 535.7,746.7C534.8,752.2 533,757.8 532.3,763.3C531.6,768.9 531.6,777.2 531.5,780M564,612.2C563.9,615.1 562.6,623.7 563.2,630C563.7,636.3 566.1,644.2 567.3,650C568.6,655.8 569.8,662.3 570.7,665C571.5,667.7 571.2,667.4 572.3,666.3C573.4,665.2 576.2,661.6 577.3,658.3C578.4,655.1 578.6,651.4 579,646.7C579.4,641.9 579.8,635.8 579.8,630C579.8,624.2 579.1,615.1 579,612.2M567.3,573.3 567.3,583.3M579.3,569.2 579.8,583.3M549,780C549.8,778.1 552.1,772.5 554,768.3C555.9,764.2 558.4,759.2 560.7,755C562.9,750.8 565.9,747.5 567.3,743.3C568.7,739.2 567.9,733.9 569,730C570.1,726.1 572.5,722.4 574,720C575.5,717.6 576.8,715 578.2,715.8C579.6,716.7 580.8,721.8 582.3,725C583.9,728.2 585.4,731.7 587.3,735C589.3,738.3 592.9,743.3 594,745M618.2,580C618,582.2 617.3,587.8 617,593.3C616.7,598.9 616.5,606.7 616.5,613.3C616.5,620 616.6,627.8 617,633.3C617.4,638.9 617.6,642.5 619,646.7C620.4,650.8 623.6,654.2 625.7,658.3C627.8,662.5 629.8,666.7 631.5,671.7C633.2,676.7 634.4,681.9 635.7,688.3C636.9,694.7 637.9,703.1 639,710C640.1,716.9 641.6,724.4 642.3,730C643,735.6 643.4,738.9 643.2,743.3C642.9,747.8 641.6,752.8 640.7,756.7C639.7,760.6 638.4,764.2 637.3,766.7C636.2,769.2 635.9,771.5 634,771.7C632.1,771.8 628.4,769 625.7,767.5C622.9,766 619.8,763.5 617.3,762.5C614.8,761.5 613.2,763.2 610.7,761.7C608.2,760.1 605.1,756.2 602.3,753.3C599.6,750.4 595.4,745.7 594,744.2M660.7,580C660.6,584.2 660.6,596.7 660.3,605C660.1,613.3 659.5,619.9 659.3,630C659.2,640.1 659.3,659.4 659.3,665.3M669.8,580C669.8,584.2 669.8,596.7 669.8,605C669.9,613.3 670.2,619.9 670.3,630C670.5,640.1 670.6,659.4 670.7,665.3M684,580C683.7,582.8 682.9,589.7 682.3,596.7C681.8,603.6 681.2,613.3 680.7,621.7C680.1,630 679.3,639.4 679,646.7C678.7,653.9 678.7,662.2 678.7,665.3M694.8,580C694.8,584.2 694.5,596.7 694.3,605C694.2,613.3 693.9,621.7 694,630C694.1,638.3 694.7,649.1 694.8,655C695,660.9 694.8,661.2 694.8,665.3C694.9,669.5 695.5,674.8 695.3,680C695.2,685.2 694.3,688.3 694,696.7C693.7,705 693.9,718.9 693.7,730C693.4,741.1 692.9,755 692.7,763.3C692.4,771.7 692.4,777.2 692.3,780M658.2,694.7C658,697.8 657.8,707.4 657.3,713.3C656.9,719.2 655.8,724.4 655.7,730C655.5,735.6 655.9,741.1 656.5,746.7C657.1,752.2 658.3,757.8 659,763.3C659.7,768.9 660.4,777.2 660.7,780M672.3,694.7C672.4,697.8 672.5,707.4 672.7,713.3C672.8,719.2 672.7,725.6 673.2,730C673.7,734.4 674.7,740 675.7,740C676.6,740 678.4,734.4 679,730C679.6,725.6 679.3,719.2 679.3,713.3C679.3,707.4 679.1,697.8 679,694.7M724,780C723.4,778.1 722.3,771.9 720.7,768.3C719,764.7 716.1,763.3 714,758.3C711.9,753.3 709.4,744.4 708.2,738.3C706.9,732.2 707,728.1 706.5,721.7C706,715.3 705.7,706.9 705.3,700C705,693.1 704.3,686.1 704.3,680C704.4,673.9 704.6,668.9 705.7,663.3C706.7,657.8 709.2,651 710.7,646.7C712.1,642.4 713.4,636.9 714.3,637.5C715.3,638.1 715.9,644.6 716.5,650C717.1,655.4 717.6,663.6 718.2,670C718.7,676.4 719.1,682.5 719.8,688.3C720.5,694.2 721.4,699.4 722.3,705C723.3,710.6 724.6,716.1 725.7,721.7C726.8,727.2 728.2,733.1 729,738.3C729.8,743.6 730.4,750 730.7,753.3C730.9,756.7 729.5,758.2 730.3,758.3C731.2,758.5 733.4,755.1 735.7,754.2C737.9,753.2 741.8,752.1 744,752.5C746.2,752.9 747.3,754.9 749,756.7C750.7,758.5 752.6,760.8 754,763.3C755.4,765.8 756.2,768.9 757.3,771.7C758.4,774.4 760.1,778.6 760.7,780M776.5,580C776.9,581.1 777.5,584.2 779,586.7C780.5,589.2 783.7,592.2 785.7,595C787.6,597.8 789.3,601.1 790.7,603.3C792.1,605.6 793.4,607.5 794,608.3M794,607.5C794.6,608.8 796.2,612.5 797.3,615C798.4,617.5 799.3,620.8 800.7,622.5C802.1,624.2 803.4,625.1 805.7,625C807.9,624.9 810.9,622.9 814,621.7C817.1,620.4 820.4,618.6 824,617.5C827.6,616.4 832.1,615 835.7,615C839.3,615 842.9,616.4 845.7,617.5C848.4,618.6 850.4,619.6 852.3,621.7C854.3,623.8 856.1,626.4 857.3,630C858.6,633.6 859.3,638.3 859.8,643.3C860.4,648.3 860.5,654.2 860.7,660C860.8,665.8 860.7,675.3 860.7,678.3M865.7,591.7C865.9,592.5 866.6,593.1 867.3,596.7C868,600.3 869.3,606.4 869.8,613.3C870.4,620.3 870.5,630 870.7,638.3C870.9,646.7 870.9,656.7 871,663.3C871.1,670 871,675.8 871,678.3M875.7,591.7C875.9,595.3 876.9,604.2 877.3,613.3C877.8,622.5 877.9,635.6 878.2,646.7C878.4,657.8 878.7,671.7 879,680C879.3,688.3 879.6,692.2 879.8,696.7C880.1,701.1 880.2,703.3 880.7,706.7C881.1,710 881.2,715.8 882.3,716.7C883.4,717.5 885.9,713.9 887.3,711.7C888.7,709.4 890.1,708.6 890.7,703.3C891.2,698.1 890.1,688.1 890.7,680C891.2,671.9 893,662.8 894,655C895,647.2 895.5,638.3 896.5,633.3C897.5,628.3 898.2,628.1 899.8,625C901.5,621.9 904.1,615.6 906.5,615C908.9,614.4 911.4,619.9 914,621.7C916.6,623.5 920.4,624.7 922.3,625.8C924.2,626.9 924.8,627.9 925.3,628.3M880.7,591.7C880.9,593.9 881.8,601.5 882.3,605C882.9,608.5 882.6,611.2 884,612.5C885.4,613.8 889.3,613.8 890.7,612.5C892.1,611.2 891.8,608.5 892.3,605C892.9,601.5 893.7,593.9 894,591.7M864.8,706.7C865.1,709.2 865.9,716.4 866.5,721.7C867.1,726.9 867.6,732.8 868.2,738.3C868.7,743.9 869.4,750.6 869.8,755C870.2,759.4 870.5,763.3 870.7,765M873.2,706.7C873.6,709.2 875,716.4 875.7,721.7C876.4,726.9 876.8,732.8 877.3,738.3C877.9,743.9 878.6,750.6 879,755C879.4,759.4 879.7,763.3 879.8,765M819,780C819.6,777.2 821.2,770.3 822.3,763.3C823.4,756.4 824,745.3 825.7,738.3C827.3,731.4 830.4,725 832.3,721.7C834.3,718.3 835.7,718.3 837.3,718.3C839,718.3 840.7,719.2 842.3,721.7C844,724.2 845.8,729.2 847.3,733.3C848.9,737.5 850.5,741.4 851.5,746.7C852.5,751.9 852.9,761.9 853.2,765M899,780C899.3,777.2 900,769.4 900.7,763.3C901.4,757.2 902.3,748.6 903.2,743.3C904,738.1 904.4,733.8 905.7,731.7C906.9,729.6 909,730.6 910.7,730.8C912.3,731.1 914,731.8 915.7,733.3C917.3,734.9 919,737.2 920.7,740C922.3,742.8 924,746.1 925.7,750C927.3,753.9 929.3,758.3 930.7,763.3C932.1,768.3 933.4,777.2 934,780M929,640C929.6,642.5 931.2,649.7 932.3,655C933.4,660.3 934.6,666.1 935.7,671.7C936.8,677.2 938.2,682.8 939,688.3C939.8,693.9 940,699.4 940.7,705C941.4,710.6 942.5,716.1 943.2,721.7C943.9,727.2 944.1,732.8 944.8,738.3C945.5,743.9 946.5,749.4 947.3,755C948.2,760.6 949.3,767.5 949.8,771.7C950.4,775.8 950.5,778.6 950.7,780M951.5,640C951.9,643.9 953.2,653.9 954,663.3C954.8,672.8 955.8,688 956.5,696.7C957.2,705.3 957.5,707 958.2,715.3C958.9,723.7 960,735.9 960.7,746.7C961.4,757.4 962.1,774.4 962.3,780M960.7,640C960.9,643.9 961.8,653.9 962.3,663.3C962.9,672.8 963.3,685.6 964,696.7C964.7,707.8 965.8,718.9 966.5,730C967.2,741.1 967.8,755 968.2,763.3C968.6,771.7 968.9,777.2 969,780M965.7,640C966.1,643.9 967.5,653.9 968.2,663.3C968.9,672.8 969.1,685.6 969.8,696.7C970.5,707.8 971.6,718.9 972.3,730C973,741.1 973.7,757.8 974,763.3C974.3,768.9 974,763.3 974,763.3M971.5,640C971.9,643.9 973.6,659.4 974,663.3C974.4,667.2 974,663.3 974,663.3M937.3,591.7C937.9,593.3 939.6,598.2 940.7,601.7C941.8,605.1 943.4,610.7 944,612.5M950.7,591.7C951.2,593.3 953,598.2 954,601.7C955,605.1 956.1,610.7 956.5,612.5M960.7,591.7 962.3,612.5M965.7,580 967.3,612.5M970.7,580 972.3,612.5M975.7,580C976.2,584.2 977.8,596.7 979,605C980.2,613.3 981.9,621.5 983.2,630C984.4,638.5 985.4,653.1 986.5,655.8C987.6,658.6 988.6,652.4 989.8,646.7C991.1,641 992.6,630 994,621.7C995.4,613.3 997.1,603.6 998.2,596.7C999.3,589.7 1000.2,582.8 1000.7,580M975.7,671.7C976.2,677.2 977.9,693.9 979,705C980.1,716.1 981.4,729.2 982.3,738.3C983.3,747.5 983.9,755.7 984.8,760C985.8,764.3 986.5,764.4 988.2,764.2C989.8,763.9 993.3,762.6 994.8,758.3C996.4,754 996.5,745.8 997.3,738.3C998.2,730.8 999.1,721.1 999.8,713.3C1000.5,705.6 1000.5,697.5 1001.5,691.7C1002.5,685.8 1004.1,682.1 1005.7,678.3C1007.2,674.6 1008.6,671.4 1010.7,669.2C1012.8,666.9 1015.9,664.3 1018.2,665C1020.4,665.7 1022.2,670.3 1024,673.3C1025.8,676.4 1027.1,679.7 1029,683.3C1030.9,686.9 1033.4,691.7 1035.7,695C1037.9,698.3 1039.8,702.8 1042.3,703.3C1044.8,703.9 1047.9,700 1050.7,698.3C1053.4,696.7 1056.2,695 1059,693.3C1061.8,691.7 1065.2,690.6 1067.3,688.3C1069.4,686.1 1070.6,684.2 1071.5,680C1072.4,675.8 1072.5,670.1 1072.7,663.3C1072.8,656.6 1072.4,643.5 1072.3,639.5M1070.7,611.2C1070.8,608.8 1071.3,601.9 1071.5,596.7C1071.7,591.5 1071.9,582.8 1072,580M1111.5,580C1110.8,582.8 1108.4,589.7 1107.3,596.7C1106.2,603.6 1105.5,613.3 1104.8,621.7C1104.1,630 1103.7,638.3 1103.2,646.7C1102.6,655 1101.9,663.3 1101.5,671.7C1101.1,680 1100.8,686.9 1100.7,696.7C1100.6,706.4 1100.9,718.9 1101,730C1101.1,741.1 1101.3,755 1101.5,763.3C1101.7,771.7 1101.9,777.2 1102,780M1138.2,580C1137.5,582.8 1135.5,591.1 1134,596.7C1132.5,602.2 1130.7,608.3 1129,613.3C1127.3,618.3 1125.4,621.1 1124,626.7C1122.6,632.2 1121.5,639.2 1120.7,646.7C1119.8,654.2 1119.4,663.3 1119,671.7C1118.6,680 1118.2,686.9 1118.2,696.7C1118.2,706.4 1118.6,720.3 1119,730C1119.4,739.7 1120.1,748.1 1120.7,755C1121.2,761.9 1121.5,767.8 1122.3,771.7C1123.2,775.6 1124.3,776.9 1125.7,778.3C1127.1,779.7 1129.8,779.7 1130.7,780M1147.3,780C1147.9,778.6 1149.6,773.9 1150.7,771.7C1151.8,769.4 1153.4,767.5 1154,766.7M332.3,780C332.8,781.4 333.7,785 334.8,788.3C335.9,791.7 337.5,796.7 339,800C340.5,803.3 342.3,806.2 344,808.3C345.7,810.4 346.2,811.5 349,812.5C351.8,813.5 357.9,812.9 360.7,814.2C363.4,815.4 363.4,818.1 365.7,820C367.9,821.9 371.2,823.6 374,825.8C376.8,828.1 379.8,831 382.3,833.3C384.8,835.7 387.1,838.2 389,840C390.9,841.8 393.2,843.5 394,844.2M394,844.2C395.1,843.8 398.7,843.5 400.7,841.7C402.6,839.9 404,836.7 405.7,833.3C407.3,830 408.7,825.3 410.7,821.7C412.6,818.1 414.8,814.2 417.3,811.7C419.8,809.2 422.6,808.1 425.7,806.7C428.7,805.3 432.6,803.5 435.7,803.3C438.7,803.2 441.2,804.7 444,805.8C446.8,806.9 449.6,809 452.3,810C455.1,811 458.2,811.5 460.7,811.7C463.2,811.8 464.8,809.4 467.3,810.8C469.8,812.2 473.2,816.2 475.7,820C478.2,823.8 480.1,828.9 482.3,833.3C484.6,837.8 487.1,842.2 489,846.7C490.9,851.1 492.3,855.3 494,860C495.7,864.7 497.3,870 499,875C500.7,880 502.3,886.1 504,890C505.7,893.9 507.3,896.4 509,898.3C510.7,900.3 512.3,902.5 514,901.7C515.7,900.8 517.3,897.2 519,893.3C520.7,889.4 522.6,883.3 524,878.3C525.4,873.3 526.2,868.6 527.3,863.3C528.4,858.1 529.3,851.7 530.7,846.7C532.1,841.7 534,837.2 535.7,833.3C537.3,829.4 539,826.7 540.7,823.3C542.3,820 543.7,816.1 545.7,813.3C547.6,810.6 549.8,808.6 552.3,806.7C554.8,804.7 557.6,802.9 560.7,801.7C563.7,800.4 567.3,799.3 570.7,799.2C574,799 577.6,799.9 580.7,800.8C583.7,801.8 586.8,803.8 589,805C591.2,806.2 593.2,807.8 594,808.3M479,780C479.8,781.4 482.1,785 484,788.3C485.9,791.7 488.4,795.8 490.7,800C492.9,804.2 495.4,808.6 497.3,813.3C499.3,818.1 500.7,823.3 502.3,828.3C504,833.3 505.7,839.2 507.3,843.3C509,847.5 510.7,851.9 512.3,853.3C514,854.7 515.7,853.6 517.3,851.7C519,849.7 520.7,845.8 522.3,841.7C524,837.5 525.7,831.7 527.3,826.7C529,821.7 530.7,816.1 532.3,811.7C534,807.2 535.4,803.6 537.3,800C539.3,796.4 542.1,793.3 544,790C545.9,786.7 548.2,781.7 549,780M594,808.3C594.8,809.4 597.3,812.5 599,815C600.7,817.5 602.1,820.6 604,823.3C605.9,826.1 608.2,828.9 610.7,831.7C613.2,834.4 616.2,837.6 619,840C621.8,842.4 624.6,844.6 627.3,845.8C630.1,847.1 633.2,847.4 635.7,847.5C638.2,847.6 640.1,847.9 642.3,846.7C644.6,845.4 646.5,842.1 649,840C651.5,837.9 655.1,834.4 657.3,834.2C659.6,833.9 660.9,836.2 662.3,838.3C663.7,840.4 664.6,843.3 665.7,846.7C666.8,850 667.9,854.4 669,858.3C670.1,862.2 671.2,865.8 672.3,870C673.4,874.2 674.6,878.9 675.7,883.3C676.8,887.8 677.9,892.2 679,896.7C680.1,901.1 681.2,905.6 682.3,910C683.4,914.4 684.3,918.6 685.7,923.3C687.1,928.1 689.3,933.1 690.7,938.3C692.1,943.6 692.9,950 694,955C695.1,960 696.2,963.9 697.3,968.3C698.4,972.8 699.6,977.2 700.7,981.7C701.8,986.1 703.3,992.2 704,995C704.7,997.8 704.7,997.8 704.8,998.3M660.7,780C661.5,781.7 664,786.7 665.7,790C667.3,793.3 669,796.7 670.7,800C672.3,803.3 673.7,807.6 675.7,810C677.6,812.4 680.7,815 682.3,814.2C684,813.3 684.6,808.8 685.7,805C686.8,801.2 687.9,795.8 689,791.7C690.1,787.5 691.8,781.9 692.3,780M724,780C724.4,782.2 725.9,787.8 726.5,793.3C727.1,798.9 727.2,806.4 727.3,813.3C727.5,820.3 727.6,828.1 727.3,835C727.1,841.9 726.2,848.3 725.7,855C725.1,861.7 724.6,868.3 724,875C723.4,881.7 722.7,887.9 722.3,895C722,902.1 722.1,913.8 722,917.5M724,946.7C724.1,948 724.6,951.9 724.8,954.7C725.1,957.4 725.2,959.7 725.7,963.3C726.1,967 726.5,972.8 727.3,976.7C728.2,980.6 729.3,984.4 730.7,986.7C732.1,988.9 734.3,989.7 735.7,990C737.1,990.3 738,990.6 739,988.3C740,986.1 740.9,981.4 741.5,976.7C742.1,971.9 741.8,965 742.3,960C742.9,955 744,951.7 744.8,946.7C745.7,941.7 746.4,935.6 747.3,930C748.3,924.4 749.4,918.9 750.7,913.3C751.9,907.8 753.6,902.2 754.8,896.7C756.1,891.1 757.3,885 758.2,880C759,875 759.3,872.2 759.8,866.7C760.4,861.1 761,854.2 761.5,846.7C762,839.2 762.4,830 762.7,821.7C762.9,813.3 763.2,803.6 763.2,796.7C763.1,789.7 762.5,782.8 762.3,780M794,828.3C793.6,831.4 792.1,839.4 791.5,846.7C790.9,853.9 790.7,863.3 790.7,871.7C790.7,880 791.2,886.9 791.5,896.7C791.8,906.4 792.2,919.4 792.3,930C792.5,940.6 792.5,949.4 792.3,960C792.2,970.6 791.8,984.4 791.5,993.3C791.2,1002.2 790.8,1010 790.7,1013.3M819.8,780C819.1,781.7 817.5,786.7 815.7,790C813.9,793.3 811.2,796.9 809,800C806.8,803.1 804.1,805.3 802.3,808.3C800.5,811.4 799.3,814.7 798.2,818.3C797.1,821.9 796.4,826.9 795.7,830C795,833.1 794.3,835.6 794,836.7M859.8,794.7C859.8,797.8 860.1,806.1 859.8,813.3C859.6,820.6 858.9,831.4 858.2,838.3C857.5,845.3 856.8,848.1 855.7,855C854.6,861.9 852.9,872.5 851.5,880C850.1,887.5 848.4,893.1 847.3,900C846.2,906.9 845.4,913.9 844.8,921.7C844.3,929.4 843.9,938.9 844,946.7C844.1,954.4 845.1,961.1 845.7,968.3C846.2,975.6 846.8,983.6 847.3,990C847.9,996.4 848.6,1002.8 849,1006.7C849.4,1010.6 849.7,1012.2 849.8,1013.3M872.3,794.7C872.3,797.8 872.5,806.1 872.3,813.3C872.2,820.6 871.9,830 871.5,838.3C871.1,846.7 870.5,856.4 869.8,863.3C869.1,870.3 868.3,874.4 867.3,880C866.4,885.6 865.1,889.7 864,896.7C862.9,903.6 861.6,914.7 860.7,921.7C859.7,928.6 858.6,930.6 858.2,938.3C857.8,946.1 857.9,959.7 858.2,968.3C858.4,976.9 859.3,983.6 859.8,990C860.4,996.4 861.1,1002.8 861.5,1006.7C861.9,1010.6 862.2,1012.2 862.3,1013.3M880.7,780C880.8,782.8 881.1,791.1 881.5,796.7C881.9,802.2 882.3,808.3 883.2,813.3C884,818.3 885.2,822.9 886.5,826.7C887.8,830.4 889.4,835.8 890.7,835.8C891.9,835.8 893,830.4 894,826.7C895,822.9 895.8,818.3 896.5,813.3C897.2,808.3 897.8,802.2 898.2,796.7C898.6,791.1 898.9,782.8 899,780M911.5,856.3C911.8,855.3 912.5,852.2 913.2,850C913.9,847.8 914.7,845.6 915.7,843.3C916.6,841.1 917.7,838.3 919,836.7C920.3,835 922.9,833.9 923.7,833.3M903.2,885.8C902.8,887.6 901.2,892.1 900.7,896.7C900.1,901.2 899.8,907.8 899.8,913.3C899.8,918.9 900.2,924.4 900.7,930C901.1,935.6 901.8,942.2 902.3,946.7C902.9,951.1 902.9,953.3 904,956.7C905.1,960 907.6,963.3 909,966.7C910.4,970 911.2,973.6 912.3,976.7C913.4,979.7 914.3,982.9 915.7,985C917.1,987.1 918.7,988.5 920.7,989.2C922.6,989.9 926.2,989.2 927.3,989.2M927.3,989.2C925.1,989.3 917.1,989.3 914,990C910.9,990.7 910.1,991.4 909,993.3C907.9,995.3 908.7,1000 907.3,1001.7C905.9,1003.3 902.9,1002.8 900.7,1003.3C898.4,1003.9 895.7,1003.9 894,1005C892.3,1006.1 889.6,1008.9 890.7,1010C891.8,1011.1 897.3,1011.5 900.7,1011.7C904,1011.8 908.2,1010.8 910.7,1010.8C913.2,1010.8 914.8,1011.5 915.7,1011.7M919,1000C919.8,998.9 922.6,998.1 925.7,998.3C928.7,998.6 936.5,1000.3 937.3,1001.7C938.2,1003.1 932.9,1005.3 930.7,1006.7C928.4,1008.1 925.7,1010.3 924,1010C922.3,1009.7 921.5,1006.7 920.7,1005C919.8,1003.3 918.2,1001.1 919,1000ZM930.7,839.5C930.9,842.1 931.6,849.6 932.3,855C933,860.4 934.1,866.1 934.8,871.7C935.5,877.2 936.1,882.8 936.5,888.3C936.9,893.9 937.1,899.4 937.3,905C937.6,910.6 937.6,916.1 938.2,921.7C938.7,927.2 939.4,933.6 940.7,938.3C941.9,943.1 944,946.4 945.7,950C947.3,953.6 949.3,956.9 950.7,960C952.1,963.1 952.6,965.8 954,968.3C955.4,970.8 957.1,973.3 959,975C960.9,976.7 963.2,977.2 965.7,978.3C968.2,979.4 972.6,981.1 974,981.7C975.4,982.2 974,981.7 974,981.7M937.3,785C937.9,786.9 939.6,792.4 940.7,796.7C941.8,801 943.4,808.5 944,810.8M950.7,780C951.2,782.2 953,788.8 954,793.3C955,797.9 956.1,805.1 956.5,807.5M949.8,839.5C950.2,842.1 951.4,849.6 952.3,855C953.3,860.4 954.6,866.1 955.7,871.7C956.8,877.2 957.9,882.8 959,888.3C960.1,893.9 961.4,899.4 962.3,905C963.3,910.6 963.9,916.7 964.8,921.7C965.8,926.7 966.9,929.7 968.2,935C969.4,940.3 971.4,949.2 972.3,953.3C973.3,957.5 973.7,958.9 974,960M962.3,780 965.7,807.5M964,839.5C964.6,843.5 966.2,855.2 967.3,863.3C968.4,871.5 969.6,881.8 970.7,888.3C971.8,894.9 973.4,900.4 974,902.8M969,780 973.2,807.5M972.3,836.3 974,849.8M940.7,1010C940.8,1007.2 940.4,997.5 941.5,993.3C942.6,989.2 944.1,985.7 947.3,985C950.5,984.3 959.6,987.5 960.7,989.2C961.8,990.8 956.2,993.1 954,995C951.8,996.9 947.3,999.2 947.3,1000.8C947.3,1002.5 951.2,1004 954,1005C956.8,1006 960.9,1005.7 964,1006.7C967.1,1007.6 970.9,1010.1 972.3,1010.8M974,957.8C974.3,958.7 975.1,960.7 975.7,963.3C976.2,965.9 975.4,970 977.3,973.3C979.3,976.7 984,981.9 987.3,983.3C990.7,984.7 994.8,982.8 997.3,981.7C999.8,980.6 1001.2,978.3 1002.3,976.7C1003.4,975 1003.7,972.5 1004,971.7M974,905C974.1,905.8 974,905 974.8,910C975.7,915 977.6,927.8 979,935C980.4,942.2 981.8,948.9 983.2,953.3C984.6,957.8 985.2,959.4 987.3,961.7C989.4,963.9 992.6,965.8 995.7,966.7C998.7,967.5 1002.6,967.5 1005.7,966.7C1008.7,965.8 1010.9,962.8 1014,961.7C1017.1,960.6 1020.1,960.6 1024,960C1027.9,959.4 1033.4,959.2 1037.3,958.3C1041.2,957.5 1044.6,956.9 1047.3,955C1050.1,953.1 1051.8,948.6 1054,946.7C1056.2,944.7 1057.1,943.9 1060.7,943.3C1064.3,942.8 1073.2,943.3 1075.7,943.3M974,844.4C974.1,847 974.1,853.2 974.8,860C975.5,866.8 976.9,876.7 978.2,885C979.4,893.3 980.9,901.7 982.3,910C983.7,918.3 985.2,928.3 986.5,935C987.8,941.7 988.6,946.1 989.8,950C991.1,953.9 991.9,956.4 994,958.3C996.1,960.3 999.3,961.7 1002.3,961.7C1005.4,961.7 1009.3,959.3 1012.3,958.3C1015.4,957.4 1017.1,956.4 1020.7,955.8C1024.3,955.3 1030.1,955.4 1034,955C1037.9,954.6 1041.2,954.7 1044,953.3C1046.8,951.9 1048.4,948.9 1050.7,946.7C1052.9,944.4 1054.6,941.4 1057.3,940C1060.1,938.6 1064.3,938.6 1067.3,938.3C1070.4,938.1 1074.3,938.3 1075.7,938.3M974.8,780C975.5,785.6 977.9,800 979,813.3C980.1,826.7 980.5,848.1 981.5,860C982.5,871.9 983.6,876.7 984.8,885C986.1,893.3 987.8,901.7 989,910C990.2,918.3 991.2,928.3 992.3,935C993.4,941.7 994.3,946.7 995.7,950C997.1,953.3 998.4,954.2 1000.7,955C1002.9,955.8 1006.2,955.7 1009,955C1011.8,954.3 1014.6,951.8 1017.3,950.8C1020.1,949.9 1022.3,949.3 1025.7,949.2C1029,949 1034.3,950.4 1037.3,950C1040.4,949.6 1041.8,948.3 1044,946.7C1046.2,945 1048.4,941.7 1050.7,940C1052.9,938.3 1054.6,937.4 1057.3,936.7C1060.1,936 1064.3,936.1 1067.3,935.8C1070.4,935.6 1074.3,935.1 1075.7,935M980.7,780C981.2,782.8 982.9,791.1 984,796.7C985.1,802.2 986.2,807.2 987.3,813.3C988.4,819.4 989.6,827.8 990.7,833.3C991.8,838.9 992.1,842.5 994,846.7C995.9,850.8 1000.1,857.8 1002.3,858.3C1004.6,858.9 1005.7,853.9 1007.3,850C1009,846.1 1010.8,840 1012.3,835C1013.9,830 1015.1,822.9 1016.5,820C1017.9,817.1 1019.1,817.2 1020.7,817.5C1022.2,817.8 1024.3,819.3 1025.7,821.7C1027.1,824 1028,828.4 1029,831.7C1030,834.9 1031.1,839.7 1031.5,841.3M989.8,880C990.4,883.3 992.1,894.2 993.2,900C994.3,905.8 995.4,911.1 996.5,915C997.6,918.9 998.7,920.7 999.8,923.3C1000.9,926 1001.4,929.7 1003.2,930.8C1005,931.9 1008.6,931.5 1010.7,930C1012.8,928.5 1014.3,923.5 1015.7,921.7C1017.1,919.9 1017.6,919.3 1019,919.2C1020.4,919 1022.3,919.6 1024,920.8C1025.7,922.1 1027.1,924.9 1029,926.7C1030.9,928.5 1033.2,930.7 1035.7,931.7C1038.2,932.6 1040.9,932.6 1044,932.5C1047.1,932.4 1050.7,931.2 1054,930.8C1057.3,930.4 1060.4,929.9 1064,930C1067.6,930.1 1073.7,931.4 1075.7,931.7M1045.7,870.5C1046.5,871.8 1048.4,876.1 1050.7,878.3C1052.9,880.6 1055.7,882.5 1059,884.2C1062.3,885.8 1067.3,886.8 1070.7,888.3C1074,889.9 1076.2,891.1 1079,893.3C1081.8,895.6 1084.6,898.9 1087.3,901.7C1090.1,904.4 1093.2,907.5 1095.7,910C1098.2,912.5 1100.5,915.3 1102.3,916.7C1104.1,918 1104.8,918.8 1106.5,918C1108.2,917.2 1110.2,914.1 1112.3,911.7C1114.4,909.2 1117.2,905.6 1119,903.3C1120.8,901.1 1122.1,901.7 1123.2,898.3C1124.3,895 1125,889.2 1125.7,883.3C1126.4,877.5 1127.1,869.4 1127.3,863.3C1127.6,857.2 1127.9,851.7 1127.3,846.7C1126.8,841.7 1125.4,837.8 1124,833.3C1122.6,828.9 1120.7,824.4 1119,820C1117.3,815.6 1115.7,811.1 1114,806.7C1112.3,802.2 1110.7,797.8 1109,793.3C1107.3,788.9 1104.8,782.2 1104,780M1154,911.7C1152.9,911.8 1150.1,911.7 1147.3,912.5C1144.6,913.3 1140.4,914.9 1137.3,916.7C1134.3,918.5 1131.5,921.2 1129,923.3C1126.5,925.4 1124.8,927.9 1122.3,929.2C1119.8,930.4 1116.8,930.4 1114,930.8C1111.2,931.3 1106.8,931.8 1105.3,932M1105.3,935C1107.9,934.9 1115.3,934.6 1120.7,934.2C1126,933.8 1131.8,933.1 1137.3,932.5C1142.9,931.9 1151.2,931.1 1154,930.8M1105.3,938.3C1107.9,938.2 1115.3,937.8 1120.7,937.5C1126,937.2 1131.8,936.8 1137.3,936.3C1142.9,935.9 1151.2,935.2 1154,935M1105.3,941.7C1107.9,941.6 1115.3,941.4 1120.7,941.2C1126,940.9 1131.8,940.7 1137.3,940.3C1142.9,940 1151.2,939.4 1154,939.2M1105.3,945C1107.9,944.9 1115.3,944.9 1120.7,944.7C1126,944.5 1131.8,944.2 1137.3,943.8C1142.9,943.5 1151.2,942.7 1154,942.5M1105.3,950C1107.3,950.1 1113.4,950.4 1117.3,950.8C1121.3,951.2 1125.1,951.7 1129,952.5C1132.9,953.3 1136.5,954.6 1140.7,955.8C1144.8,957.1 1151.8,959.3 1154,960M1154,950C1151.8,950 1144.8,949.6 1140.7,950C1136.5,950.4 1130.9,952.1 1129,952.5M1047.3,968.3C1048.4,966.9 1052.3,962.5 1054,960C1055.7,957.5 1055.1,954.7 1057.3,953.3C1059.6,951.9 1064.3,952.1 1067.3,951.7C1070.4,951.2 1074.3,951 1075.7,950.8M1057.3,953.3C1057.6,955.3 1057.3,963.9 1059,965C1060.7,966.1 1064.6,961.7 1067.3,960C1070.1,958.3 1074.3,955.8 1075.7,955M1100.7,971.7C1101.2,970.7 1106.8,969.6 1110.7,969.2C1114.6,968.8 1120,968.8 1124,969.2C1128,969.5 1133.7,970.5 1134.8,971.3C1135.9,972.2 1133,973.4 1130.7,974.2C1128.3,974.9 1124.6,975.7 1120.7,975.8C1116.8,976 1110.7,975.7 1107.3,975C1104,974.3 1100.1,972.6 1100.7,971.7ZM1054.8,989.2C1055.2,988.1 1057.5,985.6 1059,985C1060.5,984.4 1062.5,985.3 1064,985.8C1065.5,986.4 1068.2,987.4 1068.2,988.3C1068.2,989.3 1065.4,990.7 1064,991.7C1062.6,992.6 1061.1,994.2 1059.8,994.2C1058.6,994.2 1057.3,992.5 1056.5,991.7C1055.7,990.8 1054.4,990.3 1054.8,989.2ZM1007.3,973.3C1007.9,975 1008.4,981.7 1010.7,983.3C1012.9,985 1017.3,984.2 1020.7,983.3C1024,982.5 1027.3,980 1030.7,978.3C1034,976.7 1037.9,974.4 1040.7,973.3C1043.4,972.2 1046.2,971.9 1047.3,971.7M974,984.4C975.1,984.8 978,986 980.7,986.7C983.3,987.3 989,986.9 989.8,988.3C990.7,989.7 987.1,992.8 985.7,995C984.3,997.2 981.6,999.4 981.5,1001.7C981.4,1003.9 983.7,1006.8 984.8,1008.3C985.9,1009.9 987.6,1010.4 988.2,1010.8M1034,1010.8C1036.2,1010.3 1042.9,1007.9 1047.3,1007.5C1051.8,1007.1 1058.4,1008.2 1060.7,1008.3M1092.3,1009.2C1093.7,1008.9 1097.6,1007.9 1100.7,1007.5C1103.7,1007.1 1109,1006.8 1110.7,1006.7M1130.7,991.7C1132.3,992.2 1136.8,993.9 1140.7,995C1144.6,996.1 1151.8,997.8 1154,998.3M1130.7,1001.7C1132.3,1002.2 1136.8,1003.9 1140.7,1005C1144.6,1006.1 1151.8,1007.8 1154,1008.3M974,624.4C974.3,628.1 975,637.4 975.7,646.7C976.4,655.9 977.3,668.9 978.2,680C979,691.1 979.8,702.2 980.7,713.3C981.5,724.4 982.5,738.3 983.2,746.7C983.9,755 984.4,757.8 984.8,763.3C985.2,768.9 985.5,777.2 985.7,780" fill="none" stroke="#ff9966" stroke-width="2.6" stroke-linejoin="round" stroke-linecap="round"/></g>
<rect x="391.5" y="197.2" width="47.2" height="29.1" fill="none" stroke="#ff9966" stroke-width="1"/><text class="lb" x="396" y="219.7" font-size="26" textLength="38.2" lengthAdjust="spacingAndGlyphs" style="fill:#ff9966">.15</text><rect x="775.2" y="226.3" width="46.3" height="29" fill="none" stroke="#ff9966" stroke-width="1"/><text class="lb" x="779.7" y="248.8" font-size="26" textLength="37.3" lengthAdjust="spacingAndGlyphs" style="fill:#ff9966">.15</text><rect x="843.5" y="249.5" width="30.2" height="29.2" fill="none" stroke="#ff9966" stroke-width="1"/><text class="lb" x="848" y="272.1" font-size="26" textLength="21.2" lengthAdjust="spacingAndGlyphs" style="fill:#ff9966">.3</text><rect x="771.2" y="287.5" width="46.1" height="28.3" fill="none" stroke="#ff9966" stroke-width="1"/><text class="lb" x="775.7" y="309.6" font-size="26" textLength="37.1" lengthAdjust="spacingAndGlyphs" style="fill:#ff9966">.45</text><rect x="651.2" y="343.3" width="47.8" height="29.2" fill="none" stroke="#ff9966" stroke-width="1"/><text class="lb" x="655.7" y="365.9" font-size="26" textLength="38.8" lengthAdjust="spacingAndGlyphs" style="fill:#ff9966">.45</text><rect x="769" y="350.4" width="47.5" height="29" fill="none" stroke="#ff9966" stroke-width="1"/><text class="lb" x="773.5" y="372.9" font-size="26" textLength="38.5" lengthAdjust="spacingAndGlyphs" style="fill:#ff9966">.75</text><rect x="403.2" y="375" width="31.6" height="29.7" fill="none" stroke="#ff9966" stroke-width="1"/><text class="lb" x="407.7" y="397.8" font-size="26" textLength="22.6" lengthAdjust="spacingAndGlyphs" style="fill:#ff9966">.3</text><rect x="735.3" y="393.3" width="30.4" height="29.2" fill="none" stroke="#ff9966" stroke-width="1"/><text class="lb" x="739.8" y="415.9" font-size="26" textLength="21.4" lengthAdjust="spacingAndGlyphs" style="fill:#ff9966">.6</text><rect x="264.3" y="410.3" width="46.4" height="29.2" fill="none" stroke="#ff9966" stroke-width="1"/><text class="lb" x="268.8" y="432.9" font-size="26" textLength="37.4" lengthAdjust="spacingAndGlyphs" style="fill:#ff9966">.15</text><rect x="351.2" y="497.2" width="31.6" height="28.6" fill="none" stroke="#ff9966" stroke-width="1"/><text class="lb" x="355.7" y="519.5" font-size="26" textLength="22.6" lengthAdjust="spacingAndGlyphs" style="fill:#ff9966">.3</text><rect x="935.3" y="271.3" width="30.4" height="28.4" fill="none" stroke="#ff9966" stroke-width="1"/><text class="lb" x="939.8" y="293.5" font-size="26" textLength="21.4" lengthAdjust="spacingAndGlyphs" style="fill:#ff9966">.6</text><rect x="1016" y="312.5" width="44.3" height="27.8" fill="none" stroke="#ff9966" stroke-width="1"/><text class="lb" x="1020.5" y="334.4" font-size="26" textLength="35.3" lengthAdjust="spacingAndGlyphs" style="fill:#ff9966">1.2</text><rect x="866.5" y="387.5" width="30" height="28.8" fill="none" stroke="#ff9966" stroke-width="1"/><text class="lb" x="871" y="409.9" font-size="26" textLength="21" lengthAdjust="spacingAndGlyphs" style="fill:#ff9966">.9</text><rect x="1005.3" y="458.3" width="44.2" height="29.2" fill="none" stroke="#ff9966" stroke-width="1"/><text class="lb" x="1009.8" y="480.9" font-size="26" textLength="35.2" lengthAdjust="spacingAndGlyphs" style="fill:#ff9966">1.5</text><rect x="913.3" y="511.7" width="60.4" height="28.6" fill="none" stroke="#ff9966" stroke-width="1"/><text class="lb" x="917.8" y="534" font-size="26" textLength="51.4" lengthAdjust="spacingAndGlyphs" style="fill:#ff9966">1.05</text><rect x="439.3" y="567" width="47.2" height="29.3" fill="none" stroke="#ff9966" stroke-width="1"/><text class="lb" x="443.8" y="589.6" font-size="26" textLength="38.2" lengthAdjust="spacingAndGlyphs" style="fill:#ff9966">.45</text><rect x="551.5" y="583.3" width="31.2" height="28.9" fill="none" stroke="#ff9966" stroke-width="1"/><text class="lb" x="556" y="605.7" font-size="26" textLength="22.2" lengthAdjust="spacingAndGlyphs" style="fill:#ff9966">.3</text><rect x="379.3" y="620" width="31.4" height="29" fill="none" stroke="#ff9966" stroke-width="1"/><text class="lb" x="383.8" y="642.5" font-size="26" textLength="22.4" lengthAdjust="spacingAndGlyphs" style="fill:#ff9966">.3</text><rect x="514.3" y="666.3" width="47.5" height="29.2" fill="none" stroke="#ff9966" stroke-width="1"/><text class="lb" x="518.8" y="688.9" font-size="26" textLength="38.5" lengthAdjust="spacingAndGlyphs" style="fill:#ff9966">.45</text><rect x="648.2" y="665.3" width="45.8" height="29.4" fill="none" stroke="#ff9966" stroke-width="1"/><text class="lb" x="652.7" y="688" font-size="26" textLength="36.8" lengthAdjust="spacingAndGlyphs" style="fill:#ff9966">.45</text><rect x="301.5" y="709.2" width="47.5" height="29.5" fill="none" stroke="#ff9966" stroke-width="1"/><text class="lb" x="306" y="731.9" font-size="26" textLength="38.5" lengthAdjust="spacingAndGlyphs" style="fill:#ff9966">.15</text><rect x="925.3" y="612.5" width="47.4" height="27.5" fill="none" stroke="#ff9966" stroke-width="1"/><text class="lb" x="929.8" y="634.2" font-size="26" textLength="38.4" lengthAdjust="spacingAndGlyphs" style="fill:#ff9966">.75</text><rect x="1040.3" y="611.2" width="61.5" height="28.3" fill="none" stroke="#ff9966" stroke-width="1"/><text class="lb" x="1044.8" y="633.3" font-size="26" textLength="52.5" lengthAdjust="spacingAndGlyphs" style="fill:#ff9966">1.35</text><rect x="847.3" y="678.3" width="30" height="28.4" fill="none" stroke="#ff9966" stroke-width="1"/><text class="lb" x="851.8" y="700.5" font-size="26" textLength="21" lengthAdjust="spacingAndGlyphs" style="fill:#ff9966">.3</text><rect x="833.2" y="765" width="47.5" height="29.7" fill="none" stroke="#ff9966" stroke-width="1"/><text class="lb" x="837.7" y="787.8" font-size="26" textLength="38.5" lengthAdjust="spacingAndGlyphs" style="fill:#ff9966">.15</text><rect x="923.7" y="810.8" width="46.1" height="28.7" fill="none" stroke="#ff9966" stroke-width="1"/><text class="lb" x="928.2" y="833.1" font-size="26" textLength="37.1" lengthAdjust="spacingAndGlyphs" style="fill:#ff9966">.45</text><rect x="1016.2" y="841.3" width="45.8" height="29.2" fill="none" stroke="#ff9966" stroke-width="1"/><text class="lb" x="1020.7" y="863.9" font-size="26" textLength="36.8" lengthAdjust="spacingAndGlyphs" style="fill:#ff9966">1.2</text><rect x="892.3" y="856.3" width="30.4" height="29.5" fill="none" stroke="#ff9966" stroke-width="1"/><text class="lb" x="896.8" y="879" font-size="26" textLength="21.4" lengthAdjust="spacingAndGlyphs" style="fill:#ff9966">.3</text><rect x="707.3" y="917.5" width="30.4" height="29.2" fill="none" stroke="#ff9966" stroke-width="1"/><text class="lb" x="711.8" y="940.1" font-size="26" textLength="21.4" lengthAdjust="spacingAndGlyphs" style="fill:#ff9966">.3</text><rect x="1075.7" y="930.8" width="29.6" height="28.7" fill="none" stroke="#ff9966" stroke-width="1"/><text class="lb" x="1080.2" y="953.1" font-size="26" textLength="20.6" lengthAdjust="spacingAndGlyphs" style="fill:#ff9966">.6</text><rect x="1099.3" y="980" width="30.5" height="28.3" fill="none" stroke="#ff9966" stroke-width="1"/><text class="lb" x="1103.8" y="1002.1" font-size="26" textLength="21.5" lengthAdjust="spacingAndGlyphs" style="fill:#ff9966">.3</text><rect x="685.3" y="998.3" width="47.4" height="29.2" fill="none" stroke="#ff9966" stroke-width="1"/><text class="lb" x="689.8" y="1020.9" font-size="26" textLength="38.4" lengthAdjust="spacingAndGlyphs" style="fill:#ff9966">.15</text><rect x="932.3" y="562.5" width="30" height="28.5" fill="none" stroke="#ff9966" stroke-width="1"/><text class="lb" x="936.8" y="584.7" font-size="26" textLength="21" lengthAdjust="spacingAndGlyphs" style="fill:#ff9966">.9</text>
<path d="M985,529h3.4v3.4h-3.4zM601,531.5h3.4v3.4h-3.4z" fill="#ff9966"/><path d="M746.3,382.5V393.3" stroke="#ff9966" stroke-width="4.5" stroke-linecap="round" fill="none"/>
<path d="M302.7,251.7L268.7,267M276.9,258.1L268.7,267L280.8,266.7M410.7,252.8L369.3,250.8M381.6,246.4L369.3,250.8L381.1,256.4M194,308.7L214.3,310M208.1,312.2L214.3,310L208.4,307M302.3,316.2L331.5,325.3M321.6,326.3L331.5,325.3L323.9,318.9M194,378.7L231.5,370.8M221.2,377.9L231.5,370.8L219.3,368.5M519,261.7L458.7,230.8M471.6,231.8L458.7,230.8L467.1,240.8M519,328.3L517,311.7M519.7,316.4L517,311.7L515.5,316.9M410.7,317.7L414.3,314.3M413,317.3L414.3,314.3L411.3,315.4M626.5,262L557.7,252M570.3,248.7L557.7,252L568.9,258.7M734.8,262L674.8,248.3M687.7,246.1L674.8,248.3L685.4,255.9M626.5,329.2L596.5,320.3M606.6,319.2L596.5,320.3L604.4,326.8M734.8,328L669.8,303.8M682.8,303.3L669.8,303.8L679.3,312.7M842.3,328.3L773.7,270M786.1,273.9L773.7,270L779.6,281.6M842.3,261.7L794,217.5M806.3,221.9L794,217.5L799.5,229.3M950.7,260L910.3,252M923.1,249.4L910.3,252L921.1,259.3M950.7,327L884.8,319.7M897.3,316L884.8,319.7L896.2,326M1058.2,326.7L1004.8,240.8M1015.4,248.4L1004.8,240.8L1006.9,253.7M1058.2,259.2L1042.3,226.7M1051.2,234.4L1042.3,226.7L1043,238.4M1062.3,400L989.8,317M1001.5,322.7L989.8,317L993.9,329.4M302.3,388L347.3,389.7M335.2,394.3L347.3,389.7L335.5,384.2M194,457.5L216.5,441.7M211.7,449.3L216.5,441.7L207.8,443.6M302.3,468.8L318.7,468.8M313.8,470.9L318.7,468.8L313.8,466.8M194,545L224.8,537.5M216.5,543.6L224.8,537.5L214.6,535.9M303.2,558.3L303.7,566.7M302.2,563.7L303.7,566.7L304.7,563.6M409.8,390L464.8,381.3M453.8,388.2L464.8,381.3L452.2,378.2M518.2,403.3L566.5,405M554.3,409.6L566.5,405L554.7,399.5M410.7,470.8L409.8,447.5M413,454.4L409.8,447.5L407.1,454.6M518.2,485.8L527.3,489.2M524.1,489.3L527.3,489.2L524.9,487M411.5,560.8L394.8,544.2M401.9,547.1L394.8,544.2L397.7,551.3M519,578L495.7,574.2M503.1,572.4L495.7,574.2L502.2,578.3M626,404.5L653.7,397.5M646.2,403.1L653.7,397.5L644.5,396.1M734.8,402.5L719.3,381.3M726.7,385.7L719.3,381.3L721.3,389.6M626,486.3L645.7,504.2M637.5,501.3L645.7,504.2L642,496.3M733.7,486.3L751.5,522.5M741.7,514L751.5,522.5L750.7,509.5M950.7,400.8L889.8,388.7M902.6,386.1L889.8,388.7L900.6,396M842.3,402.5L785.7,359.2M798.3,362.5L785.7,359.2L792.2,370.5M950.7,484.2L901.5,465.8M914.5,465.3L901.5,465.8L911,474.7M842.3,485.8L827.3,475M833.2,476.4L827.3,475L830.5,480.1M1059,483.3L1014.8,446.7M1027.3,450.5L1014.8,446.7L1020.8,458.2M1059,575.8L1007,550M1020,550.8L1007,550L1015.5,559.9M194,644.2L216.5,647M209.4,649L216.5,647L210.1,643.3M302.3,657.5L321.5,667.5M314.5,666.9L321.5,667.5L317,662.1M194,735.8L204.3,750.3M199.4,747.3L204.3,750.3L203.1,744.7M302.3,754.2L306.5,756.3M303.3,756.1L306.5,756.3L304.4,753.8M409.8,660L424.8,668.3M419.3,667.7L424.8,668.3L421.4,663.9M518.2,680.8L523.2,687.5M520.4,685.9L523.2,687.5L522.4,684.3M409.8,756.3L419.8,763.3M416,762.5L419.8,763.3L417.7,760M626.5,580.8L604.8,585M610.8,581L604.8,585L611.9,586.5M733.7,576.7L724,612.5M722.4,600.5L724,612.5L731.4,603M626.5,683.3L615.7,678.7M619.5,678.7L615.7,678.7L618.3,681.4M734.8,680.8L714,683.3M719.9,680L714,683.3L720.6,685.2M949,578.3L926.5,598.3M930.7,589.5L926.5,598.3L935.8,595.2M842.3,680.8L822.3,685.3M827.8,681.5L822.3,685.3L828.9,686.5M950.7,678.7L910.3,690.3M920.5,682.2L910.3,690.3L923.3,691.8M1058.7,678.3L991.5,664.2M1004.3,661.7L991.5,664.2L1002.2,671.6M302.3,812.5L309.8,815.8M306.6,815.8L309.8,815.8L307.6,813.5M302.3,901.7L300.7,909.2M300.1,906L300.7,909.2L302.5,906.5M194,882.5L205.7,883M202.1,884.3L205.7,883L202.2,881.4M519.3,841.7L503.2,865.3M505,856.2L503.2,865.3L511,860.3M519.3,932.5L500.7,973.3M501.1,960.3L500.7,973.3L510.2,964.5M410.7,904.7L395.7,908.3M399.7,905.3L395.7,908.3L400.6,909.1M407.3,811.7L411.5,816.7M408.6,815.2L411.5,816.7L410.5,813.6M626.5,781.7L615.7,785.8M618.4,783.2L615.7,785.8L619.4,785.9M626.5,844.2L609.8,829.2M616.7,831.6L609.8,829.2L612.9,835.8M734.8,842L710.7,838.3M718.4,836.4L710.7,838.3L717.5,842.5M626.5,934.2L599.8,897.5M611,904.2L599.8,897.5L602.8,910.2M734.8,932.5L701.5,922M712.8,920.9L701.5,922L710.2,929.4M626.5,1015.8L619.8,1001.3M623.7,1004.8L619.8,1001.3L620,1006.5M842.3,780L825.7,790.3M829.4,785.1L825.7,790.3L832,789.3M944.8,780L924.8,787.5M929.9,782.7L924.8,787.5L931.8,787.8M842.3,842L803.2,838.7M815.3,834.7L803.2,838.7L814.5,844.6M950.7,838.7L913.2,847.5M923.3,840.1L913.2,847.5L925.5,849.6M842.3,932L802.3,926.7M814.9,923.3L802.3,926.7L813.6,933.2M950.7,930L905.3,925.8M917.7,921.9L905.3,925.8L916.8,932M842.3,1012.5L828.2,1012.5M832.4,1010.7L828.2,1012.5L832.4,1014.3M950.7,1010.8L930.7,1010.8M936.7,1008.3L930.7,1010.8L936.7,1013.4M1052.3,780L1028.2,790.3M1034.1,784.2L1028.2,790.3L1036.7,790.3M1058.7,838.3L1021,849.2M1030.9,841.2L1021,849.2L1033.7,850.7M1059,928.8L1008.2,926.3M1020.4,921.9L1008.2,926.3L1019.9,932M1059,1010L1031.5,1010M1039.8,1006.5L1031.5,1010L1039.8,1013.5" fill="none" stroke="#000" stroke-width="1.7" stroke-linejoin="miter" stroke-linecap="butt"/>
</g>
<path d="M194.5,1055.5v-12M194.5,179.5v12M214.3,1055.5v-6M214.3,179.5v6M234.2,1055.5v-6M234.2,179.5v6M254,1055.5v-6M254,179.5v6M273.9,1055.5v-6M273.9,179.5v6M293.7,1055.5v-6M293.7,179.5v6M313.5,1055.5v-6M313.5,179.5v6M333.4,1055.5v-6M333.4,179.5v6M353.2,1055.5v-6M353.2,179.5v6M373.1,1055.5v-6M373.1,179.5v6M392.9,1055.5v-12M392.9,179.5v12M412.7,1055.5v-6M412.7,179.5v6M432.6,1055.5v-6M432.6,179.5v6M452.4,1055.5v-6M452.4,179.5v6M472.3,1055.5v-6M472.3,179.5v6M492.1,1055.5v-6M492.1,179.5v6M511.9,1055.5v-6M511.9,179.5v6M531.8,1055.5v-6M531.8,179.5v6M551.6,1055.5v-6M551.6,179.5v6M571.5,1055.5v-6M571.5,179.5v6M591.3,1055.5v-12M591.3,179.5v12M611.1,1055.5v-6M611.1,179.5v6M631,1055.5v-6M631,179.5v6M650.8,1055.5v-6M650.8,179.5v6M670.7,1055.5v-6M670.7,179.5v6M690.5,1055.5v-6M690.5,179.5v6M710.3,1055.5v-6M710.3,179.5v6M730.2,1055.5v-6M730.2,179.5v6M750,1055.5v-6M750,179.5v6M769.9,1055.5v-6M769.9,179.5v6M789.7,1055.5v-12M789.7,179.5v12M809.5,1055.5v-6M809.5,179.5v6M829.4,1055.5v-6M829.4,179.5v6M849.2,1055.5v-6M849.2,179.5v6M869.1,1055.5v-6M869.1,179.5v6M888.9,1055.5v-6M888.9,179.5v6M908.7,1055.5v-6M908.7,179.5v6M928.6,1055.5v-6M928.6,179.5v6M948.4,1055.5v-6M948.4,179.5v6M968.3,1055.5v-6M968.3,179.5v6M988.1,1055.5v-12M988.1,179.5v12M1007.9,1055.5v-6M1007.9,179.5v6M1027.8,1055.5v-6M1027.8,179.5v6M1047.6,1055.5v-6M1047.6,179.5v6M1067.5,1055.5v-6M1067.5,179.5v6M1087.3,1055.5v-6M1087.3,179.5v6M1107.1,1055.5v-6M1107.1,179.5v6M1127,1055.5v-6M1127,179.5v6M1146.8,1055.5v-6M1146.8,179.5v6M194.5,179.5h12M1154.5,179.5h-12M194.5,191.5h6M1154.5,191.5h-6M194.5,203.5h6M1154.5,203.5h-6M194.5,215.5h6M1154.5,215.5h-6M194.5,227.5h6M1154.5,227.5h-6M194.5,239.5h6M1154.5,239.5h-6M194.5,251.5h6M1154.5,251.5h-6M194.5,263.5h6M1154.5,263.5h-6M194.5,275.5h6M1154.5,275.5h-6M194.5,287.5h6M1154.5,287.5h-6M194.5,299.5h12M1154.5,299.5h-12M194.5,311.5h6M1154.5,311.5h-6M194.5,323.5h6M1154.5,323.5h-6M194.5,335.5h6M1154.5,335.5h-6M194.5,347.5h6M1154.5,347.5h-6M194.5,359.5h6M1154.5,359.5h-6M194.5,371.5h6M1154.5,371.5h-6M194.5,383.5h6M1154.5,383.5h-6M194.5,395.5h6M1154.5,395.5h-6M194.5,407.5h6M1154.5,407.5h-6M194.5,419.5h12M1154.5,419.5h-12M194.5,431.5h6M1154.5,431.5h-6M194.5,443.5h6M1154.5,443.5h-6M194.5,455.5h6M1154.5,455.5h-6M194.5,467.5h6M1154.5,467.5h-6M194.5,479.5h6M1154.5,479.5h-6M194.5,491.5h6M1154.5,491.5h-6M194.5,503.5h6M1154.5,503.5h-6M194.5,515.5h6M1154.5,515.5h-6M194.5,527.5h6M1154.5,527.5h-6M194.5,539.5h12M1154.5,539.5h-12M194.5,551.5h6M1154.5,551.5h-6M194.5,563.5h6M1154.5,563.5h-6M194.5,575.5h6M1154.5,575.5h-6M194.5,587.5h6M1154.5,587.5h-6M194.5,599.5h6M1154.5,599.5h-6M194.5,611.5h6M1154.5,611.5h-6M194.5,623.5h6M1154.5,623.5h-6M194.5,635.5h6M1154.5,635.5h-6M194.5,647.5h6M1154.5,647.5h-6M194.5,659.5h12M1154.5,659.5h-12M194.5,671.5h6M1154.5,671.5h-6M194.5,683.5h6M1154.5,683.5h-6M194.5,695.5h6M1154.5,695.5h-6M194.5,707.5h6M1154.5,707.5h-6M194.5,719.5h6M1154.5,719.5h-6M194.5,731.5h6M1154.5,731.5h-6M194.5,743.5h6M1154.5,743.5h-6M194.5,755.5h6M1154.5,755.5h-6M194.5,767.5h6M1154.5,767.5h-6M194.5,779.5h12M1154.5,779.5h-12M194.5,791.5h6M1154.5,791.5h-6M194.5,803.5h6M1154.5,803.5h-6M194.5,815.5h6M1154.5,815.5h-6M194.5,827.5h6M1154.5,827.5h-6M194.5,839.5h6M1154.5,839.5h-6M194.5,851.5h6M1154.5,851.5h-6M194.5,863.5h6M1154.5,863.5h-6M194.5,875.5h6M1154.5,875.5h-6M194.5,887.5h6M1154.5,887.5h-6M194.5,899.5h12M1154.5,899.5h-12M194.5,911.5h6M1154.5,911.5h-6M194.5,923.5h6M1154.5,923.5h-6M194.5,935.5h6M1154.5,935.5h-6M194.5,947.5h6M1154.5,947.5h-6M194.5,959.5h6M1154.5,959.5h-6M194.5,971.5h6M1154.5,971.5h-6M194.5,983.5h6M1154.5,983.5h-6M194.5,995.5h6M1154.5,995.5h-6M194.5,1007.5h6M1154.5,1007.5h-6M194.5,1019.5h12M1154.5,1019.5h-12M194.5,1031.5h6M1154.5,1031.5h-6M194.5,1043.5h6M1154.5,1043.5h-6" stroke="#000" stroke-width="1" fill="none" shape-rendering="crispEdges"/>
<rect x="194.5" y="179.5" width="960.0" height="876.0" fill="none" stroke="#000" stroke-width="1.4" shape-rendering="crispEdges"/>
<text class="sans" x="140.5" y="185.3" font-size="16.5" textLength="33.5" lengthAdjust="spacingAndGlyphs">300</text>
<text class="sans" x="140.5" y="305.3" font-size="16.5" textLength="33.5" lengthAdjust="spacingAndGlyphs">400</text>
<text class="sans" x="140.5" y="425.3" font-size="16.5" textLength="33.5" lengthAdjust="spacingAndGlyphs">500</text>
<text class="sans" x="140.5" y="545.3" font-size="16.5" textLength="33.5" lengthAdjust="spacingAndGlyphs">600</text>
<text class="sans" x="140.5" y="665.3" font-size="16.5" textLength="33.5" lengthAdjust="spacingAndGlyphs">700</text>
<text class="sans" x="140.5" y="785.3" font-size="16.5" textLength="33.5" lengthAdjust="spacingAndGlyphs">800</text>
<text class="sans" x="140.5" y="905.3" font-size="16.5" textLength="33.5" lengthAdjust="spacingAndGlyphs">900</text>
<text class="sans" x="129" y="1025.3" font-size="16.5" textLength="45" lengthAdjust="spacingAndGlyphs">1000</text>
<text class="sans" x="189.2" y="1080" font-size="16.5" textLength="10.5" lengthAdjust="spacingAndGlyphs">0</text>
<text class="sans" x="376.9" y="1080" font-size="16.5" textLength="32" lengthAdjust="spacingAndGlyphs">100</text>
<text class="sans" x="575.3" y="1080" font-size="16.5" textLength="32" lengthAdjust="spacingAndGlyphs">200</text>
<text class="sans" x="773.7" y="1080" font-size="16.5" textLength="32" lengthAdjust="spacingAndGlyphs">300</text>
<text class="sans" x="972.1" y="1080" font-size="16.5" textLength="32" lengthAdjust="spacingAndGlyphs">400</text>
<text class="tt" x="592.5" y="1105.5" font-size="24" textLength="163" lengthAdjust="spacingAndGlyphs">Distance (km)</text>
<text class="tt2" x="195.5" y="1105" font-size="22" textLength="16" lengthAdjust="spacingAndGlyphs">W</text>
<text class="tt2" x="1141.5" y="1105" font-size="22" textLength="13" lengthAdjust="spacingAndGlyphs">E</text>
<text class="tt" transform="translate(136.5,704.5) rotate(-90)" font-size="25" textLength="173" lengthAdjust="spacingAndGlyphs">Pressure (hPa)</text>
<text class="tt" x="81" y="26" font-size="27" textLength="371" lengthAdjust="spacingAndGlyphs">Init: 00 UTC Tue 02 Jan 18</text>
<text class="tt" x="1064" y="26" font-size="27" textLength="165" lengthAdjust="spacingAndGlyphs" xml:space="preserve">Fcst:   60 h</text>
<text class="tt" x="534" y="53" font-size="27" textLength="733" lengthAdjust="spacingAndGlyphs">Valid: 12 UTC Thu 04 Jan 18 (07 EST Thu 04 Jan 18)</text>
<text class="tt" x="88" y="76.5" font-size="24" style="fill:#404040" textLength="476" lengthAdjust="spacingAndGlyphs">Equivalent Potential Temperature (K)</text>
<text class="tt" x="88" y="101.3" font-size="24" style="fill:#008000" textLength="393" lengthAdjust="spacingAndGlyphs">Rain Water Mixing Ratio (g/kg)</text>
<text class="tt" x="88" y="126" font-size="24" style="fill:#ff9966" textLength="318" lengthAdjust="spacingAndGlyphs">Snow Mixing Ratio (g/kg)</text>
<text class="tt" x="88" y="151" font-size="24" style="fill:#ee82ee" textLength="354" lengthAdjust="spacingAndGlyphs">Graupel Mixing Ratio (g/kg)</text>
<rect x="1190.5" y="179.5" width="19.0" height="27.4" fill="rgb(255,0,0)" stroke="#000" stroke-width="1" shape-rendering="crispEdges"/>
<rect x="1190.5" y="206.9" width="19.0" height="27.4" fill="rgb(255,16,16)" stroke="#000" stroke-width="1" shape-rendering="crispEdges"/>
<rect x="1190.5" y="234.2" width="19.0" height="27.4" fill="rgb(255,32,32)" stroke="#000" stroke-width="1" shape-rendering="crispEdges"/>
<rect x="1190.5" y="261.6" width="19.0" height="27.4" fill="rgb(255,48,48)" stroke="#000" stroke-width="1" shape-rendering="crispEdges"/>
<rect x="1190.5" y="289" width="19.0" height="27.4" fill="rgb(255,64,64)" stroke="#000" stroke-width="1" shape-rendering="crispEdges"/>
<rect x="1190.5" y="316.4" width="19.0" height="27.4" fill="rgb(255,80,80)" stroke="#000" stroke-width="1" shape-rendering="crispEdges"/>
<rect x="1190.5" y="343.8" width="19.0" height="27.4" fill="rgb(255,96,96)" stroke="#000" stroke-width="1" shape-rendering="crispEdges"/>
<rect x="1190.5" y="371.1" width="19.0" height="27.4" fill="rgb(255,112,112)" stroke="#000" stroke-width="1" shape-rendering="crispEdges"/>
<rect x="1190.5" y="398.5" width="19.0" height="27.4" fill="rgb(255,128,128)" stroke="#000" stroke-width="1" shape-rendering="crispEdges"/>
<rect x="1190.5" y="425.9" width="19.0" height="27.4" fill="rgb(255,144,144)" stroke="#000" stroke-width="1" shape-rendering="crispEdges"/>
<rect x="1190.5" y="453.2" width="19.0" height="27.4" fill="rgb(255,160,160)" stroke="#000" stroke-width="1" shape-rendering="crispEdges"/>
<rect x="1190.5" y="480.6" width="19.0" height="27.4" fill="rgb(255,176,176)" stroke="#000" stroke-width="1" shape-rendering="crispEdges"/>
<rect x="1190.5" y="508" width="19.0" height="27.4" fill="rgb(255,192,192)" stroke="#000" stroke-width="1" shape-rendering="crispEdges"/>
<rect x="1190.5" y="535.4" width="19.0" height="27.4" fill="rgb(255,208,208)" stroke="#000" stroke-width="1" shape-rendering="crispEdges"/>
<rect x="1190.5" y="562.8" width="19.0" height="27.4" fill="rgb(255,224,224)" stroke="#000" stroke-width="1" shape-rendering="crispEdges"/>
<rect x="1190.5" y="590.1" width="19.0" height="27.4" fill="rgb(255,240,240)" stroke="#000" stroke-width="1" shape-rendering="crispEdges"/>
<rect x="1190.5" y="617.5" width="19.0" height="27.4" fill="rgb(240,240,255)" stroke="#000" stroke-width="1" shape-rendering="crispEdges"/>
<rect x="1190.5" y="644.9" width="19.0" height="27.4" fill="rgb(224,224,255)" stroke="#000" stroke-width="1" shape-rendering="crispEdges"/>
<rect x="1190.5" y="672.2" width="19.0" height="27.4" fill="rgb(208,208,255)" stroke="#000" stroke-width="1" shape-rendering="crispEdges"/>
<rect x="1190.5" y="699.6" width="19.0" height="27.4" fill="rgb(192,192,255)" stroke="#000" stroke-width="1" shape-rendering="crispEdges"/>
<rect x="1190.5" y="727" width="19.0" height="27.4" fill="rgb(176,176,255)" stroke="#000" stroke-width="1" shape-rendering="crispEdges"/>
<rect x="1190.5" y="754.4" width="19.0" height="27.4" fill="rgb(160,160,255)" stroke="#000" stroke-width="1" shape-rendering="crispEdges"/>
<rect x="1190.5" y="781.8" width="19.0" height="27.4" fill="rgb(144,144,255)" stroke="#000" stroke-width="1" shape-rendering="crispEdges"/>
<rect x="1190.5" y="809.1" width="19.0" height="27.4" fill="rgb(128,128,255)" stroke="#000" stroke-width="1" shape-rendering="crispEdges"/>
<rect x="1190.5" y="836.5" width="19.0" height="27.4" fill="rgb(112,112,255)" stroke="#000" stroke-width="1" shape-rendering="crispEdges"/>
<rect x="1190.5" y="863.9" width="19.0" height="27.4" fill="rgb(96,96,255)" stroke="#000" stroke-width="1" shape-rendering="crispEdges"/>
<rect x="1190.5" y="891.2" width="19.0" height="27.4" fill="rgb(80,80,255)" stroke="#000" stroke-width="1" shape-rendering="crispEdges"/>
<rect x="1190.5" y="918.6" width="19.0" height="27.4" fill="rgb(64,64,255)" stroke="#000" stroke-width="1" shape-rendering="crispEdges"/>
<rect x="1190.5" y="946" width="19.0" height="27.4" fill="rgb(48,48,255)" stroke="#000" stroke-width="1" shape-rendering="crispEdges"/>
<rect x="1190.5" y="973.4" width="19.0" height="27.4" fill="rgb(32,32,255)" stroke="#000" stroke-width="1" shape-rendering="crispEdges"/>
<rect x="1190.5" y="1000.8" width="19.0" height="27.4" fill="rgb(16,16,255)" stroke="#000" stroke-width="1" shape-rendering="crispEdges"/>
<rect x="1190.5" y="1028.1" width="19.0" height="27.4" fill="rgb(0,0,255)" stroke="#000" stroke-width="1" shape-rendering="crispEdges"/>
<text class="tt2" x="1222.5" y="241.1" font-size="21.5" textLength="25" lengthAdjust="spacingAndGlyphs">28</text>
<text class="tt2" x="1222.5" y="295.8" font-size="21.5" textLength="25" lengthAdjust="spacingAndGlyphs">24</text>
<text class="tt2" x="1222.5" y="350.6" font-size="21.5" textLength="25" lengthAdjust="spacingAndGlyphs">20</text>
<text class="tt2" x="1222.5" y="405.3" font-size="21.5" textLength="25" lengthAdjust="spacingAndGlyphs">16</text>
<text class="tt2" x="1222.5" y="460.1" font-size="21.5" textLength="25" lengthAdjust="spacingAndGlyphs">12</text>
<text class="tt2" x="1222.5" y="514.8" font-size="21.5" textLength="11.5" lengthAdjust="spacingAndGlyphs">8</text>
<text class="tt2" x="1222.5" y="569.5" font-size="21.5" textLength="11.5" lengthAdjust="spacingAndGlyphs">4</text>
<text class="tt2" x="1222.5" y="624.3" font-size="21.5" textLength="11.5" lengthAdjust="spacingAndGlyphs">0</text>
<text class="tt2" x="1222.5" y="679" font-size="21.5" textLength="28" lengthAdjust="spacingAndGlyphs">−4</text>
<text class="tt2" x="1222.5" y="733.8" font-size="21.5" textLength="28" lengthAdjust="spacingAndGlyphs">−8</text>
<text class="tt2" x="1222.5" y="788.5" font-size="21.5" textLength="41" lengthAdjust="spacingAndGlyphs">−12</text>
<text class="tt2" x="1222.5" y="843.3" font-size="21.5" textLength="41" lengthAdjust="spacingAndGlyphs">−16</text>
<text class="tt2" x="1222.5" y="898" font-size="21.5" textLength="41" lengthAdjust="spacingAndGlyphs">−20</text>
<text class="tt2" x="1222.5" y="952.8" font-size="21.5" textLength="41" lengthAdjust="spacingAndGlyphs">−24</text>
<text class="tt2" x="1222.5" y="1007.5" font-size="21.5" textLength="41" lengthAdjust="spacingAndGlyphs">−28</text>
<text x="1221" y="187" font-size="22">°C</text>
<path d="M1243.5,1184.5V1099.5M1235,1115L1243.5,1099.5L1252,1115M1243.5,1184.5H1173.5M1189,1176L1173.5,1184.5L1189,1193" stroke="#000" stroke-width="1.5" fill="none"/>
<text class="tt2" x="341.5" y="1190.7" font-size="16.5" textLength="157" lengthAdjust="spacingAndGlyphs">MAXIMUM VECTOR:</text>
<text class="tt2" x="518.5" y="1190.7" font-size="16.5" textLength="172" lengthAdjust="spacingAndGlyphs">24.4 m s<tspan dy="-6" font-size="11">−1</tspan><tspan dy="6"> (HORIZ)</tspan></text>
<text class="tt2" x="769" y="1190.7" font-size="16.5" textLength="179" lengthAdjust="spacingAndGlyphs">50.3 dPa s<tspan dy="-6" font-size="11">−1</tspan><tspan dy="6"> (VERT)</tspan></text>
</svg>
</body></html>
